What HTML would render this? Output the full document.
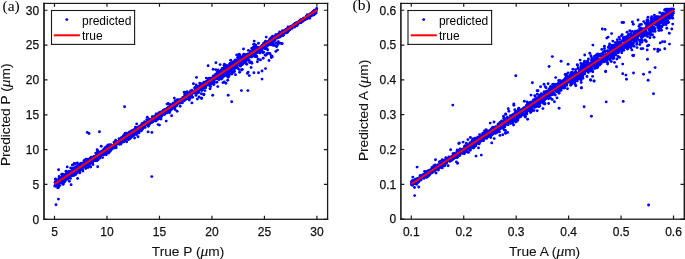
<!DOCTYPE html>
<html><head><meta charset="utf-8"><style>
html,body{margin:0;padding:0;background:#fff;width:685px;height:259px;overflow:hidden}
svg{display:block;will-change:transform}
text{font-family:"Liberation Sans",sans-serif;fill:#000}
.tk{font-size:12px;fill:#111;stroke:#111;stroke-width:0.25px}
.lb{font-size:13.7px;fill:#111;stroke:#111;stroke-width:0.1px}
.lg{font-size:12px;fill:#000}
.pn{font-family:"Liberation Serif",serif;font-size:15.5px;fill:#000}
</style></head><body>
<svg width="685" height="259" viewBox="0 0 685 259">
<g fill="#0000ff"><circle cx="218.5" cy="72.1" r="1.45"/><circle cx="289.9" cy="28.3" r="1.45"/><circle cx="258.0" cy="51.5" r="1.45"/><circle cx="113.6" cy="145.7" r="1.45"/><circle cx="133.2" cy="132.3" r="1.45"/><circle cx="283.7" cy="34.8" r="1.45"/><circle cx="55.9" cy="183.3" r="1.45"/><circle cx="269.9" cy="39.2" r="1.45"/><circle cx="263.6" cy="44.5" r="1.45"/><circle cx="177.3" cy="102.6" r="1.45"/><circle cx="134.0" cy="135.5" r="1.45"/><circle cx="127.5" cy="136.8" r="1.45"/><circle cx="121.4" cy="142.1" r="1.45"/><circle cx="171.3" cy="105.6" r="1.45"/><circle cx="186.9" cy="97.4" r="1.45"/><circle cx="199.7" cy="89.5" r="1.45"/><circle cx="315.7" cy="13.1" r="1.45"/><circle cx="262.5" cy="45.3" r="1.45"/><circle cx="217.7" cy="77.6" r="1.45"/><circle cx="314.0" cy="12.9" r="1.45"/><circle cx="111.0" cy="145.8" r="1.45"/><circle cx="96.5" cy="156.9" r="1.45"/><circle cx="215.2" cy="77.3" r="1.45"/><circle cx="66.0" cy="171.3" r="1.45"/><circle cx="63.9" cy="180.0" r="1.45"/><circle cx="189.6" cy="95.9" r="1.45"/><circle cx="176.8" cy="102.7" r="1.45"/><circle cx="295.1" cy="23.7" r="1.45"/><circle cx="219.6" cy="78.4" r="1.45"/><circle cx="189.4" cy="95.5" r="1.45"/><circle cx="184.9" cy="99.9" r="1.45"/><circle cx="119.4" cy="144.2" r="1.45"/><circle cx="57.6" cy="181.6" r="1.45"/><circle cx="105.0" cy="153.0" r="1.45"/><circle cx="236.1" cy="63.6" r="1.45"/><circle cx="107.1" cy="150.0" r="1.45"/><circle cx="151.4" cy="120.4" r="1.45"/><circle cx="55.5" cy="184.4" r="1.45"/><circle cx="272.3" cy="42.1" r="1.45"/><circle cx="95.0" cy="158.2" r="1.45"/><circle cx="124.7" cy="138.2" r="1.45"/><circle cx="285.5" cy="30.9" r="1.45"/><circle cx="188.2" cy="96.4" r="1.45"/><circle cx="276.7" cy="35.7" r="1.45"/><circle cx="222.3" cy="72.0" r="1.45"/><circle cx="249.1" cy="55.4" r="1.45"/><circle cx="78.5" cy="167.2" r="1.45"/><circle cx="196.5" cy="90.0" r="1.45"/><circle cx="187.7" cy="95.0" r="1.45"/><circle cx="283.1" cy="35.2" r="1.45"/><circle cx="149.3" cy="124.0" r="1.45"/><circle cx="211.4" cy="81.4" r="1.45"/><circle cx="70.0" cy="174.2" r="1.45"/><circle cx="156.2" cy="120.7" r="1.45"/><circle cx="139.2" cy="129.2" r="1.45"/><circle cx="93.9" cy="158.4" r="1.45"/><circle cx="268.7" cy="43.1" r="1.45"/><circle cx="154.0" cy="119.2" r="1.45"/><circle cx="311.3" cy="15.7" r="1.45"/><circle cx="209.3" cy="81.7" r="1.45"/><circle cx="213.2" cy="84.0" r="1.45"/><circle cx="221.9" cy="71.4" r="1.45"/><circle cx="232.0" cy="68.4" r="1.45"/><circle cx="94.1" cy="156.4" r="1.45"/><circle cx="170.0" cy="111.0" r="1.45"/><circle cx="117.3" cy="142.8" r="1.45"/><circle cx="160.1" cy="114.6" r="1.45"/><circle cx="79.9" cy="169.9" r="1.45"/><circle cx="308.4" cy="17.4" r="1.45"/><circle cx="110.9" cy="145.7" r="1.45"/><circle cx="230.7" cy="66.8" r="1.45"/><circle cx="133.3" cy="130.5" r="1.45"/><circle cx="283.8" cy="32.5" r="1.45"/><circle cx="228.2" cy="69.1" r="1.45"/><circle cx="89.0" cy="161.0" r="1.45"/><circle cx="276.2" cy="36.4" r="1.45"/><circle cx="302.4" cy="19.9" r="1.45"/><circle cx="291.6" cy="26.5" r="1.45"/><circle cx="204.0" cy="86.4" r="1.45"/><circle cx="92.7" cy="162.7" r="1.45"/><circle cx="105.0" cy="147.8" r="1.45"/><circle cx="297.9" cy="23.0" r="1.45"/><circle cx="199.4" cy="87.4" r="1.45"/><circle cx="101.9" cy="154.5" r="1.45"/><circle cx="286.4" cy="29.6" r="1.45"/><circle cx="222.8" cy="72.5" r="1.45"/><circle cx="204.0" cy="83.0" r="1.45"/><circle cx="153.2" cy="120.4" r="1.45"/><circle cx="162.3" cy="113.4" r="1.45"/><circle cx="117.3" cy="143.1" r="1.45"/><circle cx="64.5" cy="179.0" r="1.45"/><circle cx="284.4" cy="31.7" r="1.45"/><circle cx="177.2" cy="100.6" r="1.45"/><circle cx="198.2" cy="90.3" r="1.45"/><circle cx="139.0" cy="129.3" r="1.45"/><circle cx="251.6" cy="53.5" r="1.45"/><circle cx="61.1" cy="182.9" r="1.45"/><circle cx="152.1" cy="121.9" r="1.45"/><circle cx="62.5" cy="176.8" r="1.45"/><circle cx="86.7" cy="161.5" r="1.45"/><circle cx="308.2" cy="17.8" r="1.45"/><circle cx="227.1" cy="73.3" r="1.45"/><circle cx="166.8" cy="109.0" r="1.45"/><circle cx="191.9" cy="91.0" r="1.45"/><circle cx="283.5" cy="31.8" r="1.45"/><circle cx="144.8" cy="124.2" r="1.45"/><circle cx="209.4" cy="78.1" r="1.45"/><circle cx="233.9" cy="65.6" r="1.45"/><circle cx="147.7" cy="121.1" r="1.45"/><circle cx="190.7" cy="91.8" r="1.45"/><circle cx="255.3" cy="53.2" r="1.45"/><circle cx="293.0" cy="25.7" r="1.45"/><circle cx="94.1" cy="158.3" r="1.45"/><circle cx="299.4" cy="22.8" r="1.45"/><circle cx="55.9" cy="186.2" r="1.45"/><circle cx="252.0" cy="52.9" r="1.45"/><circle cx="267.1" cy="43.6" r="1.45"/><circle cx="90.4" cy="159.1" r="1.45"/><circle cx="164.4" cy="114.6" r="1.45"/><circle cx="268.4" cy="43.9" r="1.45"/><circle cx="58.2" cy="179.6" r="1.45"/><circle cx="219.4" cy="75.1" r="1.45"/><circle cx="262.5" cy="47.9" r="1.45"/><circle cx="189.1" cy="96.1" r="1.45"/><circle cx="244.9" cy="62.1" r="1.45"/><circle cx="113.9" cy="148.0" r="1.45"/><circle cx="106.6" cy="149.4" r="1.45"/><circle cx="149.8" cy="121.5" r="1.45"/><circle cx="101.6" cy="151.2" r="1.45"/><circle cx="145.3" cy="125.0" r="1.45"/><circle cx="303.2" cy="19.8" r="1.45"/><circle cx="204.9" cy="90.6" r="1.45"/><circle cx="143.7" cy="125.8" r="1.45"/><circle cx="125.7" cy="134.4" r="1.45"/><circle cx="304.3" cy="18.4" r="1.45"/><circle cx="171.1" cy="107.5" r="1.45"/><circle cx="311.7" cy="13.1" r="1.45"/><circle cx="189.7" cy="93.1" r="1.45"/><circle cx="191.2" cy="93.1" r="1.45"/><circle cx="289.7" cy="28.8" r="1.45"/><circle cx="249.4" cy="55.0" r="1.45"/><circle cx="206.8" cy="81.4" r="1.45"/><circle cx="166.4" cy="111.7" r="1.45"/><circle cx="284.9" cy="31.0" r="1.45"/><circle cx="162.5" cy="112.3" r="1.45"/><circle cx="296.6" cy="22.7" r="1.45"/><circle cx="72.5" cy="170.7" r="1.45"/><circle cx="167.3" cy="110.9" r="1.45"/><circle cx="190.8" cy="91.0" r="1.45"/><circle cx="304.0" cy="19.1" r="1.45"/><circle cx="120.3" cy="142.5" r="1.45"/><circle cx="266.0" cy="43.6" r="1.45"/><circle cx="232.0" cy="67.4" r="1.45"/><circle cx="242.6" cy="57.4" r="1.45"/><circle cx="219.7" cy="77.9" r="1.45"/><circle cx="309.4" cy="16.6" r="1.45"/><circle cx="141.8" cy="127.3" r="1.45"/><circle cx="159.0" cy="112.7" r="1.45"/><circle cx="107.7" cy="147.8" r="1.45"/><circle cx="67.8" cy="178.2" r="1.45"/><circle cx="110.4" cy="151.1" r="1.45"/><circle cx="294.7" cy="25.5" r="1.45"/><circle cx="274.9" cy="40.3" r="1.45"/><circle cx="84.0" cy="163.6" r="1.45"/><circle cx="212.9" cy="79.0" r="1.45"/><circle cx="180.2" cy="101.2" r="1.45"/><circle cx="210.5" cy="81.9" r="1.45"/><circle cx="227.5" cy="66.3" r="1.45"/><circle cx="135.0" cy="133.0" r="1.45"/><circle cx="306.7" cy="18.6" r="1.45"/><circle cx="176.7" cy="101.6" r="1.45"/><circle cx="219.3" cy="72.1" r="1.45"/><circle cx="221.2" cy="74.8" r="1.45"/><circle cx="102.7" cy="151.6" r="1.45"/><circle cx="70.7" cy="168.0" r="1.45"/><circle cx="162.5" cy="114.4" r="1.45"/><circle cx="254.9" cy="51.9" r="1.45"/><circle cx="268.4" cy="41.8" r="1.45"/><circle cx="246.0" cy="61.9" r="1.45"/><circle cx="84.2" cy="165.2" r="1.45"/><circle cx="294.1" cy="24.9" r="1.45"/><circle cx="264.9" cy="45.2" r="1.45"/><circle cx="284.8" cy="30.5" r="1.45"/><circle cx="191.8" cy="91.9" r="1.45"/><circle cx="294.7" cy="25.6" r="1.45"/><circle cx="66.7" cy="175.2" r="1.45"/><circle cx="62.4" cy="178.4" r="1.45"/><circle cx="59.8" cy="185.6" r="1.45"/><circle cx="120.8" cy="142.4" r="1.45"/><circle cx="119.7" cy="143.0" r="1.45"/><circle cx="103.7" cy="153.3" r="1.45"/><circle cx="203.3" cy="86.8" r="1.45"/><circle cx="64.7" cy="181.5" r="1.45"/><circle cx="209.4" cy="81.7" r="1.45"/><circle cx="98.1" cy="159.7" r="1.45"/><circle cx="232.3" cy="64.4" r="1.45"/><circle cx="60.0" cy="180.6" r="1.45"/><circle cx="136.0" cy="128.7" r="1.45"/><circle cx="300.7" cy="21.0" r="1.45"/><circle cx="195.7" cy="91.8" r="1.45"/><circle cx="267.4" cy="46.1" r="1.45"/><circle cx="227.1" cy="68.5" r="1.45"/><circle cx="214.7" cy="78.2" r="1.45"/><circle cx="104.7" cy="151.0" r="1.45"/><circle cx="205.2" cy="82.8" r="1.45"/><circle cx="64.9" cy="174.8" r="1.45"/><circle cx="264.8" cy="45.2" r="1.45"/><circle cx="306.4" cy="16.1" r="1.45"/><circle cx="278.5" cy="36.0" r="1.45"/><circle cx="67.8" cy="175.9" r="1.45"/><circle cx="143.3" cy="124.9" r="1.45"/><circle cx="137.9" cy="128.0" r="1.45"/><circle cx="84.1" cy="161.7" r="1.45"/><circle cx="218.9" cy="79.7" r="1.45"/><circle cx="263.7" cy="43.2" r="1.45"/><circle cx="136.8" cy="132.7" r="1.45"/><circle cx="280.9" cy="35.1" r="1.45"/><circle cx="263.6" cy="45.1" r="1.45"/><circle cx="88.4" cy="159.6" r="1.45"/><circle cx="255.7" cy="53.2" r="1.45"/><circle cx="286.1" cy="32.7" r="1.45"/><circle cx="106.3" cy="148.9" r="1.45"/><circle cx="205.0" cy="83.9" r="1.45"/><circle cx="222.1" cy="75.8" r="1.45"/><circle cx="214.4" cy="79.2" r="1.45"/><circle cx="79.8" cy="172.5" r="1.45"/><circle cx="228.0" cy="68.1" r="1.45"/><circle cx="220.3" cy="75.8" r="1.45"/><circle cx="270.6" cy="38.8" r="1.45"/><circle cx="265.3" cy="48.8" r="1.45"/><circle cx="140.3" cy="126.8" r="1.45"/><circle cx="243.9" cy="54.3" r="1.45"/><circle cx="282.0" cy="33.4" r="1.45"/><circle cx="288.8" cy="29.0" r="1.45"/><circle cx="96.9" cy="160.7" r="1.45"/><circle cx="61.5" cy="179.3" r="1.45"/><circle cx="225.2" cy="71.2" r="1.45"/><circle cx="110.8" cy="148.8" r="1.45"/><circle cx="202.4" cy="89.7" r="1.45"/><circle cx="302.4" cy="20.2" r="1.45"/><circle cx="154.0" cy="120.4" r="1.45"/><circle cx="120.8" cy="141.8" r="1.45"/><circle cx="174.3" cy="104.7" r="1.45"/><circle cx="226.9" cy="70.3" r="1.45"/><circle cx="81.0" cy="167.0" r="1.45"/><circle cx="154.3" cy="117.2" r="1.45"/><circle cx="89.6" cy="164.1" r="1.45"/><circle cx="228.3" cy="66.1" r="1.45"/><circle cx="272.4" cy="42.1" r="1.45"/><circle cx="153.4" cy="120.7" r="1.45"/><circle cx="152.0" cy="120.0" r="1.45"/><circle cx="196.0" cy="89.0" r="1.45"/><circle cx="110.9" cy="147.2" r="1.45"/><circle cx="119.4" cy="142.7" r="1.45"/><circle cx="141.0" cy="128.6" r="1.45"/><circle cx="174.5" cy="105.5" r="1.45"/><circle cx="75.9" cy="172.8" r="1.45"/><circle cx="252.0" cy="52.5" r="1.45"/><circle cx="206.4" cy="84.2" r="1.45"/><circle cx="133.1" cy="130.3" r="1.45"/><circle cx="74.8" cy="172.9" r="1.45"/><circle cx="254.7" cy="52.1" r="1.45"/><circle cx="88.9" cy="160.9" r="1.45"/><circle cx="89.4" cy="164.1" r="1.45"/><circle cx="88.8" cy="163.4" r="1.45"/><circle cx="75.8" cy="163.6" r="1.45"/><circle cx="292.3" cy="26.8" r="1.45"/><circle cx="125.1" cy="135.8" r="1.45"/><circle cx="134.9" cy="133.3" r="1.45"/><circle cx="273.0" cy="43.9" r="1.45"/><circle cx="217.1" cy="75.4" r="1.45"/><circle cx="103.6" cy="152.5" r="1.45"/><circle cx="168.6" cy="108.6" r="1.45"/><circle cx="286.4" cy="31.0" r="1.45"/><circle cx="153.0" cy="120.5" r="1.45"/><circle cx="241.0" cy="63.6" r="1.45"/><circle cx="79.9" cy="165.3" r="1.45"/><circle cx="245.3" cy="61.3" r="1.45"/><circle cx="258.2" cy="47.6" r="1.45"/><circle cx="271.1" cy="41.4" r="1.45"/><circle cx="231.4" cy="69.9" r="1.45"/><circle cx="151.8" cy="121.4" r="1.45"/><circle cx="71.3" cy="171.1" r="1.45"/><circle cx="190.6" cy="92.9" r="1.45"/><circle cx="253.2" cy="51.8" r="1.45"/><circle cx="104.6" cy="151.6" r="1.45"/><circle cx="124.3" cy="140.5" r="1.45"/><circle cx="195.2" cy="88.6" r="1.45"/><circle cx="250.8" cy="55.3" r="1.45"/><circle cx="289.7" cy="29.1" r="1.45"/><circle cx="87.5" cy="164.0" r="1.45"/><circle cx="102.8" cy="153.8" r="1.45"/><circle cx="264.3" cy="48.3" r="1.45"/><circle cx="223.6" cy="73.5" r="1.45"/><circle cx="243.6" cy="60.9" r="1.45"/><circle cx="316.0" cy="11.8" r="1.45"/><circle cx="300.9" cy="22.8" r="1.45"/><circle cx="275.7" cy="34.8" r="1.45"/><circle cx="258.4" cy="51.8" r="1.45"/><circle cx="158.1" cy="115.6" r="1.45"/><circle cx="222.7" cy="72.3" r="1.45"/><circle cx="102.9" cy="150.9" r="1.45"/><circle cx="253.8" cy="48.7" r="1.45"/><circle cx="253.3" cy="52.0" r="1.45"/><circle cx="243.7" cy="57.6" r="1.45"/><circle cx="171.2" cy="108.1" r="1.45"/><circle cx="153.7" cy="116.7" r="1.45"/><circle cx="164.6" cy="113.9" r="1.45"/><circle cx="63.2" cy="179.6" r="1.45"/><circle cx="276.0" cy="37.2" r="1.45"/><circle cx="196.8" cy="88.6" r="1.45"/><circle cx="156.2" cy="116.1" r="1.45"/><circle cx="198.3" cy="86.7" r="1.45"/><circle cx="243.8" cy="57.9" r="1.45"/><circle cx="154.6" cy="118.4" r="1.45"/><circle cx="272.4" cy="39.7" r="1.45"/><circle cx="295.7" cy="23.3" r="1.45"/><circle cx="156.1" cy="117.0" r="1.45"/><circle cx="90.7" cy="158.8" r="1.45"/><circle cx="254.0" cy="52.6" r="1.45"/><circle cx="315.0" cy="13.6" r="1.45"/><circle cx="93.3" cy="160.3" r="1.45"/><circle cx="241.5" cy="59.9" r="1.45"/><circle cx="271.0" cy="37.9" r="1.45"/><circle cx="296.0" cy="23.1" r="1.45"/><circle cx="86.9" cy="159.3" r="1.45"/><circle cx="78.6" cy="170.3" r="1.45"/><circle cx="313.7" cy="12.2" r="1.45"/><circle cx="85.1" cy="164.4" r="1.45"/><circle cx="100.9" cy="152.9" r="1.45"/><circle cx="205.3" cy="84.6" r="1.45"/><circle cx="171.6" cy="109.3" r="1.45"/><circle cx="251.4" cy="52.6" r="1.45"/><circle cx="104.5" cy="151.1" r="1.45"/><circle cx="294.4" cy="24.7" r="1.45"/><circle cx="111.5" cy="148.8" r="1.45"/><circle cx="256.3" cy="48.7" r="1.45"/><circle cx="72.2" cy="170.1" r="1.45"/><circle cx="178.7" cy="99.9" r="1.45"/><circle cx="63.0" cy="175.6" r="1.45"/><circle cx="136.8" cy="131.0" r="1.45"/><circle cx="136.4" cy="134.5" r="1.45"/><circle cx="243.3" cy="57.2" r="1.45"/><circle cx="173.9" cy="107.0" r="1.45"/><circle cx="69.4" cy="175.4" r="1.45"/><circle cx="315.6" cy="10.6" r="1.45"/><circle cx="287.7" cy="29.5" r="1.45"/><circle cx="294.9" cy="24.9" r="1.45"/><circle cx="119.2" cy="141.0" r="1.45"/><circle cx="157.9" cy="119.2" r="1.45"/><circle cx="114.1" cy="142.2" r="1.45"/><circle cx="87.3" cy="163.7" r="1.45"/><circle cx="63.2" cy="179.8" r="1.45"/><circle cx="186.6" cy="95.9" r="1.45"/><circle cx="86.8" cy="163.5" r="1.45"/><circle cx="100.8" cy="155.9" r="1.45"/><circle cx="280.2" cy="34.9" r="1.45"/><circle cx="181.5" cy="101.0" r="1.45"/><circle cx="102.7" cy="154.3" r="1.45"/><circle cx="230.2" cy="63.3" r="1.45"/><circle cx="124.2" cy="141.1" r="1.45"/><circle cx="192.7" cy="97.2" r="1.45"/><circle cx="128.7" cy="137.3" r="1.45"/><circle cx="189.9" cy="96.6" r="1.45"/><circle cx="219.4" cy="71.9" r="1.45"/><circle cx="195.2" cy="90.9" r="1.45"/><circle cx="158.3" cy="114.7" r="1.45"/><circle cx="262.0" cy="45.8" r="1.45"/><circle cx="283.6" cy="33.6" r="1.45"/><circle cx="101.6" cy="152.1" r="1.45"/><circle cx="90.3" cy="160.7" r="1.45"/><circle cx="84.2" cy="160.4" r="1.45"/><circle cx="311.5" cy="14.2" r="1.45"/><circle cx="301.5" cy="20.9" r="1.45"/><circle cx="115.0" cy="143.7" r="1.45"/><circle cx="309.0" cy="15.3" r="1.45"/><circle cx="109.0" cy="152.3" r="1.45"/><circle cx="187.4" cy="94.1" r="1.45"/><circle cx="185.0" cy="96.1" r="1.45"/><circle cx="294.5" cy="24.6" r="1.45"/><circle cx="65.1" cy="180.6" r="1.45"/><circle cx="137.2" cy="133.3" r="1.45"/><circle cx="211.9" cy="80.8" r="1.45"/><circle cx="71.9" cy="171.3" r="1.45"/><circle cx="116.6" cy="143.1" r="1.45"/><circle cx="176.5" cy="105.5" r="1.45"/><circle cx="285.6" cy="30.2" r="1.45"/><circle cx="254.1" cy="55.0" r="1.45"/><circle cx="272.0" cy="42.8" r="1.45"/><circle cx="254.2" cy="52.3" r="1.45"/><circle cx="240.2" cy="62.8" r="1.45"/><circle cx="277.4" cy="37.7" r="1.45"/><circle cx="233.3" cy="69.5" r="1.45"/><circle cx="247.5" cy="54.4" r="1.45"/><circle cx="133.6" cy="134.3" r="1.45"/><circle cx="98.5" cy="154.9" r="1.45"/><circle cx="253.0" cy="51.4" r="1.45"/><circle cx="98.0" cy="156.2" r="1.45"/><circle cx="295.7" cy="24.4" r="1.45"/><circle cx="211.0" cy="78.3" r="1.45"/><circle cx="140.9" cy="125.1" r="1.45"/><circle cx="300.2" cy="20.8" r="1.45"/><circle cx="95.2" cy="160.8" r="1.45"/><circle cx="189.5" cy="98.7" r="1.45"/><circle cx="78.5" cy="170.1" r="1.45"/><circle cx="307.8" cy="17.8" r="1.45"/><circle cx="205.4" cy="83.2" r="1.45"/><circle cx="265.3" cy="44.6" r="1.45"/><circle cx="128.5" cy="136.3" r="1.45"/><circle cx="264.9" cy="42.9" r="1.45"/><circle cx="238.9" cy="60.1" r="1.45"/><circle cx="223.4" cy="72.7" r="1.45"/><circle cx="303.9" cy="19.0" r="1.45"/><circle cx="168.2" cy="107.5" r="1.45"/><circle cx="163.4" cy="113.1" r="1.45"/><circle cx="236.1" cy="63.5" r="1.45"/><circle cx="273.6" cy="40.9" r="1.45"/><circle cx="142.4" cy="126.6" r="1.45"/><circle cx="230.2" cy="67.3" r="1.45"/><circle cx="109.3" cy="148.9" r="1.45"/><circle cx="199.2" cy="88.0" r="1.45"/><circle cx="256.3" cy="49.4" r="1.45"/><circle cx="71.6" cy="172.3" r="1.45"/><circle cx="245.4" cy="59.5" r="1.45"/><circle cx="58.5" cy="183.9" r="1.45"/><circle cx="305.9" cy="19.1" r="1.45"/><circle cx="177.5" cy="100.2" r="1.45"/><circle cx="161.8" cy="112.9" r="1.45"/><circle cx="243.5" cy="58.3" r="1.45"/><circle cx="191.8" cy="93.7" r="1.45"/><circle cx="246.2" cy="56.5" r="1.45"/><circle cx="76.7" cy="168.5" r="1.45"/><circle cx="202.1" cy="88.2" r="1.45"/><circle cx="200.9" cy="87.7" r="1.45"/><circle cx="299.0" cy="21.3" r="1.45"/><circle cx="64.9" cy="181.1" r="1.45"/><circle cx="173.3" cy="107.5" r="1.45"/><circle cx="220.1" cy="73.3" r="1.45"/><circle cx="199.0" cy="90.3" r="1.45"/><circle cx="74.0" cy="169.9" r="1.45"/><circle cx="210.1" cy="83.8" r="1.45"/><circle cx="112.8" cy="146.0" r="1.45"/><circle cx="105.8" cy="149.4" r="1.45"/><circle cx="285.0" cy="31.1" r="1.45"/><circle cx="106.4" cy="149.1" r="1.45"/><circle cx="173.7" cy="105.9" r="1.45"/><circle cx="251.3" cy="54.3" r="1.45"/><circle cx="240.1" cy="61.6" r="1.45"/><circle cx="199.7" cy="86.9" r="1.45"/><circle cx="266.2" cy="37.1" r="1.45"/><circle cx="176.7" cy="103.7" r="1.45"/><circle cx="217.3" cy="72.2" r="1.45"/><circle cx="269.3" cy="42.5" r="1.45"/><circle cx="232.4" cy="69.1" r="1.45"/><circle cx="222.9" cy="73.4" r="1.45"/><circle cx="161.0" cy="113.5" r="1.45"/><circle cx="201.0" cy="86.9" r="1.45"/><circle cx="158.4" cy="115.6" r="1.45"/><circle cx="249.8" cy="53.9" r="1.45"/><circle cx="154.3" cy="117.7" r="1.45"/><circle cx="176.9" cy="101.8" r="1.45"/><circle cx="252.7" cy="55.5" r="1.45"/><circle cx="186.6" cy="96.8" r="1.45"/><circle cx="143.2" cy="127.5" r="1.45"/><circle cx="271.4" cy="40.2" r="1.45"/><circle cx="154.4" cy="118.6" r="1.45"/><circle cx="276.1" cy="37.2" r="1.45"/><circle cx="260.5" cy="48.8" r="1.45"/><circle cx="171.8" cy="108.2" r="1.45"/><circle cx="241.5" cy="61.0" r="1.45"/><circle cx="63.5" cy="177.1" r="1.45"/><circle cx="156.8" cy="115.7" r="1.45"/><circle cx="280.2" cy="36.9" r="1.45"/><circle cx="206.5" cy="83.0" r="1.45"/><circle cx="200.8" cy="86.7" r="1.45"/><circle cx="228.9" cy="72.2" r="1.45"/><circle cx="232.3" cy="69.1" r="1.45"/><circle cx="207.6" cy="84.1" r="1.45"/><circle cx="164.9" cy="110.9" r="1.45"/><circle cx="102.6" cy="157.6" r="1.45"/><circle cx="131.3" cy="134.6" r="1.45"/><circle cx="131.3" cy="134.8" r="1.45"/><circle cx="167.5" cy="109.4" r="1.45"/><circle cx="316.6" cy="9.8" r="1.45"/><circle cx="147.0" cy="121.5" r="1.45"/><circle cx="171.9" cy="107.5" r="1.45"/><circle cx="152.0" cy="120.7" r="1.45"/><circle cx="207.0" cy="82.7" r="1.45"/><circle cx="303.2" cy="18.7" r="1.45"/><circle cx="287.7" cy="28.3" r="1.45"/><circle cx="153.4" cy="118.7" r="1.45"/><circle cx="124.5" cy="136.2" r="1.45"/><circle cx="286.5" cy="31.5" r="1.45"/><circle cx="184.1" cy="100.7" r="1.45"/><circle cx="234.4" cy="71.6" r="1.45"/><circle cx="73.7" cy="174.0" r="1.45"/><circle cx="281.8" cy="32.9" r="1.45"/><circle cx="136.6" cy="129.1" r="1.45"/><circle cx="184.2" cy="92.3" r="1.45"/><circle cx="106.5" cy="149.4" r="1.45"/><circle cx="164.8" cy="111.3" r="1.45"/><circle cx="271.7" cy="42.2" r="1.45"/><circle cx="271.6" cy="41.6" r="1.45"/><circle cx="178.8" cy="103.2" r="1.45"/><circle cx="256.0" cy="51.4" r="1.45"/><circle cx="174.7" cy="106.0" r="1.45"/><circle cx="152.5" cy="122.0" r="1.45"/><circle cx="197.7" cy="87.2" r="1.45"/><circle cx="107.3" cy="149.1" r="1.45"/><circle cx="137.5" cy="127.7" r="1.45"/><circle cx="239.9" cy="65.1" r="1.45"/><circle cx="256.6" cy="53.0" r="1.45"/><circle cx="69.4" cy="176.6" r="1.45"/><circle cx="246.8" cy="54.6" r="1.45"/><circle cx="269.0" cy="42.6" r="1.45"/><circle cx="171.3" cy="106.8" r="1.45"/><circle cx="70.9" cy="173.9" r="1.45"/><circle cx="233.7" cy="65.3" r="1.45"/><circle cx="119.1" cy="143.0" r="1.45"/><circle cx="223.3" cy="71.6" r="1.45"/><circle cx="153.3" cy="120.6" r="1.45"/><circle cx="221.7" cy="74.2" r="1.45"/><circle cx="122.2" cy="139.6" r="1.45"/><circle cx="179.5" cy="101.5" r="1.45"/><circle cx="192.1" cy="92.3" r="1.45"/><circle cx="220.0" cy="76.5" r="1.45"/><circle cx="107.8" cy="149.2" r="1.45"/><circle cx="306.9" cy="17.6" r="1.45"/><circle cx="130.4" cy="134.0" r="1.45"/><circle cx="134.8" cy="129.4" r="1.45"/><circle cx="121.7" cy="141.8" r="1.45"/><circle cx="72.2" cy="170.3" r="1.45"/><circle cx="165.5" cy="112.2" r="1.45"/><circle cx="257.0" cy="51.1" r="1.45"/><circle cx="240.7" cy="57.5" r="1.45"/><circle cx="105.8" cy="149.2" r="1.45"/><circle cx="90.4" cy="159.7" r="1.45"/><circle cx="138.8" cy="127.7" r="1.45"/><circle cx="256.1" cy="48.5" r="1.45"/><circle cx="182.5" cy="100.9" r="1.45"/><circle cx="296.7" cy="23.7" r="1.45"/><circle cx="226.7" cy="71.2" r="1.45"/><circle cx="217.4" cy="75.4" r="1.45"/><circle cx="255.9" cy="51.6" r="1.45"/><circle cx="251.3" cy="52.5" r="1.45"/><circle cx="144.7" cy="125.0" r="1.45"/><circle cx="121.9" cy="141.2" r="1.45"/><circle cx="169.3" cy="108.6" r="1.45"/><circle cx="182.9" cy="98.6" r="1.45"/><circle cx="91.7" cy="157.7" r="1.45"/><circle cx="170.3" cy="108.1" r="1.45"/><circle cx="222.4" cy="73.9" r="1.45"/><circle cx="90.1" cy="160.5" r="1.45"/><circle cx="90.7" cy="159.0" r="1.45"/><circle cx="100.1" cy="155.7" r="1.45"/><circle cx="128.8" cy="139.5" r="1.45"/><circle cx="306.8" cy="17.1" r="1.45"/><circle cx="61.3" cy="181.2" r="1.45"/><circle cx="102.7" cy="153.7" r="1.45"/><circle cx="97.8" cy="150.9" r="1.45"/><circle cx="178.9" cy="102.2" r="1.45"/><circle cx="58.5" cy="180.5" r="1.45"/><circle cx="174.7" cy="107.2" r="1.45"/><circle cx="97.2" cy="155.9" r="1.45"/><circle cx="125.2" cy="136.8" r="1.45"/><circle cx="262.4" cy="46.2" r="1.45"/><circle cx="102.8" cy="153.2" r="1.45"/><circle cx="216.4" cy="75.8" r="1.45"/><circle cx="161.1" cy="113.9" r="1.45"/><circle cx="164.1" cy="109.9" r="1.45"/><circle cx="268.8" cy="42.0" r="1.45"/><circle cx="96.7" cy="158.4" r="1.45"/><circle cx="296.9" cy="25.7" r="1.45"/><circle cx="288.9" cy="29.7" r="1.45"/><circle cx="229.8" cy="68.9" r="1.45"/><circle cx="67.5" cy="179.0" r="1.45"/><circle cx="228.5" cy="71.4" r="1.45"/><circle cx="212.0" cy="83.8" r="1.45"/><circle cx="257.1" cy="52.3" r="1.45"/><circle cx="110.6" cy="147.6" r="1.45"/><circle cx="304.6" cy="19.0" r="1.45"/><circle cx="287.0" cy="30.4" r="1.45"/><circle cx="84.5" cy="165.4" r="1.45"/><circle cx="137.2" cy="130.4" r="1.45"/><circle cx="63.0" cy="177.2" r="1.45"/><circle cx="272.5" cy="36.3" r="1.45"/><circle cx="294.6" cy="24.7" r="1.45"/><circle cx="314.2" cy="10.8" r="1.45"/><circle cx="215.0" cy="78.1" r="1.45"/><circle cx="229.2" cy="68.6" r="1.45"/><circle cx="232.5" cy="62.7" r="1.45"/><circle cx="204.1" cy="86.7" r="1.45"/><circle cx="304.4" cy="19.7" r="1.45"/><circle cx="214.0" cy="78.9" r="1.45"/><circle cx="142.6" cy="129.0" r="1.45"/><circle cx="189.1" cy="98.8" r="1.45"/><circle cx="59.4" cy="178.6" r="1.45"/><circle cx="244.5" cy="60.7" r="1.45"/><circle cx="236.6" cy="64.8" r="1.45"/><circle cx="165.0" cy="112.1" r="1.45"/><circle cx="277.9" cy="37.7" r="1.45"/><circle cx="252.7" cy="51.7" r="1.45"/><circle cx="142.8" cy="125.4" r="1.45"/><circle cx="74.8" cy="169.1" r="1.45"/><circle cx="89.2" cy="160.0" r="1.45"/><circle cx="102.8" cy="152.7" r="1.45"/><circle cx="134.2" cy="129.8" r="1.45"/><circle cx="171.9" cy="105.0" r="1.45"/><circle cx="298.0" cy="23.6" r="1.45"/><circle cx="127.5" cy="136.4" r="1.45"/><circle cx="290.2" cy="28.5" r="1.45"/><circle cx="233.0" cy="61.9" r="1.45"/><circle cx="278.4" cy="34.9" r="1.45"/><circle cx="160.3" cy="113.7" r="1.45"/><circle cx="55.4" cy="184.6" r="1.45"/><circle cx="261.0" cy="46.5" r="1.45"/><circle cx="118.9" cy="143.8" r="1.45"/><circle cx="91.9" cy="159.8" r="1.45"/><circle cx="264.2" cy="45.5" r="1.45"/><circle cx="234.6" cy="65.1" r="1.45"/><circle cx="110.2" cy="149.4" r="1.45"/><circle cx="124.7" cy="137.7" r="1.45"/><circle cx="300.9" cy="22.2" r="1.45"/><circle cx="125.0" cy="139.0" r="1.45"/><circle cx="238.8" cy="62.7" r="1.45"/><circle cx="88.5" cy="162.2" r="1.45"/><circle cx="268.3" cy="43.7" r="1.45"/><circle cx="85.3" cy="166.5" r="1.45"/><circle cx="189.9" cy="96.5" r="1.45"/><circle cx="63.7" cy="179.5" r="1.45"/><circle cx="198.8" cy="90.5" r="1.45"/><circle cx="276.6" cy="37.4" r="1.45"/><circle cx="76.6" cy="172.9" r="1.45"/><circle cx="126.5" cy="137.2" r="1.45"/><circle cx="255.1" cy="47.4" r="1.45"/><circle cx="214.0" cy="81.7" r="1.45"/><circle cx="136.6" cy="130.6" r="1.45"/><circle cx="219.5" cy="72.3" r="1.45"/><circle cx="173.8" cy="105.2" r="1.45"/><circle cx="280.7" cy="33.3" r="1.45"/><circle cx="131.4" cy="137.2" r="1.45"/><circle cx="253.3" cy="53.7" r="1.45"/><circle cx="221.3" cy="70.3" r="1.45"/><circle cx="248.8" cy="56.8" r="1.45"/><circle cx="153.7" cy="118.4" r="1.45"/><circle cx="244.7" cy="62.4" r="1.45"/><circle cx="237.7" cy="60.7" r="1.45"/><circle cx="156.2" cy="113.9" r="1.45"/><circle cx="61.4" cy="180.4" r="1.45"/><circle cx="307.1" cy="16.8" r="1.45"/><circle cx="241.7" cy="59.5" r="1.45"/><circle cx="108.2" cy="145.5" r="1.45"/><circle cx="246.2" cy="58.3" r="1.45"/><circle cx="127.6" cy="139.1" r="1.45"/><circle cx="177.6" cy="99.7" r="1.45"/><circle cx="280.1" cy="36.4" r="1.45"/><circle cx="172.1" cy="105.7" r="1.45"/><circle cx="130.1" cy="138.5" r="1.45"/><circle cx="134.6" cy="132.4" r="1.45"/><circle cx="74.7" cy="170.7" r="1.45"/><circle cx="112.1" cy="148.8" r="1.45"/><circle cx="125.6" cy="138.6" r="1.45"/><circle cx="99.9" cy="153.6" r="1.45"/><circle cx="71.0" cy="175.4" r="1.45"/><circle cx="176.7" cy="102.7" r="1.45"/><circle cx="110.7" cy="144.6" r="1.45"/><circle cx="248.3" cy="60.1" r="1.45"/><circle cx="296.5" cy="23.7" r="1.45"/><circle cx="126.1" cy="136.5" r="1.45"/><circle cx="204.6" cy="85.6" r="1.45"/><circle cx="187.4" cy="93.4" r="1.45"/><circle cx="74.2" cy="168.2" r="1.45"/><circle cx="87.3" cy="161.8" r="1.45"/><circle cx="286.6" cy="29.9" r="1.45"/><circle cx="178.9" cy="102.2" r="1.45"/><circle cx="265.6" cy="46.7" r="1.45"/><circle cx="72.0" cy="171.8" r="1.45"/><circle cx="210.5" cy="82.1" r="1.45"/><circle cx="281.5" cy="34.6" r="1.45"/><circle cx="282.0" cy="32.2" r="1.45"/><circle cx="56.0" cy="184.6" r="1.45"/><circle cx="191.4" cy="91.9" r="1.45"/><circle cx="151.3" cy="122.2" r="1.45"/><circle cx="253.9" cy="53.2" r="1.45"/><circle cx="73.7" cy="171.9" r="1.45"/><circle cx="124.0" cy="136.8" r="1.45"/><circle cx="267.7" cy="43.4" r="1.45"/><circle cx="177.7" cy="101.6" r="1.45"/><circle cx="173.4" cy="106.9" r="1.45"/><circle cx="308.6" cy="16.1" r="1.45"/><circle cx="138.4" cy="128.0" r="1.45"/><circle cx="65.4" cy="179.7" r="1.45"/><circle cx="157.4" cy="117.6" r="1.45"/><circle cx="94.7" cy="156.8" r="1.45"/><circle cx="76.0" cy="173.1" r="1.45"/><circle cx="203.5" cy="84.9" r="1.45"/><circle cx="304.7" cy="18.5" r="1.45"/><circle cx="206.5" cy="83.9" r="1.45"/><circle cx="224.3" cy="70.2" r="1.45"/><circle cx="139.4" cy="127.9" r="1.45"/><circle cx="204.3" cy="84.7" r="1.45"/><circle cx="251.9" cy="56.7" r="1.45"/><circle cx="209.1" cy="85.3" r="1.45"/><circle cx="265.1" cy="44.4" r="1.45"/><circle cx="198.9" cy="92.0" r="1.45"/><circle cx="106.5" cy="150.4" r="1.45"/><circle cx="207.4" cy="83.9" r="1.45"/><circle cx="183.3" cy="100.7" r="1.45"/><circle cx="98.0" cy="156.6" r="1.45"/><circle cx="216.9" cy="82.3" r="1.45"/><circle cx="268.8" cy="42.8" r="1.45"/><circle cx="89.9" cy="158.5" r="1.45"/><circle cx="197.5" cy="92.3" r="1.45"/><circle cx="247.0" cy="56.0" r="1.45"/><circle cx="160.2" cy="114.1" r="1.45"/><circle cx="125.3" cy="133.2" r="1.45"/><circle cx="152.2" cy="121.5" r="1.45"/><circle cx="196.6" cy="91.8" r="1.45"/><circle cx="234.6" cy="66.8" r="1.45"/><circle cx="201.2" cy="89.2" r="1.45"/><circle cx="82.6" cy="169.9" r="1.45"/><circle cx="269.1" cy="42.1" r="1.45"/><circle cx="296.9" cy="24.7" r="1.45"/><circle cx="81.1" cy="165.1" r="1.45"/><circle cx="120.0" cy="141.0" r="1.45"/><circle cx="100.1" cy="156.8" r="1.45"/><circle cx="277.3" cy="37.3" r="1.45"/><circle cx="293.3" cy="24.9" r="1.45"/><circle cx="66.1" cy="177.9" r="1.45"/><circle cx="141.7" cy="126.8" r="1.45"/><circle cx="105.0" cy="149.9" r="1.45"/><circle cx="177.7" cy="103.6" r="1.45"/><circle cx="296.3" cy="23.8" r="1.45"/><circle cx="72.9" cy="168.5" r="1.45"/><circle cx="99.4" cy="152.8" r="1.45"/><circle cx="182.3" cy="102.9" r="1.45"/><circle cx="192.0" cy="90.3" r="1.45"/><circle cx="250.1" cy="55.3" r="1.45"/><circle cx="169.3" cy="109.5" r="1.45"/><circle cx="91.5" cy="161.5" r="1.45"/><circle cx="147.3" cy="121.5" r="1.45"/><circle cx="312.2" cy="13.6" r="1.45"/><circle cx="251.5" cy="54.2" r="1.45"/><circle cx="85.0" cy="166.2" r="1.45"/><circle cx="266.5" cy="42.7" r="1.45"/><circle cx="136.1" cy="129.0" r="1.45"/><circle cx="259.5" cy="50.5" r="1.45"/><circle cx="57.8" cy="185.6" r="1.45"/><circle cx="283.1" cy="33.3" r="1.45"/><circle cx="97.1" cy="155.3" r="1.45"/><circle cx="174.1" cy="106.0" r="1.45"/><circle cx="228.1" cy="69.6" r="1.45"/><circle cx="187.7" cy="97.7" r="1.45"/><circle cx="97.9" cy="153.5" r="1.45"/><circle cx="91.0" cy="160.7" r="1.45"/><circle cx="129.1" cy="135.2" r="1.45"/><circle cx="68.2" cy="172.8" r="1.45"/><circle cx="111.3" cy="147.8" r="1.45"/><circle cx="88.6" cy="162.1" r="1.45"/><circle cx="176.4" cy="103.0" r="1.45"/><circle cx="148.0" cy="123.4" r="1.45"/><circle cx="208.5" cy="79.1" r="1.45"/><circle cx="128.2" cy="136.0" r="1.45"/><circle cx="63.4" cy="179.9" r="1.45"/><circle cx="141.4" cy="127.7" r="1.45"/><circle cx="252.6" cy="55.3" r="1.45"/><circle cx="121.6" cy="138.6" r="1.45"/><circle cx="160.6" cy="112.0" r="1.45"/><circle cx="252.6" cy="53.7" r="1.45"/><circle cx="161.2" cy="114.7" r="1.45"/><circle cx="287.2" cy="32.3" r="1.45"/><circle cx="295.4" cy="25.4" r="1.45"/><circle cx="136.0" cy="129.5" r="1.45"/><circle cx="247.6" cy="58.1" r="1.45"/><circle cx="120.9" cy="139.6" r="1.45"/><circle cx="91.1" cy="157.2" r="1.45"/><circle cx="169.4" cy="112.7" r="1.45"/><circle cx="212.6" cy="80.4" r="1.45"/><circle cx="300.0" cy="22.5" r="1.45"/><circle cx="92.8" cy="160.5" r="1.45"/><circle cx="241.4" cy="64.5" r="1.45"/><circle cx="179.2" cy="102.3" r="1.45"/><circle cx="89.1" cy="164.4" r="1.45"/><circle cx="309.7" cy="14.6" r="1.45"/><circle cx="237.0" cy="60.4" r="1.45"/><circle cx="88.3" cy="165.4" r="1.45"/><circle cx="292.1" cy="28.3" r="1.45"/><circle cx="81.5" cy="167.8" r="1.45"/><circle cx="78.8" cy="168.9" r="1.45"/><circle cx="141.5" cy="127.4" r="1.45"/><circle cx="300.6" cy="20.8" r="1.45"/><circle cx="63.2" cy="182.9" r="1.45"/><circle cx="295.4" cy="25.4" r="1.45"/><circle cx="215.0" cy="79.2" r="1.45"/><circle cx="72.1" cy="173.8" r="1.45"/><circle cx="203.7" cy="87.7" r="1.45"/><circle cx="174.9" cy="105.6" r="1.45"/><circle cx="202.5" cy="87.9" r="1.45"/><circle cx="247.9" cy="53.9" r="1.45"/><circle cx="232.5" cy="67.6" r="1.45"/><circle cx="316.1" cy="13.1" r="1.45"/><circle cx="95.6" cy="156.4" r="1.45"/><circle cx="267.8" cy="42.9" r="1.45"/><circle cx="162.4" cy="114.6" r="1.45"/><circle cx="260.0" cy="50.1" r="1.45"/><circle cx="288.5" cy="29.9" r="1.45"/><circle cx="314.8" cy="10.8" r="1.45"/><circle cx="124.3" cy="139.5" r="1.45"/><circle cx="173.3" cy="103.9" r="1.45"/><circle cx="301.8" cy="19.8" r="1.45"/><circle cx="302.6" cy="20.6" r="1.45"/><circle cx="152.3" cy="119.5" r="1.45"/><circle cx="301.2" cy="21.8" r="1.45"/><circle cx="161.0" cy="119.1" r="1.45"/><circle cx="152.8" cy="120.8" r="1.45"/><circle cx="253.0" cy="54.3" r="1.45"/><circle cx="178.1" cy="101.1" r="1.45"/><circle cx="172.1" cy="105.6" r="1.45"/><circle cx="155.8" cy="116.0" r="1.45"/><circle cx="168.0" cy="108.5" r="1.45"/><circle cx="91.2" cy="158.0" r="1.45"/><circle cx="70.5" cy="172.4" r="1.45"/><circle cx="252.3" cy="52.9" r="1.45"/><circle cx="202.6" cy="84.0" r="1.45"/><circle cx="230.8" cy="64.4" r="1.45"/><circle cx="265.0" cy="42.3" r="1.45"/><circle cx="114.9" cy="145.8" r="1.45"/><circle cx="115.8" cy="144.4" r="1.45"/><circle cx="127.4" cy="138.2" r="1.45"/><circle cx="134.2" cy="133.7" r="1.45"/><circle cx="254.1" cy="51.5" r="1.45"/><circle cx="152.7" cy="120.7" r="1.45"/><circle cx="139.3" cy="126.4" r="1.45"/><circle cx="221.4" cy="79.0" r="1.45"/><circle cx="103.4" cy="154.8" r="1.45"/><circle cx="82.4" cy="165.5" r="1.45"/><circle cx="237.4" cy="60.7" r="1.45"/><circle cx="253.0" cy="53.7" r="1.45"/><circle cx="132.3" cy="130.4" r="1.45"/><circle cx="221.4" cy="72.0" r="1.45"/><circle cx="63.4" cy="180.7" r="1.45"/><circle cx="160.6" cy="114.5" r="1.45"/><circle cx="206.1" cy="82.8" r="1.45"/><circle cx="121.0" cy="142.4" r="1.45"/><circle cx="145.9" cy="122.7" r="1.45"/><circle cx="214.4" cy="79.0" r="1.45"/><circle cx="209.3" cy="80.6" r="1.45"/><circle cx="95.0" cy="156.2" r="1.45"/><circle cx="239.9" cy="62.6" r="1.45"/><circle cx="75.5" cy="168.2" r="1.45"/><circle cx="308.9" cy="17.7" r="1.45"/><circle cx="107.6" cy="148.7" r="1.45"/><circle cx="121.0" cy="144.1" r="1.45"/><circle cx="107.0" cy="148.1" r="1.45"/><circle cx="314.6" cy="12.8" r="1.45"/><circle cx="129.7" cy="133.2" r="1.45"/><circle cx="213.3" cy="76.0" r="1.45"/><circle cx="314.4" cy="12.5" r="1.45"/><circle cx="303.8" cy="20.0" r="1.45"/><circle cx="65.6" cy="174.2" r="1.45"/><circle cx="191.2" cy="96.1" r="1.45"/><circle cx="212.3" cy="78.0" r="1.45"/><circle cx="238.8" cy="62.6" r="1.45"/><circle cx="142.6" cy="127.0" r="1.45"/><circle cx="140.5" cy="128.7" r="1.45"/><circle cx="55.6" cy="179.7" r="1.45"/><circle cx="63.7" cy="182.6" r="1.45"/><circle cx="198.8" cy="89.9" r="1.45"/><circle cx="74.4" cy="170.3" r="1.45"/><circle cx="107.6" cy="147.9" r="1.45"/><circle cx="141.9" cy="124.3" r="1.45"/><circle cx="73.0" cy="169.0" r="1.45"/><circle cx="62.6" cy="180.8" r="1.45"/><circle cx="297.7" cy="23.0" r="1.45"/><circle cx="168.7" cy="107.1" r="1.45"/><circle cx="108.3" cy="148.4" r="1.45"/><circle cx="240.4" cy="64.6" r="1.45"/><circle cx="57.0" cy="182.5" r="1.45"/><circle cx="118.8" cy="141.4" r="1.45"/><circle cx="306.6" cy="18.7" r="1.45"/><circle cx="290.0" cy="28.7" r="1.45"/><circle cx="221.3" cy="73.9" r="1.45"/><circle cx="79.0" cy="166.8" r="1.45"/><circle cx="137.9" cy="127.2" r="1.45"/><circle cx="61.8" cy="177.0" r="1.45"/><circle cx="112.0" cy="146.1" r="1.45"/><circle cx="61.2" cy="179.9" r="1.45"/><circle cx="87.6" cy="163.5" r="1.45"/><circle cx="220.6" cy="75.6" r="1.45"/><circle cx="80.9" cy="167.6" r="1.45"/><circle cx="95.4" cy="158.1" r="1.45"/><circle cx="291.4" cy="26.5" r="1.45"/><circle cx="142.5" cy="123.2" r="1.45"/><circle cx="141.9" cy="126.1" r="1.45"/><circle cx="77.2" cy="167.2" r="1.45"/><circle cx="263.3" cy="44.8" r="1.45"/><circle cx="231.9" cy="66.2" r="1.45"/><circle cx="198.0" cy="86.6" r="1.45"/><circle cx="216.6" cy="74.4" r="1.45"/><circle cx="80.8" cy="166.8" r="1.45"/><circle cx="122.8" cy="139.9" r="1.45"/><circle cx="207.6" cy="81.4" r="1.45"/><circle cx="304.3" cy="19.4" r="1.45"/><circle cx="268.9" cy="41.9" r="1.45"/><circle cx="222.6" cy="70.7" r="1.45"/><circle cx="190.6" cy="94.3" r="1.45"/><circle cx="58.5" cy="187.1" r="1.45"/><circle cx="288.2" cy="28.8" r="1.45"/><circle cx="72.0" cy="175.8" r="1.45"/><circle cx="88.4" cy="165.3" r="1.45"/><circle cx="236.3" cy="67.3" r="1.45"/><circle cx="267.6" cy="41.7" r="1.45"/><circle cx="260.9" cy="51.6" r="1.45"/><circle cx="173.2" cy="106.1" r="1.45"/><circle cx="101.0" cy="153.6" r="1.45"/><circle cx="63.8" cy="178.0" r="1.45"/><circle cx="277.9" cy="37.2" r="1.45"/><circle cx="311.0" cy="14.7" r="1.45"/><circle cx="118.5" cy="142.2" r="1.45"/><circle cx="281.7" cy="35.3" r="1.45"/><circle cx="160.1" cy="113.6" r="1.45"/><circle cx="136.2" cy="129.1" r="1.45"/><circle cx="187.0" cy="98.1" r="1.45"/><circle cx="56.6" cy="185.4" r="1.45"/><circle cx="170.6" cy="109.4" r="1.45"/><circle cx="106.9" cy="148.3" r="1.45"/><circle cx="241.4" cy="62.9" r="1.45"/><circle cx="186.3" cy="97.9" r="1.45"/><circle cx="282.4" cy="35.4" r="1.45"/><circle cx="289.7" cy="27.3" r="1.45"/><circle cx="137.6" cy="130.1" r="1.45"/><circle cx="128.1" cy="135.7" r="1.45"/><circle cx="300.9" cy="19.8" r="1.45"/><circle cx="186.7" cy="95.5" r="1.45"/><circle cx="79.8" cy="170.4" r="1.45"/><circle cx="66.5" cy="175.5" r="1.45"/><circle cx="314.3" cy="11.8" r="1.45"/><circle cx="206.4" cy="85.6" r="1.45"/><circle cx="68.8" cy="177.6" r="1.45"/><circle cx="188.6" cy="97.4" r="1.45"/><circle cx="186.8" cy="95.3" r="1.45"/><circle cx="168.7" cy="108.8" r="1.45"/><circle cx="304.1" cy="20.1" r="1.45"/><circle cx="303.4" cy="19.0" r="1.45"/><circle cx="87.3" cy="161.2" r="1.45"/><circle cx="94.3" cy="160.1" r="1.45"/><circle cx="161.4" cy="116.3" r="1.45"/><circle cx="273.3" cy="37.4" r="1.45"/><circle cx="218.1" cy="70.0" r="1.45"/><circle cx="246.0" cy="54.6" r="1.45"/><circle cx="205.6" cy="81.9" r="1.45"/><circle cx="109.6" cy="148.3" r="1.45"/><circle cx="269.0" cy="43.4" r="1.45"/><circle cx="58.2" cy="182.1" r="1.45"/><circle cx="237.7" cy="61.5" r="1.45"/><circle cx="105.5" cy="151.4" r="1.45"/><circle cx="178.1" cy="101.0" r="1.45"/><circle cx="310.3" cy="15.0" r="1.45"/><circle cx="195.9" cy="89.3" r="1.45"/><circle cx="69.4" cy="181.3" r="1.45"/><circle cx="167.0" cy="111.4" r="1.45"/><circle cx="227.7" cy="67.7" r="1.45"/><circle cx="69.4" cy="172.3" r="1.45"/><circle cx="120.8" cy="140.3" r="1.45"/><circle cx="59.3" cy="177.5" r="1.45"/><circle cx="196.2" cy="89.0" r="1.45"/><circle cx="154.6" cy="117.3" r="1.45"/><circle cx="186.6" cy="98.5" r="1.45"/><circle cx="132.1" cy="132.8" r="1.45"/><circle cx="226.8" cy="68.4" r="1.45"/><circle cx="99.9" cy="152.1" r="1.45"/><circle cx="292.4" cy="25.7" r="1.45"/><circle cx="306.4" cy="17.6" r="1.45"/><circle cx="183.8" cy="98.4" r="1.45"/><circle cx="176.6" cy="105.5" r="1.45"/><circle cx="280.0" cy="34.1" r="1.45"/><circle cx="130.5" cy="136.2" r="1.45"/><circle cx="265.2" cy="45.3" r="1.45"/><circle cx="129.9" cy="134.9" r="1.45"/><circle cx="243.4" cy="55.1" r="1.45"/><circle cx="142.1" cy="124.8" r="1.45"/><circle cx="212.6" cy="81.3" r="1.45"/><circle cx="297.4" cy="24.8" r="1.45"/><circle cx="68.8" cy="175.7" r="1.45"/><circle cx="266.3" cy="45.5" r="1.45"/><circle cx="196.7" cy="89.3" r="1.45"/><circle cx="153.9" cy="118.3" r="1.45"/><circle cx="146.4" cy="122.9" r="1.45"/><circle cx="72.7" cy="174.9" r="1.45"/><circle cx="122.3" cy="140.6" r="1.45"/><circle cx="218.0" cy="75.5" r="1.45"/><circle cx="80.1" cy="166.7" r="1.45"/><circle cx="230.1" cy="69.3" r="1.45"/><circle cx="306.9" cy="17.5" r="1.45"/><circle cx="311.8" cy="13.4" r="1.45"/><circle cx="287.8" cy="31.5" r="1.45"/><circle cx="266.1" cy="44.7" r="1.45"/><circle cx="101.2" cy="153.9" r="1.45"/><circle cx="309.0" cy="17.2" r="1.45"/><circle cx="107.7" cy="151.6" r="1.45"/><circle cx="282.5" cy="33.1" r="1.45"/><circle cx="284.8" cy="32.3" r="1.45"/><circle cx="217.7" cy="73.8" r="1.45"/><circle cx="191.3" cy="92.5" r="1.45"/><circle cx="107.1" cy="145.9" r="1.45"/><circle cx="190.8" cy="96.4" r="1.45"/><circle cx="130.7" cy="131.4" r="1.45"/><circle cx="87.5" cy="164.3" r="1.45"/><circle cx="88.1" cy="160.5" r="1.45"/><circle cx="264.7" cy="43.2" r="1.45"/><circle cx="296.5" cy="23.9" r="1.45"/><circle cx="91.7" cy="160.6" r="1.45"/><circle cx="58.0" cy="184.2" r="1.45"/><circle cx="123.7" cy="141.9" r="1.45"/><circle cx="89.8" cy="162.1" r="1.45"/><circle cx="104.0" cy="153.8" r="1.45"/><circle cx="207.5" cy="81.6" r="1.45"/><circle cx="165.3" cy="112.4" r="1.45"/><circle cx="167.1" cy="110.2" r="1.45"/><circle cx="108.4" cy="148.4" r="1.45"/><circle cx="228.9" cy="68.7" r="1.45"/><circle cx="130.5" cy="134.5" r="1.45"/><circle cx="159.2" cy="115.6" r="1.45"/><circle cx="176.1" cy="104.6" r="1.45"/><circle cx="291.8" cy="26.7" r="1.45"/><circle cx="119.1" cy="140.9" r="1.45"/><circle cx="243.0" cy="61.1" r="1.45"/><circle cx="135.7" cy="128.5" r="1.45"/><circle cx="289.2" cy="28.2" r="1.45"/><circle cx="157.9" cy="118.6" r="1.45"/><circle cx="187.0" cy="91.6" r="1.45"/><circle cx="284.6" cy="31.0" r="1.45"/><circle cx="231.0" cy="69.0" r="1.45"/><circle cx="79.3" cy="164.1" r="1.45"/><circle cx="90.4" cy="166.6" r="1.45"/><circle cx="314.4" cy="10.2" r="1.45"/><circle cx="62.1" cy="183.3" r="1.45"/><circle cx="133.4" cy="135.0" r="1.45"/><circle cx="306.1" cy="18.6" r="1.45"/><circle cx="58.5" cy="181.7" r="1.45"/><circle cx="96.8" cy="157.5" r="1.45"/><circle cx="110.5" cy="146.3" r="1.45"/><circle cx="77.2" cy="171.4" r="1.45"/><circle cx="178.3" cy="100.6" r="1.45"/><circle cx="209.9" cy="80.7" r="1.45"/><circle cx="138.0" cy="131.0" r="1.45"/><circle cx="83.0" cy="163.0" r="1.45"/><circle cx="267.3" cy="42.7" r="1.45"/><circle cx="265.6" cy="44.9" r="1.45"/><circle cx="202.0" cy="83.7" r="1.45"/><circle cx="90.6" cy="163.3" r="1.45"/><circle cx="196.7" cy="90.8" r="1.45"/><circle cx="219.7" cy="71.4" r="1.45"/><circle cx="166.9" cy="110.1" r="1.45"/><circle cx="281.1" cy="33.2" r="1.45"/><circle cx="156.8" cy="115.9" r="1.45"/><circle cx="188.5" cy="95.7" r="1.45"/><circle cx="84.4" cy="163.1" r="1.45"/><circle cx="202.3" cy="88.4" r="1.45"/><circle cx="255.6" cy="49.8" r="1.45"/><circle cx="246.3" cy="59.3" r="1.45"/><circle cx="121.9" cy="140.2" r="1.45"/><circle cx="314.7" cy="12.9" r="1.45"/><circle cx="243.4" cy="58.2" r="1.45"/><circle cx="165.7" cy="110.1" r="1.45"/><circle cx="163.4" cy="110.7" r="1.45"/><circle cx="259.0" cy="50.1" r="1.45"/><circle cx="100.6" cy="156.2" r="1.45"/><circle cx="222.3" cy="78.1" r="1.45"/><circle cx="243.1" cy="62.2" r="1.45"/><circle cx="190.0" cy="95.1" r="1.45"/><circle cx="283.6" cy="32.3" r="1.45"/><circle cx="177.4" cy="103.7" r="1.45"/><circle cx="176.5" cy="103.7" r="1.45"/><circle cx="129.2" cy="137.7" r="1.45"/><circle cx="295.7" cy="25.5" r="1.45"/><circle cx="137.5" cy="128.6" r="1.45"/><circle cx="236.9" cy="62.1" r="1.45"/><circle cx="161.9" cy="115.7" r="1.45"/><circle cx="299.9" cy="22.1" r="1.45"/><circle cx="303.2" cy="19.5" r="1.45"/><circle cx="62.4" cy="182.5" r="1.45"/><circle cx="315.4" cy="11.4" r="1.45"/><circle cx="213.2" cy="78.5" r="1.45"/><circle cx="73.9" cy="170.6" r="1.45"/><circle cx="184.9" cy="94.5" r="1.45"/><circle cx="67.5" cy="178.2" r="1.45"/><circle cx="198.5" cy="86.4" r="1.45"/><circle cx="103.2" cy="151.6" r="1.45"/><circle cx="151.0" cy="119.7" r="1.45"/><circle cx="134.4" cy="133.0" r="1.45"/><circle cx="212.5" cy="79.5" r="1.45"/><circle cx="270.2" cy="41.5" r="1.45"/><circle cx="300.2" cy="20.1" r="1.45"/><circle cx="140.8" cy="127.5" r="1.45"/><circle cx="204.0" cy="82.1" r="1.45"/><circle cx="56.0" cy="184.8" r="1.45"/><circle cx="152.1" cy="120.6" r="1.45"/><circle cx="306.5" cy="17.5" r="1.45"/><circle cx="85.7" cy="168.6" r="1.45"/><circle cx="282.7" cy="33.7" r="1.45"/><circle cx="225.7" cy="72.3" r="1.45"/><circle cx="131.6" cy="134.0" r="1.45"/><circle cx="258.7" cy="48.8" r="1.45"/><circle cx="130.4" cy="136.1" r="1.45"/><circle cx="289.3" cy="29.9" r="1.45"/><circle cx="76.2" cy="167.0" r="1.45"/><circle cx="85.7" cy="166.3" r="1.45"/><circle cx="251.3" cy="55.1" r="1.45"/><circle cx="172.3" cy="108.1" r="1.45"/><circle cx="93.2" cy="160.1" r="1.45"/><circle cx="189.2" cy="92.8" r="1.45"/><circle cx="132.4" cy="131.4" r="1.45"/><circle cx="198.6" cy="92.6" r="1.45"/><circle cx="249.6" cy="55.7" r="1.45"/><circle cx="279.3" cy="33.5" r="1.45"/><circle cx="70.0" cy="175.2" r="1.45"/><circle cx="209.9" cy="80.5" r="1.45"/><circle cx="312.6" cy="12.0" r="1.45"/><circle cx="175.1" cy="100.8" r="1.45"/><circle cx="256.4" cy="47.5" r="1.45"/><circle cx="80.0" cy="168.2" r="1.45"/><circle cx="283.7" cy="32.4" r="1.45"/><circle cx="207.2" cy="82.6" r="1.45"/><circle cx="287.5" cy="30.2" r="1.45"/><circle cx="261.0" cy="48.8" r="1.45"/><circle cx="282.5" cy="30.6" r="1.45"/><circle cx="69.5" cy="173.9" r="1.45"/><circle cx="242.2" cy="58.3" r="1.45"/><circle cx="106.2" cy="148.4" r="1.45"/><circle cx="124.2" cy="137.9" r="1.45"/><circle cx="139.7" cy="128.2" r="1.45"/><circle cx="209.6" cy="80.9" r="1.45"/><circle cx="219.2" cy="71.9" r="1.45"/><circle cx="298.9" cy="22.1" r="1.45"/><circle cx="57.8" cy="187.9" r="1.45"/><circle cx="105.2" cy="149.3" r="1.45"/><circle cx="149.5" cy="119.3" r="1.45"/><circle cx="269.1" cy="42.7" r="1.45"/><circle cx="198.8" cy="90.0" r="1.45"/><circle cx="188.8" cy="96.3" r="1.45"/><circle cx="253.9" cy="50.1" r="1.45"/><circle cx="226.4" cy="72.8" r="1.45"/><circle cx="130.5" cy="133.3" r="1.45"/><circle cx="77.4" cy="166.6" r="1.45"/><circle cx="175.8" cy="103.1" r="1.45"/><circle cx="285.4" cy="31.2" r="1.45"/><circle cx="211.4" cy="82.0" r="1.45"/><circle cx="68.5" cy="176.9" r="1.45"/><circle cx="170.0" cy="108.0" r="1.45"/><circle cx="155.4" cy="119.3" r="1.45"/><circle cx="207.3" cy="83.3" r="1.45"/><circle cx="208.5" cy="84.3" r="1.45"/><circle cx="304.1" cy="17.9" r="1.45"/><circle cx="143.2" cy="123.6" r="1.45"/><circle cx="161.6" cy="114.9" r="1.45"/><circle cx="215.5" cy="74.5" r="1.45"/><circle cx="287.0" cy="29.9" r="1.45"/><circle cx="239.8" cy="61.5" r="1.45"/><circle cx="178.0" cy="101.8" r="1.45"/><circle cx="268.2" cy="41.9" r="1.45"/><circle cx="181.8" cy="102.5" r="1.45"/><circle cx="307.3" cy="14.8" r="1.45"/><circle cx="128.6" cy="137.2" r="1.45"/><circle cx="87.9" cy="167.6" r="1.45"/><circle cx="272.4" cy="40.1" r="1.45"/><circle cx="132.5" cy="133.2" r="1.45"/><circle cx="276.8" cy="38.1" r="1.45"/><circle cx="214.4" cy="82.6" r="1.45"/><circle cx="188.0" cy="93.7" r="1.45"/><circle cx="77.3" cy="169.6" r="1.45"/><circle cx="260.8" cy="47.4" r="1.45"/><circle cx="71.8" cy="174.5" r="1.45"/><circle cx="307.7" cy="16.9" r="1.45"/><circle cx="284.6" cy="32.6" r="1.45"/><circle cx="134.0" cy="131.5" r="1.45"/><circle cx="88.0" cy="162.5" r="1.45"/><circle cx="286.9" cy="29.6" r="1.45"/><circle cx="180.4" cy="99.9" r="1.45"/><circle cx="87.3" cy="162.6" r="1.45"/><circle cx="185.3" cy="97.5" r="1.45"/><circle cx="119.3" cy="140.2" r="1.45"/><circle cx="161.5" cy="116.2" r="1.45"/><circle cx="222.5" cy="72.8" r="1.45"/><circle cx="294.6" cy="24.0" r="1.45"/><circle cx="264.6" cy="47.3" r="1.45"/><circle cx="96.7" cy="155.2" r="1.45"/><circle cx="179.7" cy="102.4" r="1.45"/><circle cx="183.6" cy="98.9" r="1.45"/><circle cx="314.1" cy="12.8" r="1.45"/><circle cx="77.3" cy="169.8" r="1.45"/><circle cx="188.5" cy="94.5" r="1.45"/><circle cx="294.4" cy="25.5" r="1.45"/><circle cx="159.1" cy="118.5" r="1.45"/><circle cx="123.2" cy="135.9" r="1.45"/><circle cx="200.3" cy="87.8" r="1.45"/><circle cx="138.5" cy="129.9" r="1.45"/><circle cx="297.7" cy="22.3" r="1.45"/><circle cx="76.7" cy="166.5" r="1.45"/><circle cx="108.7" cy="153.0" r="1.45"/><circle cx="76.5" cy="169.0" r="1.45"/><circle cx="241.3" cy="65.1" r="1.45"/><circle cx="131.4" cy="134.8" r="1.45"/><circle cx="290.7" cy="27.9" r="1.45"/><circle cx="288.9" cy="29.5" r="1.45"/><circle cx="300.2" cy="22.3" r="1.45"/><circle cx="121.7" cy="142.3" r="1.45"/><circle cx="54.7" cy="186.1" r="1.45"/><circle cx="156.2" cy="117.6" r="1.45"/><circle cx="307.0" cy="17.4" r="1.45"/><circle cx="254.9" cy="54.3" r="1.45"/><circle cx="70.2" cy="176.2" r="1.45"/><circle cx="238.8" cy="60.1" r="1.45"/><circle cx="295.1" cy="24.4" r="1.45"/><circle cx="308.4" cy="16.6" r="1.45"/><circle cx="242.3" cy="58.7" r="1.45"/><circle cx="280.9" cy="33.8" r="1.45"/><circle cx="275.3" cy="36.5" r="1.45"/><circle cx="148.5" cy="122.1" r="1.45"/><circle cx="80.5" cy="168.3" r="1.45"/><circle cx="245.4" cy="60.0" r="1.45"/><circle cx="90.4" cy="160.9" r="1.45"/><circle cx="155.3" cy="121.1" r="1.45"/><circle cx="315.7" cy="11.5" r="1.45"/><circle cx="201.4" cy="93.8" r="1.45"/><circle cx="191.4" cy="95.6" r="1.45"/><circle cx="303.2" cy="20.2" r="1.45"/><circle cx="129.0" cy="134.7" r="1.45"/><circle cx="316.7" cy="8.5" r="1.45"/><circle cx="293.8" cy="25.7" r="1.45"/><circle cx="150.0" cy="121.8" r="1.45"/><circle cx="140.4" cy="130.9" r="1.45"/><circle cx="87.7" cy="159.5" r="1.45"/><circle cx="294.7" cy="27.0" r="1.45"/><circle cx="103.2" cy="152.1" r="1.45"/><circle cx="56.9" cy="185.3" r="1.45"/><circle cx="288.0" cy="27.0" r="1.45"/><circle cx="211.4" cy="80.7" r="1.45"/><circle cx="230.8" cy="66.8" r="1.45"/><circle cx="246.8" cy="58.4" r="1.45"/><circle cx="65.7" cy="177.5" r="1.45"/><circle cx="78.6" cy="165.8" r="1.45"/><circle cx="185.6" cy="99.3" r="1.45"/><circle cx="67.7" cy="177.6" r="1.45"/><circle cx="186.8" cy="97.8" r="1.45"/><circle cx="247.7" cy="58.5" r="1.45"/><circle cx="227.0" cy="72.6" r="1.45"/><circle cx="216.3" cy="77.1" r="1.45"/><circle cx="66.7" cy="173.2" r="1.45"/><circle cx="116.6" cy="141.5" r="1.45"/><circle cx="290.0" cy="29.6" r="1.45"/><circle cx="86.8" cy="164.8" r="1.45"/><circle cx="194.4" cy="91.9" r="1.45"/><circle cx="67.6" cy="174.9" r="1.45"/><circle cx="300.9" cy="21.2" r="1.45"/><circle cx="99.5" cy="155.1" r="1.45"/><circle cx="162.1" cy="112.8" r="1.45"/><circle cx="197.9" cy="87.8" r="1.45"/><circle cx="243.0" cy="64.1" r="1.45"/><circle cx="300.4" cy="21.7" r="1.45"/><circle cx="247.7" cy="55.2" r="1.45"/><circle cx="145.6" cy="122.4" r="1.45"/><circle cx="74.3" cy="169.7" r="1.45"/><circle cx="240.1" cy="63.0" r="1.45"/><circle cx="309.6" cy="16.2" r="1.45"/><circle cx="59.0" cy="181.4" r="1.45"/><circle cx="257.7" cy="49.9" r="1.45"/><circle cx="100.7" cy="153.6" r="1.45"/><circle cx="175.2" cy="102.7" r="1.45"/><circle cx="191.6" cy="96.0" r="1.45"/><circle cx="215.7" cy="78.4" r="1.45"/><circle cx="314.1" cy="14.7" r="1.45"/><circle cx="234.8" cy="63.2" r="1.45"/><circle cx="157.4" cy="116.3" r="1.45"/><circle cx="242.1" cy="62.0" r="1.45"/><circle cx="176.9" cy="103.0" r="1.45"/><circle cx="162.9" cy="110.6" r="1.45"/><circle cx="150.4" cy="119.8" r="1.45"/><circle cx="183.9" cy="98.9" r="1.45"/><circle cx="128.3" cy="136.6" r="1.45"/><circle cx="118.0" cy="142.7" r="1.45"/><circle cx="93.5" cy="161.0" r="1.45"/><circle cx="170.0" cy="109.7" r="1.45"/><circle cx="131.4" cy="134.4" r="1.45"/><circle cx="274.1" cy="38.9" r="1.45"/><circle cx="276.9" cy="36.6" r="1.45"/><circle cx="144.7" cy="125.9" r="1.45"/><circle cx="216.9" cy="78.8" r="1.45"/><circle cx="291.2" cy="27.6" r="1.45"/><circle cx="148.7" cy="123.0" r="1.45"/><circle cx="200.0" cy="87.2" r="1.45"/><circle cx="170.9" cy="105.2" r="1.45"/><circle cx="225.1" cy="69.0" r="1.45"/><circle cx="306.3" cy="18.4" r="1.45"/><circle cx="90.9" cy="161.5" r="1.45"/><circle cx="307.8" cy="18.1" r="1.45"/><circle cx="229.2" cy="68.8" r="1.45"/><circle cx="263.3" cy="47.7" r="1.45"/><circle cx="221.1" cy="77.0" r="1.45"/><circle cx="282.8" cy="34.2" r="1.45"/><circle cx="140.1" cy="127.2" r="1.45"/><circle cx="240.3" cy="61.0" r="1.45"/><circle cx="123.8" cy="139.2" r="1.45"/><circle cx="187.9" cy="94.2" r="1.45"/><circle cx="233.3" cy="67.0" r="1.45"/><circle cx="107.3" cy="151.9" r="1.45"/><circle cx="70.5" cy="172.8" r="1.45"/><circle cx="262.0" cy="50.7" r="1.45"/><circle cx="266.7" cy="43.2" r="1.45"/><circle cx="229.1" cy="68.2" r="1.45"/><circle cx="138.8" cy="128.6" r="1.45"/><circle cx="227.2" cy="68.4" r="1.45"/><circle cx="76.5" cy="170.9" r="1.45"/><circle cx="228.3" cy="69.3" r="1.45"/><circle cx="205.7" cy="87.8" r="1.45"/><circle cx="216.4" cy="78.5" r="1.45"/><circle cx="171.8" cy="107.7" r="1.45"/><circle cx="113.6" cy="145.5" r="1.45"/><circle cx="244.9" cy="55.3" r="1.45"/><circle cx="176.3" cy="103.7" r="1.45"/><circle cx="250.1" cy="53.2" r="1.45"/><circle cx="150.0" cy="122.9" r="1.45"/><circle cx="77.5" cy="169.2" r="1.45"/><circle cx="196.8" cy="93.4" r="1.45"/><circle cx="217.9" cy="77.8" r="1.45"/><circle cx="296.3" cy="25.0" r="1.45"/><circle cx="287.4" cy="30.2" r="1.45"/><circle cx="69.5" cy="175.2" r="1.45"/><circle cx="257.0" cy="51.5" r="1.45"/><circle cx="123.1" cy="141.0" r="1.45"/><circle cx="237.4" cy="61.7" r="1.45"/><circle cx="154.1" cy="119.5" r="1.45"/><circle cx="139.0" cy="132.9" r="1.45"/><circle cx="182.6" cy="99.4" r="1.45"/><circle cx="193.7" cy="91.6" r="1.45"/><circle cx="236.7" cy="62.2" r="1.45"/><circle cx="221.8" cy="70.2" r="1.45"/><circle cx="232.4" cy="69.2" r="1.45"/><circle cx="155.3" cy="118.0" r="1.45"/><circle cx="232.2" cy="67.3" r="1.45"/><circle cx="145.1" cy="127.6" r="1.45"/><circle cx="213.9" cy="84.5" r="1.45"/><circle cx="175.1" cy="103.2" r="1.45"/><circle cx="202.2" cy="88.7" r="1.45"/><circle cx="59.1" cy="183.4" r="1.45"/><circle cx="185.4" cy="98.5" r="1.45"/><circle cx="112.2" cy="147.6" r="1.45"/><circle cx="155.7" cy="117.6" r="1.45"/><circle cx="73.9" cy="175.6" r="1.45"/><circle cx="226.8" cy="71.6" r="1.45"/><circle cx="288.9" cy="29.3" r="1.45"/><circle cx="147.5" cy="125.0" r="1.45"/><circle cx="82.1" cy="168.4" r="1.45"/><circle cx="217.2" cy="77.6" r="1.45"/><circle cx="87.8" cy="163.3" r="1.45"/><circle cx="288.4" cy="31.1" r="1.45"/><circle cx="86.6" cy="164.5" r="1.45"/><circle cx="149.4" cy="121.7" r="1.45"/><circle cx="184.3" cy="96.9" r="1.45"/><circle cx="85.4" cy="163.3" r="1.45"/><circle cx="138.1" cy="127.8" r="1.45"/><circle cx="126.7" cy="137.2" r="1.45"/><circle cx="241.6" cy="61.0" r="1.45"/><circle cx="313.2" cy="11.4" r="1.45"/><circle cx="149.7" cy="121.7" r="1.45"/><circle cx="261.9" cy="48.2" r="1.45"/><circle cx="91.3" cy="160.6" r="1.45"/><circle cx="206.6" cy="81.4" r="1.45"/><circle cx="168.0" cy="111.4" r="1.45"/><circle cx="130.1" cy="133.7" r="1.45"/><circle cx="270.1" cy="39.2" r="1.45"/><circle cx="250.3" cy="52.5" r="1.45"/><circle cx="89.7" cy="161.3" r="1.45"/><circle cx="131.2" cy="135.6" r="1.45"/><circle cx="269.5" cy="44.2" r="1.45"/><circle cx="314.9" cy="12.3" r="1.45"/><circle cx="214.9" cy="75.3" r="1.45"/><circle cx="283.2" cy="32.0" r="1.45"/><circle cx="312.7" cy="12.7" r="1.45"/><circle cx="248.8" cy="55.3" r="1.45"/><circle cx="223.6" cy="68.2" r="1.45"/><circle cx="112.5" cy="146.7" r="1.45"/><circle cx="151.7" cy="121.3" r="1.45"/><circle cx="218.1" cy="75.6" r="1.45"/><circle cx="297.5" cy="23.8" r="1.45"/><circle cx="133.7" cy="130.9" r="1.45"/><circle cx="158.2" cy="113.7" r="1.45"/><circle cx="60.3" cy="179.4" r="1.45"/><circle cx="237.3" cy="65.9" r="1.45"/><circle cx="170.9" cy="109.2" r="1.45"/><circle cx="263.8" cy="44.9" r="1.45"/><circle cx="115.8" cy="146.4" r="1.45"/><circle cx="227.6" cy="69.0" r="1.45"/><circle cx="231.1" cy="70.9" r="1.45"/><circle cx="176.3" cy="104.6" r="1.45"/><circle cx="104.0" cy="151.3" r="1.45"/><circle cx="160.2" cy="115.9" r="1.45"/><circle cx="250.0" cy="53.4" r="1.45"/><circle cx="104.1" cy="150.2" r="1.45"/><circle cx="78.1" cy="165.3" r="1.45"/><circle cx="175.9" cy="104.5" r="1.45"/><circle cx="116.0" cy="144.1" r="1.45"/><circle cx="264.5" cy="45.1" r="1.45"/><circle cx="268.9" cy="41.6" r="1.45"/><circle cx="302.5" cy="21.5" r="1.45"/><circle cx="274.8" cy="37.7" r="1.45"/><circle cx="224.4" cy="70.2" r="1.45"/><circle cx="103.6" cy="154.8" r="1.45"/><circle cx="270.4" cy="44.0" r="1.45"/><circle cx="245.5" cy="58.6" r="1.45"/><circle cx="250.4" cy="51.1" r="1.45"/><circle cx="237.5" cy="61.9" r="1.45"/><circle cx="272.3" cy="41.2" r="1.45"/><circle cx="132.6" cy="133.1" r="1.45"/><circle cx="230.9" cy="71.1" r="1.45"/><circle cx="190.2" cy="91.9" r="1.45"/><circle cx="143.1" cy="127.1" r="1.45"/><circle cx="140.2" cy="127.1" r="1.45"/><circle cx="95.3" cy="160.5" r="1.45"/><circle cx="183.5" cy="98.9" r="1.45"/><circle cx="151.2" cy="122.2" r="1.45"/><circle cx="165.1" cy="110.3" r="1.45"/><circle cx="277.9" cy="34.3" r="1.45"/><circle cx="233.3" cy="63.4" r="1.45"/><circle cx="233.0" cy="64.8" r="1.45"/><circle cx="312.7" cy="12.6" r="1.45"/><circle cx="111.6" cy="149.3" r="1.45"/><circle cx="187.7" cy="98.6" r="1.45"/><circle cx="78.8" cy="169.1" r="1.45"/><circle cx="157.5" cy="114.8" r="1.45"/><circle cx="303.8" cy="19.2" r="1.45"/><circle cx="77.0" cy="167.9" r="1.45"/><circle cx="253.3" cy="55.6" r="1.45"/><circle cx="281.5" cy="34.3" r="1.45"/><circle cx="188.0" cy="96.8" r="1.45"/><circle cx="263.8" cy="45.0" r="1.45"/><circle cx="170.2" cy="104.6" r="1.45"/><circle cx="147.2" cy="122.2" r="1.45"/><circle cx="187.2" cy="94.4" r="1.45"/><circle cx="105.6" cy="151.8" r="1.45"/><circle cx="135.2" cy="131.6" r="1.45"/><circle cx="134.6" cy="130.5" r="1.45"/><circle cx="313.8" cy="12.4" r="1.45"/><circle cx="142.4" cy="128.9" r="1.45"/><circle cx="114.5" cy="143.6" r="1.45"/><circle cx="301.0" cy="20.3" r="1.45"/><circle cx="90.9" cy="160.1" r="1.45"/><circle cx="307.9" cy="16.0" r="1.45"/><circle cx="278.4" cy="35.4" r="1.45"/><circle cx="224.3" cy="73.1" r="1.45"/><circle cx="166.7" cy="113.0" r="1.45"/><circle cx="106.2" cy="147.3" r="1.45"/><circle cx="82.4" cy="166.0" r="1.45"/><circle cx="81.7" cy="166.6" r="1.45"/><circle cx="146.1" cy="124.0" r="1.45"/><circle cx="161.3" cy="113.6" r="1.45"/><circle cx="296.8" cy="23.5" r="1.45"/><circle cx="195.2" cy="93.1" r="1.45"/><circle cx="314.4" cy="12.0" r="1.45"/><circle cx="243.6" cy="58.9" r="1.45"/><circle cx="92.9" cy="159.3" r="1.45"/><circle cx="199.7" cy="88.3" r="1.45"/><circle cx="96.3" cy="156.7" r="1.45"/><circle cx="64.8" cy="180.4" r="1.45"/><circle cx="302.1" cy="20.4" r="1.45"/><circle cx="143.1" cy="126.3" r="1.45"/><circle cx="104.2" cy="151.9" r="1.45"/><circle cx="81.2" cy="164.4" r="1.45"/><circle cx="225.6" cy="69.1" r="1.45"/><circle cx="175.5" cy="102.6" r="1.45"/><circle cx="57.6" cy="183.4" r="1.45"/><circle cx="242.1" cy="58.6" r="1.45"/><circle cx="121.8" cy="138.6" r="1.45"/><circle cx="259.3" cy="49.2" r="1.45"/><circle cx="182.7" cy="100.4" r="1.45"/><circle cx="195.0" cy="87.7" r="1.45"/><circle cx="174.4" cy="107.9" r="1.45"/><circle cx="231.8" cy="67.0" r="1.45"/><circle cx="314.2" cy="12.4" r="1.45"/><circle cx="263.8" cy="47.8" r="1.45"/><circle cx="72.6" cy="172.7" r="1.45"/><circle cx="184.3" cy="97.4" r="1.45"/><circle cx="116.0" cy="147.9" r="1.45"/><circle cx="81.4" cy="164.1" r="1.45"/><circle cx="105.7" cy="150.8" r="1.45"/><circle cx="119.6" cy="143.2" r="1.45"/><circle cx="306.3" cy="16.7" r="1.45"/><circle cx="249.9" cy="54.7" r="1.45"/><circle cx="278.3" cy="36.6" r="1.45"/><circle cx="237.8" cy="68.2" r="1.45"/><circle cx="137.3" cy="128.6" r="1.45"/><circle cx="157.1" cy="116.6" r="1.45"/><circle cx="170.1" cy="109.0" r="1.45"/><circle cx="131.5" cy="134.0" r="1.45"/><circle cx="165.1" cy="109.4" r="1.45"/><circle cx="256.8" cy="51.2" r="1.45"/><circle cx="74.4" cy="171.6" r="1.45"/><circle cx="127.1" cy="137.5" r="1.45"/><circle cx="180.2" cy="103.1" r="1.45"/><circle cx="231.9" cy="69.2" r="1.45"/><circle cx="224.0" cy="73.0" r="1.45"/><circle cx="244.7" cy="59.1" r="1.45"/><circle cx="82.1" cy="163.6" r="1.45"/><circle cx="101.9" cy="153.2" r="1.45"/><circle cx="135.6" cy="131.5" r="1.45"/><circle cx="128.4" cy="135.3" r="1.45"/><circle cx="252.7" cy="53.3" r="1.45"/><circle cx="315.1" cy="11.2" r="1.45"/><circle cx="233.7" cy="69.1" r="1.45"/><circle cx="63.2" cy="184.4" r="1.45"/><circle cx="132.6" cy="132.5" r="1.45"/><circle cx="265.2" cy="45.6" r="1.45"/><circle cx="297.0" cy="23.5" r="1.45"/><circle cx="210.6" cy="83.8" r="1.45"/><circle cx="146.0" cy="124.8" r="1.45"/><circle cx="147.7" cy="123.2" r="1.45"/><circle cx="220.7" cy="73.7" r="1.45"/><circle cx="281.2" cy="34.2" r="1.45"/><circle cx="143.9" cy="124.0" r="1.45"/><circle cx="104.5" cy="153.1" r="1.45"/><circle cx="55.2" cy="182.7" r="1.45"/><circle cx="90.6" cy="161.9" r="1.45"/><circle cx="277.8" cy="36.6" r="1.45"/><circle cx="218.4" cy="78.3" r="1.45"/><circle cx="314.4" cy="12.4" r="1.45"/><circle cx="72.7" cy="175.0" r="1.45"/><circle cx="150.5" cy="119.7" r="1.45"/><circle cx="263.3" cy="47.3" r="1.45"/><circle cx="228.0" cy="68.9" r="1.45"/><circle cx="72.0" cy="173.5" r="1.45"/><circle cx="159.8" cy="115.0" r="1.45"/><circle cx="221.8" cy="75.7" r="1.45"/><circle cx="234.9" cy="60.4" r="1.45"/><circle cx="173.0" cy="106.6" r="1.45"/><circle cx="103.9" cy="149.3" r="1.45"/><circle cx="307.9" cy="17.7" r="1.45"/><circle cx="176.9" cy="100.1" r="1.45"/><circle cx="242.7" cy="57.6" r="1.45"/><circle cx="194.8" cy="88.0" r="1.45"/><circle cx="75.7" cy="174.5" r="1.45"/><circle cx="116.6" cy="141.7" r="1.45"/><circle cx="71.0" cy="173.9" r="1.45"/><circle cx="104.6" cy="150.7" r="1.45"/><circle cx="107.0" cy="146.8" r="1.45"/><circle cx="163.3" cy="112.0" r="1.45"/><circle cx="138.9" cy="129.9" r="1.45"/><circle cx="149.6" cy="121.5" r="1.45"/><circle cx="268.8" cy="44.2" r="1.45"/><circle cx="60.1" cy="180.2" r="1.45"/><circle cx="81.6" cy="166.5" r="1.45"/><circle cx="266.4" cy="43.2" r="1.45"/><circle cx="194.6" cy="92.2" r="1.45"/><circle cx="169.6" cy="111.4" r="1.45"/><circle cx="124.6" cy="139.0" r="1.45"/><circle cx="196.8" cy="90.4" r="1.45"/><circle cx="112.6" cy="145.4" r="1.45"/><circle cx="279.7" cy="34.1" r="1.45"/><circle cx="270.7" cy="43.9" r="1.45"/><circle cx="138.9" cy="127.2" r="1.45"/><circle cx="60.9" cy="178.3" r="1.45"/><circle cx="287.4" cy="29.9" r="1.45"/><circle cx="132.9" cy="132.3" r="1.45"/><circle cx="226.8" cy="74.7" r="1.45"/><circle cx="279.6" cy="32.0" r="1.45"/><circle cx="264.0" cy="46.3" r="1.45"/><circle cx="280.8" cy="35.3" r="1.45"/><circle cx="182.8" cy="97.5" r="1.45"/><circle cx="275.5" cy="36.9" r="1.45"/><circle cx="175.5" cy="105.1" r="1.45"/><circle cx="123.7" cy="141.7" r="1.45"/><circle cx="180.7" cy="99.3" r="1.45"/><circle cx="142.5" cy="124.1" r="1.45"/><circle cx="255.8" cy="53.0" r="1.45"/><circle cx="272.7" cy="42.4" r="1.45"/><circle cx="91.5" cy="159.4" r="1.45"/><circle cx="97.6" cy="151.7" r="1.45"/><circle cx="155.2" cy="120.3" r="1.45"/><circle cx="176.0" cy="103.7" r="1.45"/><circle cx="305.4" cy="19.3" r="1.45"/><circle cx="301.6" cy="20.7" r="1.45"/><circle cx="308.2" cy="16.1" r="1.45"/><circle cx="246.0" cy="56.6" r="1.45"/><circle cx="232.2" cy="70.0" r="1.45"/><circle cx="125.4" cy="140.2" r="1.45"/><circle cx="152.3" cy="116.7" r="1.45"/><circle cx="55.2" cy="182.2" r="1.45"/><circle cx="273.0" cy="42.6" r="1.45"/><circle cx="126.9" cy="136.3" r="1.45"/><circle cx="75.3" cy="167.5" r="1.45"/><circle cx="137.3" cy="130.0" r="1.45"/><circle cx="139.3" cy="128.5" r="1.45"/><circle cx="244.4" cy="58.4" r="1.45"/><circle cx="56.0" cy="182.8" r="1.45"/><circle cx="114.8" cy="144.5" r="1.45"/><circle cx="289.7" cy="28.1" r="1.45"/><circle cx="278.8" cy="36.2" r="1.45"/><circle cx="219.5" cy="73.2" r="1.45"/><circle cx="201.1" cy="86.5" r="1.45"/><circle cx="112.9" cy="146.1" r="1.45"/><circle cx="284.1" cy="33.7" r="1.45"/><circle cx="254.1" cy="52.9" r="1.45"/><circle cx="189.1" cy="95.0" r="1.45"/><circle cx="96.7" cy="157.9" r="1.45"/><circle cx="111.1" cy="148.2" r="1.45"/><circle cx="154.0" cy="120.5" r="1.45"/><circle cx="141.4" cy="128.0" r="1.45"/><circle cx="70.5" cy="178.4" r="1.45"/><circle cx="161.1" cy="116.1" r="1.45"/><circle cx="172.2" cy="106.5" r="1.45"/><circle cx="129.8" cy="134.3" r="1.45"/><circle cx="155.3" cy="119.3" r="1.45"/><circle cx="141.7" cy="127.8" r="1.45"/><circle cx="153.4" cy="119.1" r="1.45"/><circle cx="216.9" cy="73.4" r="1.45"/><circle cx="185.0" cy="94.7" r="1.45"/><circle cx="106.3" cy="151.3" r="1.45"/><circle cx="263.1" cy="47.7" r="1.45"/><circle cx="189.1" cy="96.7" r="1.45"/><circle cx="174.8" cy="102.7" r="1.45"/><circle cx="241.6" cy="62.6" r="1.45"/><circle cx="251.8" cy="52.6" r="1.45"/><circle cx="277.3" cy="37.3" r="1.45"/><circle cx="267.3" cy="44.2" r="1.45"/><circle cx="230.0" cy="66.3" r="1.45"/><circle cx="243.7" cy="57.8" r="1.45"/><circle cx="95.7" cy="153.1" r="1.45"/><circle cx="237.9" cy="60.9" r="1.45"/><circle cx="121.3" cy="137.8" r="1.45"/><circle cx="122.1" cy="140.8" r="1.45"/><circle cx="86.0" cy="163.8" r="1.45"/><circle cx="158.6" cy="117.1" r="1.45"/><circle cx="59.7" cy="182.3" r="1.45"/><circle cx="226.9" cy="68.7" r="1.45"/><circle cx="250.8" cy="55.1" r="1.45"/><circle cx="258.0" cy="48.8" r="1.45"/><circle cx="88.3" cy="163.6" r="1.45"/><circle cx="222.7" cy="73.7" r="1.45"/><circle cx="274.4" cy="37.0" r="1.45"/><circle cx="63.9" cy="178.5" r="1.45"/><circle cx="105.2" cy="151.4" r="1.45"/><circle cx="124.8" cy="137.9" r="1.45"/><circle cx="175.7" cy="105.7" r="1.45"/><circle cx="99.7" cy="158.3" r="1.45"/><circle cx="195.9" cy="89.9" r="1.45"/><circle cx="144.7" cy="124.5" r="1.45"/><circle cx="226.4" cy="65.3" r="1.45"/><circle cx="193.9" cy="91.7" r="1.45"/><circle cx="234.6" cy="64.1" r="1.45"/><circle cx="119.1" cy="138.6" r="1.45"/><circle cx="240.0" cy="62.1" r="1.45"/><circle cx="247.2" cy="57.9" r="1.45"/><circle cx="243.9" cy="57.4" r="1.45"/><circle cx="72.5" cy="171.8" r="1.45"/><circle cx="302.7" cy="19.1" r="1.45"/><circle cx="205.8" cy="85.7" r="1.45"/><circle cx="125.9" cy="135.2" r="1.45"/><circle cx="168.4" cy="108.6" r="1.45"/><circle cx="190.3" cy="98.1" r="1.45"/><circle cx="190.3" cy="94.5" r="1.45"/><circle cx="119.6" cy="142.6" r="1.45"/><circle cx="124.0" cy="138.6" r="1.45"/><circle cx="149.9" cy="119.8" r="1.45"/><circle cx="259.4" cy="48.6" r="1.45"/><circle cx="169.3" cy="109.2" r="1.45"/><circle cx="64.6" cy="175.4" r="1.45"/><circle cx="173.1" cy="106.5" r="1.45"/><circle cx="107.3" cy="152.3" r="1.45"/><circle cx="57.8" cy="185.5" r="1.45"/><circle cx="310.8" cy="13.3" r="1.45"/><circle cx="131.6" cy="132.3" r="1.45"/><circle cx="195.5" cy="87.7" r="1.45"/><circle cx="148.5" cy="124.1" r="1.45"/><circle cx="68.5" cy="176.9" r="1.45"/><circle cx="290.8" cy="28.4" r="1.45"/><circle cx="300.0" cy="21.0" r="1.45"/><circle cx="103.4" cy="150.2" r="1.45"/><circle cx="164.2" cy="112.1" r="1.45"/><circle cx="152.5" cy="119.9" r="1.45"/><circle cx="98.4" cy="154.0" r="1.45"/><circle cx="228.1" cy="69.7" r="1.45"/><circle cx="259.7" cy="49.7" r="1.45"/><circle cx="253.8" cy="52.8" r="1.45"/><circle cx="231.7" cy="64.7" r="1.45"/><circle cx="59.1" cy="176.5" r="1.45"/><circle cx="114.7" cy="144.6" r="1.45"/><circle cx="189.5" cy="95.3" r="1.45"/><circle cx="238.9" cy="61.7" r="1.45"/><circle cx="155.9" cy="116.9" r="1.45"/><circle cx="172.4" cy="105.3" r="1.45"/><circle cx="275.1" cy="39.4" r="1.45"/><circle cx="60.7" cy="180.6" r="1.45"/><circle cx="125.0" cy="138.4" r="1.45"/><circle cx="130.6" cy="133.0" r="1.45"/><circle cx="315.0" cy="11.5" r="1.45"/><circle cx="114.2" cy="145.7" r="1.45"/><circle cx="66.9" cy="174.0" r="1.45"/><circle cx="163.8" cy="110.2" r="1.45"/><circle cx="224.9" cy="70.7" r="1.45"/><circle cx="94.7" cy="160.6" r="1.45"/><circle cx="274.8" cy="38.7" r="1.45"/><circle cx="106.0" cy="153.5" r="1.45"/><circle cx="239.3" cy="61.7" r="1.45"/><circle cx="97.0" cy="156.0" r="1.45"/><circle cx="285.8" cy="29.5" r="1.45"/><circle cx="107.3" cy="148.9" r="1.45"/><circle cx="246.4" cy="60.2" r="1.45"/><circle cx="274.5" cy="39.1" r="1.45"/><circle cx="121.4" cy="141.8" r="1.45"/><circle cx="78.9" cy="170.0" r="1.45"/><circle cx="208.3" cy="82.4" r="1.45"/><circle cx="185.4" cy="97.3" r="1.45"/><circle cx="180.2" cy="101.4" r="1.45"/><circle cx="259.5" cy="49.9" r="1.45"/><circle cx="176.0" cy="104.8" r="1.45"/><circle cx="184.9" cy="98.9" r="1.45"/><circle cx="182.3" cy="100.0" r="1.45"/><circle cx="173.8" cy="104.2" r="1.45"/><circle cx="160.9" cy="113.7" r="1.45"/><circle cx="96.7" cy="154.9" r="1.45"/><circle cx="132.0" cy="135.1" r="1.45"/><circle cx="124.0" cy="135.6" r="1.45"/><circle cx="119.6" cy="141.5" r="1.45"/><circle cx="259.9" cy="53.0" r="1.45"/><circle cx="84.4" cy="163.9" r="1.45"/><circle cx="108.4" cy="147.2" r="1.45"/><circle cx="192.6" cy="92.8" r="1.45"/><circle cx="136.5" cy="132.5" r="1.45"/><circle cx="117.5" cy="143.0" r="1.45"/><circle cx="152.5" cy="120.8" r="1.45"/><circle cx="186.2" cy="97.3" r="1.45"/><circle cx="231.4" cy="66.3" r="1.45"/><circle cx="309.6" cy="18.3" r="1.45"/><circle cx="278.2" cy="36.2" r="1.45"/><circle cx="167.3" cy="109.0" r="1.45"/><circle cx="173.0" cy="105.2" r="1.45"/><circle cx="163.6" cy="113.0" r="1.45"/><circle cx="117.2" cy="144.1" r="1.45"/><circle cx="304.2" cy="19.7" r="1.45"/><circle cx="72.5" cy="173.0" r="1.45"/><circle cx="108.3" cy="146.7" r="1.45"/><circle cx="228.2" cy="70.5" r="1.45"/><circle cx="209.2" cy="81.1" r="1.45"/><circle cx="127.6" cy="136.0" r="1.45"/><circle cx="300.3" cy="20.2" r="1.45"/><circle cx="161.9" cy="112.6" r="1.45"/><circle cx="210.9" cy="79.0" r="1.45"/><circle cx="78.4" cy="168.6" r="1.45"/><circle cx="288.2" cy="28.0" r="1.45"/><circle cx="81.5" cy="166.7" r="1.45"/><circle cx="157.9" cy="116.4" r="1.45"/><circle cx="286.8" cy="29.2" r="1.45"/><circle cx="302.4" cy="19.6" r="1.45"/><circle cx="291.7" cy="26.4" r="1.45"/><circle cx="271.6" cy="42.2" r="1.45"/><circle cx="115.7" cy="140.2" r="1.45"/><circle cx="62.9" cy="178.4" r="1.45"/><circle cx="173.0" cy="103.3" r="1.45"/><circle cx="71.1" cy="172.6" r="1.45"/><circle cx="306.5" cy="18.3" r="1.45"/><circle cx="56.6" cy="182.0" r="1.45"/><circle cx="139.9" cy="128.5" r="1.45"/><circle cx="107.8" cy="148.1" r="1.45"/><circle cx="58.1" cy="187.5" r="1.45"/><circle cx="185.4" cy="99.3" r="1.45"/><circle cx="74.5" cy="174.1" r="1.45"/><circle cx="290.6" cy="26.6" r="1.45"/><circle cx="234.9" cy="62.4" r="1.45"/><circle cx="151.6" cy="122.1" r="1.45"/><circle cx="275.3" cy="37.8" r="1.45"/><circle cx="263.6" cy="45.4" r="1.45"/><circle cx="140.1" cy="128.6" r="1.45"/><circle cx="276.8" cy="35.2" r="1.45"/><circle cx="298.3" cy="23.6" r="1.45"/><circle cx="217.1" cy="76.6" r="1.45"/><circle cx="146.8" cy="124.4" r="1.45"/><circle cx="290.8" cy="27.2" r="1.45"/><circle cx="301.9" cy="21.0" r="1.45"/><circle cx="145.6" cy="123.4" r="1.45"/><circle cx="77.1" cy="171.8" r="1.45"/><circle cx="282.2" cy="34.8" r="1.45"/><circle cx="228.9" cy="70.9" r="1.45"/><circle cx="115.4" cy="145.5" r="1.45"/><circle cx="203.2" cy="87.1" r="1.45"/><circle cx="135.4" cy="127.1" r="1.45"/><circle cx="295.6" cy="25.4" r="1.45"/><circle cx="144.3" cy="124.9" r="1.45"/><circle cx="106.0" cy="151.0" r="1.45"/><circle cx="65.8" cy="176.5" r="1.45"/><circle cx="144.4" cy="123.1" r="1.45"/><circle cx="314.1" cy="12.1" r="1.45"/><circle cx="111.8" cy="148.2" r="1.45"/><circle cx="174.7" cy="107.3" r="1.45"/><circle cx="309.5" cy="15.0" r="1.45"/><circle cx="56.3" cy="181.5" r="1.45"/><circle cx="131.9" cy="135.9" r="1.45"/><circle cx="269.9" cy="40.0" r="1.45"/><circle cx="79.6" cy="172.8" r="1.45"/><circle cx="298.0" cy="23.1" r="1.45"/><circle cx="273.4" cy="37.8" r="1.45"/><circle cx="92.0" cy="161.9" r="1.45"/><circle cx="209.9" cy="85.3" r="1.45"/><circle cx="200.2" cy="84.7" r="1.45"/><circle cx="236.5" cy="67.3" r="1.45"/><circle cx="135.0" cy="131.1" r="1.45"/><circle cx="155.3" cy="120.2" r="1.45"/><circle cx="117.7" cy="142.5" r="1.45"/><circle cx="131.1" cy="131.7" r="1.45"/><circle cx="100.6" cy="155.3" r="1.45"/><circle cx="291.8" cy="28.0" r="1.45"/><circle cx="287.3" cy="32.2" r="1.45"/><circle cx="149.0" cy="124.8" r="1.45"/><circle cx="236.4" cy="65.5" r="1.45"/><circle cx="183.1" cy="98.8" r="1.45"/><circle cx="128.2" cy="135.3" r="1.45"/><circle cx="146.2" cy="123.6" r="1.45"/><circle cx="307.7" cy="16.0" r="1.45"/><circle cx="144.1" cy="125.0" r="1.45"/><circle cx="206.3" cy="78.1" r="1.45"/><circle cx="302.4" cy="20.4" r="1.45"/><circle cx="132.6" cy="133.1" r="1.45"/><circle cx="266.7" cy="48.7" r="1.45"/><circle cx="84.4" cy="166.5" r="1.45"/><circle cx="246.9" cy="56.0" r="1.45"/><circle cx="266.1" cy="45.3" r="1.45"/><circle cx="274.2" cy="36.8" r="1.45"/><circle cx="310.3" cy="14.5" r="1.45"/><circle cx="241.0" cy="56.9" r="1.45"/><circle cx="310.9" cy="16.0" r="1.45"/><circle cx="127.5" cy="137.5" r="1.45"/><circle cx="191.3" cy="91.4" r="1.45"/><circle cx="110.7" cy="147.7" r="1.45"/><circle cx="76.4" cy="172.3" r="1.45"/><circle cx="169.7" cy="109.1" r="1.45"/><circle cx="243.3" cy="60.1" r="1.45"/><circle cx="258.7" cy="47.4" r="1.45"/><circle cx="59.0" cy="180.3" r="1.45"/><circle cx="301.7" cy="20.8" r="1.45"/><circle cx="119.4" cy="143.5" r="1.45"/><circle cx="131.2" cy="132.8" r="1.45"/><circle cx="272.9" cy="37.7" r="1.45"/><circle cx="289.1" cy="30.0" r="1.45"/><circle cx="247.7" cy="54.5" r="1.45"/><circle cx="141.8" cy="128.6" r="1.45"/><circle cx="175.9" cy="104.5" r="1.45"/><circle cx="273.5" cy="40.8" r="1.45"/><circle cx="148.2" cy="125.3" r="1.45"/><circle cx="265.8" cy="45.7" r="1.45"/><circle cx="259.7" cy="50.0" r="1.45"/><circle cx="177.5" cy="101.5" r="1.45"/><circle cx="289.7" cy="27.8" r="1.45"/><circle cx="155.4" cy="118.9" r="1.45"/><circle cx="251.2" cy="57.1" r="1.45"/><circle cx="222.3" cy="76.4" r="1.45"/><circle cx="141.4" cy="130.8" r="1.45"/><circle cx="194.0" cy="92.5" r="1.45"/><circle cx="213.5" cy="79.5" r="1.45"/><circle cx="195.3" cy="93.0" r="1.45"/><circle cx="83.5" cy="165.3" r="1.45"/><circle cx="314.6" cy="12.2" r="1.45"/><circle cx="308.1" cy="15.6" r="1.45"/><circle cx="64.3" cy="180.7" r="1.45"/><circle cx="302.2" cy="19.4" r="1.45"/><circle cx="193.9" cy="93.0" r="1.45"/><circle cx="87.5" cy="159.6" r="1.45"/><circle cx="269.8" cy="43.8" r="1.45"/><circle cx="168.1" cy="107.7" r="1.45"/><circle cx="241.6" cy="62.3" r="1.45"/><circle cx="271.5" cy="37.7" r="1.45"/><circle cx="195.7" cy="89.9" r="1.45"/><circle cx="67.5" cy="178.9" r="1.45"/><circle cx="270.3" cy="39.9" r="1.45"/><circle cx="236.6" cy="63.9" r="1.45"/><circle cx="293.3" cy="25.7" r="1.45"/><circle cx="125.4" cy="134.3" r="1.45"/><circle cx="260.5" cy="48.5" r="1.45"/><circle cx="283.6" cy="33.0" r="1.45"/><circle cx="147.6" cy="121.4" r="1.45"/><circle cx="162.1" cy="114.3" r="1.45"/><circle cx="142.1" cy="125.5" r="1.45"/><circle cx="56.0" cy="181.4" r="1.45"/><circle cx="115.2" cy="144.7" r="1.45"/><circle cx="141.5" cy="126.1" r="1.45"/><circle cx="82.9" cy="171.0" r="1.45"/><circle cx="255.3" cy="48.3" r="1.45"/><circle cx="166.5" cy="111.6" r="1.45"/><circle cx="203.6" cy="87.7" r="1.45"/><circle cx="129.2" cy="132.3" r="1.45"/><circle cx="149.0" cy="119.5" r="1.45"/><circle cx="252.2" cy="54.6" r="1.45"/><circle cx="177.8" cy="102.0" r="1.45"/><circle cx="211.0" cy="81.5" r="1.45"/><circle cx="165.4" cy="113.0" r="1.45"/><circle cx="200.6" cy="86.7" r="1.45"/><circle cx="289.9" cy="27.3" r="1.45"/><circle cx="124.7" cy="134.1" r="1.45"/><circle cx="190.7" cy="94.5" r="1.45"/><circle cx="234.8" cy="62.9" r="1.45"/><circle cx="77.3" cy="170.2" r="1.45"/><circle cx="306.9" cy="17.5" r="1.45"/><circle cx="185.3" cy="95.2" r="1.45"/><circle cx="109.6" cy="145.0" r="1.45"/><circle cx="151.0" cy="122.3" r="1.45"/><circle cx="197.4" cy="99.0" r="1.45"/><circle cx="307.1" cy="17.3" r="1.45"/><circle cx="92.9" cy="164.5" r="1.45"/><circle cx="73.8" cy="169.6" r="1.45"/><circle cx="195.9" cy="88.2" r="1.45"/><circle cx="301.9" cy="19.9" r="1.45"/><circle cx="66.6" cy="175.9" r="1.45"/><circle cx="223.0" cy="82.6" r="1.45"/><circle cx="61.7" cy="174.3" r="1.45"/><circle cx="199.1" cy="97.0" r="1.45"/><circle cx="85.8" cy="159.2" r="1.45"/><circle cx="227.4" cy="68.6" r="1.45"/><circle cx="149.2" cy="124.5" r="1.45"/><circle cx="226.2" cy="74.0" r="1.45"/><circle cx="122.3" cy="141.0" r="1.45"/><circle cx="74.2" cy="163.5" r="1.45"/><circle cx="102.2" cy="154.7" r="1.45"/><circle cx="126.4" cy="134.1" r="1.45"/><circle cx="97.7" cy="166.7" r="1.45"/><circle cx="106.6" cy="149.7" r="1.45"/><circle cx="197.3" cy="90.7" r="1.45"/><circle cx="169.3" cy="104.4" r="1.45"/><circle cx="271.0" cy="39.2" r="1.45"/><circle cx="185.1" cy="92.5" r="1.45"/><circle cx="196.0" cy="95.4" r="1.45"/><circle cx="240.8" cy="59.8" r="1.45"/><circle cx="278.4" cy="37.0" r="1.45"/><circle cx="207.9" cy="78.9" r="1.45"/><circle cx="64.2" cy="175.8" r="1.45"/><circle cx="175.0" cy="109.5" r="1.45"/><circle cx="63.0" cy="174.3" r="1.45"/><circle cx="213.2" cy="69.2" r="1.45"/><circle cx="71.6" cy="175.3" r="1.45"/><circle cx="196.1" cy="84.9" r="1.45"/><circle cx="93.8" cy="156.8" r="1.45"/><circle cx="278.9" cy="37.2" r="1.45"/><circle cx="79.2" cy="164.1" r="1.45"/><circle cx="227.5" cy="74.4" r="1.45"/><circle cx="239.1" cy="58.8" r="1.45"/><circle cx="126.7" cy="141.8" r="1.45"/><circle cx="210.0" cy="88.7" r="1.45"/><circle cx="141.1" cy="126.0" r="1.45"/><circle cx="122.4" cy="139.2" r="1.45"/><circle cx="122.6" cy="137.2" r="1.45"/><circle cx="58.7" cy="183.2" r="1.45"/><circle cx="231.0" cy="73.4" r="1.45"/><circle cx="73.3" cy="165.0" r="1.45"/><circle cx="106.2" cy="154.1" r="1.45"/><circle cx="77.3" cy="163.0" r="1.45"/><circle cx="265.5" cy="41.2" r="1.45"/><circle cx="193.4" cy="83.8" r="1.45"/><circle cx="177.1" cy="111.3" r="1.45"/><circle cx="207.5" cy="83.2" r="1.45"/><circle cx="266.6" cy="44.8" r="1.45"/><circle cx="218.2" cy="72.2" r="1.45"/><circle cx="189.2" cy="100.0" r="1.45"/><circle cx="136.7" cy="123.9" r="1.45"/><circle cx="190.1" cy="94.7" r="1.45"/><circle cx="313.5" cy="14.9" r="1.45"/><circle cx="204.0" cy="83.2" r="1.45"/><circle cx="179.7" cy="101.6" r="1.45"/><circle cx="287.5" cy="30.6" r="1.45"/><circle cx="68.8" cy="171.2" r="1.45"/><circle cx="71.1" cy="173.7" r="1.45"/><circle cx="261.6" cy="51.0" r="1.45"/><circle cx="301.7" cy="20.9" r="1.45"/><circle cx="67.9" cy="177.6" r="1.45"/><circle cx="60.8" cy="178.9" r="1.45"/><circle cx="57.1" cy="184.9" r="1.45"/><circle cx="205.9" cy="84.3" r="1.45"/><circle cx="90.6" cy="167.1" r="1.45"/><circle cx="201.8" cy="90.6" r="1.45"/><circle cx="228.6" cy="67.7" r="1.45"/><circle cx="58.6" cy="169.8" r="1.45"/><circle cx="282.8" cy="34.0" r="1.45"/><circle cx="120.8" cy="143.5" r="1.45"/><circle cx="199.8" cy="83.2" r="1.45"/><circle cx="147.3" cy="117.3" r="1.45"/><circle cx="144.6" cy="121.7" r="1.45"/><circle cx="160.3" cy="117.6" r="1.45"/><circle cx="55.5" cy="178.9" r="1.45"/><circle cx="167.0" cy="108.5" r="1.45"/><circle cx="124.0" cy="139.6" r="1.45"/><circle cx="148.3" cy="126.3" r="1.45"/><circle cx="97.2" cy="156.4" r="1.45"/><circle cx="142.4" cy="126.3" r="1.45"/><circle cx="238.0" cy="60.2" r="1.45"/><circle cx="312.6" cy="15.0" r="1.45"/><circle cx="106.2" cy="154.7" r="1.45"/><circle cx="281.9" cy="33.5" r="1.45"/><circle cx="215.8" cy="69.8" r="1.45"/><circle cx="81.0" cy="163.2" r="1.45"/><circle cx="58.4" cy="185.3" r="1.45"/><circle cx="286.4" cy="29.8" r="1.45"/><circle cx="115.9" cy="147.3" r="1.45"/><circle cx="82.4" cy="167.7" r="1.45"/><circle cx="226.5" cy="72.0" r="1.45"/><circle cx="239.9" cy="64.7" r="1.45"/><circle cx="289.3" cy="29.2" r="1.45"/><circle cx="185.8" cy="93.8" r="1.45"/><circle cx="136.3" cy="129.6" r="1.45"/><circle cx="138.0" cy="136.7" r="1.45"/><circle cx="108.2" cy="145.0" r="1.45"/><circle cx="221.2" cy="71.4" r="1.45"/><circle cx="301.7" cy="21.6" r="1.45"/><circle cx="76.7" cy="169.0" r="1.45"/><circle cx="155.9" cy="114.9" r="1.45"/><circle cx="146.8" cy="119.6" r="1.45"/><circle cx="75.5" cy="173.2" r="1.45"/><circle cx="210.6" cy="86.6" r="1.45"/><circle cx="312.4" cy="14.9" r="1.45"/><circle cx="127.1" cy="137.0" r="1.45"/><circle cx="245.3" cy="62.7" r="1.45"/><circle cx="290.8" cy="26.8" r="1.45"/><circle cx="125.5" cy="138.4" r="1.45"/><circle cx="295.6" cy="24.0" r="1.45"/><circle cx="250.8" cy="55.1" r="1.45"/><circle cx="223.9" cy="76.2" r="1.45"/><circle cx="259.0" cy="52.2" r="1.45"/><circle cx="267.6" cy="49.7" r="1.45"/><circle cx="231.3" cy="70.4" r="1.45"/><circle cx="249.6" cy="62.5" r="1.45"/><circle cx="229.0" cy="74.6" r="1.45"/><circle cx="226.0" cy="75.4" r="1.45"/><circle cx="246.7" cy="64.2" r="1.45"/><circle cx="241.6" cy="70.0" r="1.45"/><circle cx="275.8" cy="51.4" r="1.45"/><circle cx="225.8" cy="74.1" r="1.45"/><circle cx="262.5" cy="52.2" r="1.45"/><circle cx="267.6" cy="53.1" r="1.45"/><circle cx="249.2" cy="60.5" r="1.45"/><circle cx="254.0" cy="54.9" r="1.45"/><circle cx="239.3" cy="69.6" r="1.45"/><circle cx="239.6" cy="72.3" r="1.45"/><circle cx="228.1" cy="77.2" r="1.45"/><circle cx="277.5" cy="50.1" r="1.45"/><circle cx="226.7" cy="75.4" r="1.45"/><circle cx="233.0" cy="70.9" r="1.45"/><circle cx="267.0" cy="45.1" r="1.45"/><circle cx="251.5" cy="62.3" r="1.45"/><circle cx="254.7" cy="56.4" r="1.45"/><circle cx="242.1" cy="63.9" r="1.45"/><circle cx="234.3" cy="71.1" r="1.45"/><circle cx="271.3" cy="57.5" r="1.45"/><circle cx="232.2" cy="72.5" r="1.45"/><circle cx="242.2" cy="64.0" r="1.45"/><circle cx="268.6" cy="53.3" r="1.45"/><circle cx="242.3" cy="69.5" r="1.45"/><circle cx="280.2" cy="43.1" r="1.45"/><circle cx="235.2" cy="68.4" r="1.45"/><circle cx="255.6" cy="56.5" r="1.45"/><circle cx="256.2" cy="56.3" r="1.45"/><circle cx="254.0" cy="55.5" r="1.45"/><circle cx="269.9" cy="53.5" r="1.45"/><circle cx="227.7" cy="80.2" r="1.45"/><circle cx="256.7" cy="56.5" r="1.45"/><circle cx="270.8" cy="44.8" r="1.45"/><circle cx="227.9" cy="74.6" r="1.45"/><circle cx="256.7" cy="56.7" r="1.45"/><circle cx="250.6" cy="62.3" r="1.45"/><circle cx="248.5" cy="59.4" r="1.45"/><circle cx="256.2" cy="56.4" r="1.45"/><circle cx="261.2" cy="50.1" r="1.45"/><circle cx="265.8" cy="55.2" r="1.45"/><circle cx="277.1" cy="45.6" r="1.45"/><circle cx="263.1" cy="52.6" r="1.45"/><circle cx="282.9" cy="35.2" r="1.45"/><circle cx="263.6" cy="52.3" r="1.45"/><circle cx="240.6" cy="66.0" r="1.45"/><circle cx="233.5" cy="72.4" r="1.45"/><circle cx="229.1" cy="75.7" r="1.45"/><circle cx="240.6" cy="64.9" r="1.45"/><circle cx="231.9" cy="74.1" r="1.45"/><circle cx="264.6" cy="47.4" r="1.45"/><circle cx="265.0" cy="55.1" r="1.45"/><circle cx="260.5" cy="59.9" r="1.45"/><circle cx="247.2" cy="59.2" r="1.45"/><circle cx="251.9" cy="63.3" r="1.45"/><circle cx="240.0" cy="65.5" r="1.45"/><circle cx="278.3" cy="41.6" r="1.45"/><circle cx="225.9" cy="83.3" r="1.45"/><circle cx="243.6" cy="62.6" r="1.45"/><circle cx="258.2" cy="59.2" r="1.45"/><circle cx="235.5" cy="74.8" r="1.45"/><circle cx="274.5" cy="45.2" r="1.45"/><circle cx="252.9" cy="55.8" r="1.45"/><circle cx="246.5" cy="59.4" r="1.45"/><circle cx="228.6" cy="70.5" r="1.45"/><circle cx="254.4" cy="44.3" r="1.45"/><circle cx="225.9" cy="66.6" r="1.45"/><circle cx="251.8" cy="48.2" r="1.45"/><circle cx="222.1" cy="70.8" r="1.45"/><circle cx="248.4" cy="50.4" r="1.45"/><circle cx="239.8" cy="54.9" r="1.45"/><circle cx="254.7" cy="46.0" r="1.45"/><circle cx="253.5" cy="47.3" r="1.45"/><circle cx="223.7" cy="68.9" r="1.45"/><circle cx="239.9" cy="55.1" r="1.45"/><circle cx="230.7" cy="60.2" r="1.45"/><circle cx="237.8" cy="59.2" r="1.45"/><circle cx="224.4" cy="64.2" r="1.45"/><circle cx="235.0" cy="60.9" r="1.45"/><circle cx="236.7" cy="54.9" r="1.45"/><circle cx="222.1" cy="68.4" r="1.45"/><circle cx="239.1" cy="58.7" r="1.45"/><circle cx="254.2" cy="41.1" r="1.45"/><circle cx="224.2" cy="65.8" r="1.45"/><circle cx="256.0" cy="45.1" r="1.45"/><circle cx="239.6" cy="57.2" r="1.45"/><circle cx="229.6" cy="65.7" r="1.45"/><circle cx="256.9" cy="47.4" r="1.45"/><circle cx="239.0" cy="54.3" r="1.45"/><circle cx="237.7" cy="57.2" r="1.45"/><circle cx="235.6" cy="60.0" r="1.45"/><circle cx="253.7" cy="44.2" r="1.45"/><circle cx="226.7" cy="66.1" r="1.45"/><circle cx="229.6" cy="64.2" r="1.45"/><circle cx="232.2" cy="62.6" r="1.45"/><circle cx="224.2" cy="65.6" r="1.45"/><circle cx="252.4" cy="49.4" r="1.45"/><circle cx="239.6" cy="55.6" r="1.45"/><circle cx="243.7" cy="55.9" r="1.45"/><circle cx="253.9" cy="47.5" r="1.45"/><circle cx="124.6" cy="106.8" r="1.45"/><circle cx="87.3" cy="132.4" r="1.45"/><circle cx="89.0" cy="133.5" r="1.45"/><circle cx="99.4" cy="131.7" r="1.45"/><circle cx="151.8" cy="176.6" r="1.45"/><circle cx="58.4" cy="199.1" r="1.45"/><circle cx="56.0" cy="204.7" r="1.45"/><circle cx="67.2" cy="166.9" r="1.45"/><circle cx="72.3" cy="165.1" r="1.45"/><circle cx="77.6" cy="178.5" r="1.45"/><circle cx="71.1" cy="184.7" r="1.45"/><circle cx="101.2" cy="146.3" r="1.45"/><circle cx="97.1" cy="149.7" r="1.45"/><circle cx="127.0" cy="133.2" r="1.45"/><circle cx="134.6" cy="138.1" r="1.45"/><circle cx="148.1" cy="131.9" r="1.45"/><circle cx="151.9" cy="132.4" r="1.45"/><circle cx="158.1" cy="124.6" r="1.45"/><circle cx="159.5" cy="125.1" r="1.45"/><circle cx="166.2" cy="121.1" r="1.45"/><circle cx="171.6" cy="115.7" r="1.45"/><circle cx="167.0" cy="104.1" r="1.45"/><circle cx="174.3" cy="98.1" r="1.45"/><circle cx="191.9" cy="102.9" r="1.45"/><circle cx="168.1" cy="103.5" r="1.45"/><circle cx="180.1" cy="106.3" r="1.45"/><circle cx="201.4" cy="98.2" r="1.45"/><circle cx="203.7" cy="94.7" r="1.45"/><circle cx="208.1" cy="65.8" r="1.45"/><circle cx="215.9" cy="62.8" r="1.45"/><circle cx="220.1" cy="64.6" r="1.45"/><circle cx="196.5" cy="77.4" r="1.45"/><circle cx="212.7" cy="95.2" r="1.45"/><circle cx="228.2" cy="95.2" r="1.45"/><circle cx="231.7" cy="101.7" r="1.45"/><circle cx="241.4" cy="90.6" r="1.45"/><circle cx="247.9" cy="90.6" r="1.45"/><circle cx="247.4" cy="73.4" r="1.45"/><circle cx="217.8" cy="86.6" r="1.45"/><circle cx="224.3" cy="82.0" r="1.45"/><circle cx="203.9" cy="94.3" r="1.45"/><circle cx="201.6" cy="98.2" r="1.45"/><circle cx="243.5" cy="49.0" r="1.45"/><circle cx="258.5" cy="43.2" r="1.45"/><circle cx="272.4" cy="45.0" r="1.45"/><circle cx="276.6" cy="46.6" r="1.45"/><circle cx="282.2" cy="43.6" r="1.45"/><circle cx="278.2" cy="43.2" r="1.45"/><circle cx="271.3" cy="55.9" r="1.45"/><circle cx="269.0" cy="60.5" r="1.45"/><circle cx="265.5" cy="68.6" r="1.45"/><circle cx="262.0" cy="71.0" r="1.45"/><circle cx="258.5" cy="72.8" r="1.45"/><circle cx="253.9" cy="72.8" r="1.45"/><circle cx="249.3" cy="75.6" r="1.45"/><circle cx="248.1" cy="72.1" r="1.45"/><circle cx="262.0" cy="79.1" r="1.45"/><circle cx="251.1" cy="67.5" r="1.45"/><circle cx="257.4" cy="61.7" r="1.45"/><circle cx="266.6" cy="54.3" r="1.45"/><circle cx="263.2" cy="58.2" r="1.45"/><circle cx="275.8" cy="42.9" r="1.45"/><circle cx="278.1" cy="44.0" r="1.45"/><circle cx="281.6" cy="43.5" r="1.45"/><circle cx="273.5" cy="45.2" r="1.45"/><circle cx="276.5" cy="46.3" r="1.45"/><circle cx="271.2" cy="55.6" r="1.45"/><circle cx="272.3" cy="56.8" r="1.45"/></g>
<line x1="54.50" y1="184.10" x2="316.85" y2="9.90" stroke="#ff0000" stroke-width="2.00"/>
<g fill="#1a1a1a"><rect x="43.15" y="2.80" width="1.70" height="217.15"/><rect x="326.95" y="2.80" width="1.30" height="217.15"/><rect x="43.15" y="2.80" width="285.10" height="1.20"/><rect x="43.15" y="218.65" width="285.10" height="1.30"/></g>
<path d="M54.50 219.30v-3.50M54.50 3.30v3.50M106.98 219.30v-3.50M106.98 3.30v3.50M159.46 219.30v-3.50M159.46 3.30v3.50M211.94 219.30v-3.50M211.94 3.30v3.50M264.42 219.30v-3.50M264.42 3.30v3.50M316.90 219.30v-3.50M316.90 3.30v3.50M44.00 219.30h3.50M327.40 219.30h-3.50M44.00 184.46h3.50M327.40 184.46h-3.50M44.00 149.62h3.50M327.40 149.62h-3.50M44.00 114.78h3.50M327.40 114.78h-3.50M44.00 79.95h3.50M327.40 79.95h-3.50M44.00 45.11h3.50M327.40 45.11h-3.50M44.00 10.27h3.50M327.40 10.27h-3.50" stroke="#1a1a1a" stroke-width="1.2" fill="none"/>
<text x="54.50" y="235.50" text-anchor="middle" class="tk">5</text>
<text x="106.98" y="235.50" text-anchor="middle" class="tk">10</text>
<text x="159.46" y="235.50" text-anchor="middle" class="tk">15</text>
<text x="211.94" y="235.50" text-anchor="middle" class="tk">20</text>
<text x="264.42" y="235.50" text-anchor="middle" class="tk">25</text>
<text x="316.90" y="235.50" text-anchor="middle" class="tk">30</text>
<text x="39.20" y="223.60" text-anchor="end" class="tk">0</text>
<text x="39.20" y="188.76" text-anchor="end" class="tk">5</text>
<text x="39.20" y="153.92" text-anchor="end" class="tk">10</text>
<text x="39.20" y="119.08" text-anchor="end" class="tk">15</text>
<text x="39.20" y="84.24" text-anchor="end" class="tk">20</text>
<text x="39.20" y="49.40" text-anchor="end" class="tk">25</text>
<text x="39.20" y="14.56" text-anchor="end" class="tk">30</text>
<text x="188.00" y="255.60" text-anchor="middle" class="lb">True P (<tspan font-family="Liberation Serif" font-style="italic" font-size="15.5px">&#956;</tspan>m)</text>
<text transform="translate(10.30 114.80) rotate(-90)" text-anchor="middle" class="lb">Predicted P (<tspan font-family="Liberation Serif" font-style="italic" font-size="15.5px">&#956;</tspan>m)</text>
<rect x="51.50" y="10.50" width="83.10" height="33.90" fill="#ffffff"/>
<g fill="#1a1a1a"><rect x="50.95" y="9.95" width="1.10" height="35.00"/><rect x="134.05" y="9.95" width="1.10" height="35.00"/><rect x="50.95" y="9.95" width="84.20" height="1.10"/><rect x="50.95" y="43.85" width="84.20" height="1.10"/></g>
<circle cx="66.80" cy="19.60" r="1.45" fill="#0000ff"/>
<line x1="53.80" y1="35.30" x2="79.90" y2="35.30" stroke="#ff0000" stroke-width="2.00"/>
<text x="82.00" y="24.50" class="lg">predicted</text>
<text x="82.00" y="39.70" class="lg">true</text>
<text x="2.50" y="10.60" class="pn">(a)</text>
<g fill="#0000ff"><circle cx="459.6" cy="153.3" r="1.45"/><circle cx="448.9" cy="157.0" r="1.45"/><circle cx="539.8" cy="106.1" r="1.45"/><circle cx="531.0" cy="110.5" r="1.45"/><circle cx="580.1" cy="76.9" r="1.45"/><circle cx="636.2" cy="35.1" r="1.45"/><circle cx="596.6" cy="59.3" r="1.45"/><circle cx="499.5" cy="129.4" r="1.45"/><circle cx="538.8" cy="100.9" r="1.45"/><circle cx="588.0" cy="69.6" r="1.45"/><circle cx="631.2" cy="36.0" r="1.45"/><circle cx="590.3" cy="70.1" r="1.45"/><circle cx="543.1" cy="94.9" r="1.45"/><circle cx="446.3" cy="161.4" r="1.45"/><circle cx="639.0" cy="26.2" r="1.45"/><circle cx="485.1" cy="134.6" r="1.45"/><circle cx="517.5" cy="115.8" r="1.45"/><circle cx="643.2" cy="29.5" r="1.45"/><circle cx="465.7" cy="147.8" r="1.45"/><circle cx="650.9" cy="30.4" r="1.45"/><circle cx="471.4" cy="144.8" r="1.45"/><circle cx="434.2" cy="171.1" r="1.45"/><circle cx="546.0" cy="87.7" r="1.45"/><circle cx="619.8" cy="49.2" r="1.45"/><circle cx="516.8" cy="116.3" r="1.45"/><circle cx="632.3" cy="31.4" r="1.45"/><circle cx="515.2" cy="112.4" r="1.45"/><circle cx="625.0" cy="47.3" r="1.45"/><circle cx="440.9" cy="163.2" r="1.45"/><circle cx="485.6" cy="134.2" r="1.45"/><circle cx="443.4" cy="164.1" r="1.45"/><circle cx="605.2" cy="54.6" r="1.45"/><circle cx="534.4" cy="104.6" r="1.45"/><circle cx="583.2" cy="67.2" r="1.45"/><circle cx="473.8" cy="143.9" r="1.45"/><circle cx="603.9" cy="61.4" r="1.45"/><circle cx="671.6" cy="15.1" r="1.45"/><circle cx="432.0" cy="167.4" r="1.45"/><circle cx="494.9" cy="131.0" r="1.45"/><circle cx="639.3" cy="34.4" r="1.45"/><circle cx="634.6" cy="32.9" r="1.45"/><circle cx="639.9" cy="40.2" r="1.45"/><circle cx="470.7" cy="142.1" r="1.45"/><circle cx="559.0" cy="93.2" r="1.45"/><circle cx="433.9" cy="168.5" r="1.45"/><circle cx="524.3" cy="114.4" r="1.45"/><circle cx="562.4" cy="84.3" r="1.45"/><circle cx="479.1" cy="137.2" r="1.45"/><circle cx="522.0" cy="111.7" r="1.45"/><circle cx="507.3" cy="122.0" r="1.45"/><circle cx="433.5" cy="170.5" r="1.45"/><circle cx="429.3" cy="174.0" r="1.45"/><circle cx="616.1" cy="44.9" r="1.45"/><circle cx="412.1" cy="184.5" r="1.45"/><circle cx="669.9" cy="18.2" r="1.45"/><circle cx="646.5" cy="28.2" r="1.45"/><circle cx="670.2" cy="10.0" r="1.45"/><circle cx="617.3" cy="43.9" r="1.45"/><circle cx="411.9" cy="184.9" r="1.45"/><circle cx="441.7" cy="165.5" r="1.45"/><circle cx="494.9" cy="127.5" r="1.45"/><circle cx="458.9" cy="150.8" r="1.45"/><circle cx="427.2" cy="175.6" r="1.45"/><circle cx="651.7" cy="18.8" r="1.45"/><circle cx="650.0" cy="28.0" r="1.45"/><circle cx="612.4" cy="47.8" r="1.45"/><circle cx="477.7" cy="137.3" r="1.45"/><circle cx="634.8" cy="37.5" r="1.45"/><circle cx="626.1" cy="41.7" r="1.45"/><circle cx="496.2" cy="132.0" r="1.45"/><circle cx="444.8" cy="165.8" r="1.45"/><circle cx="446.8" cy="160.6" r="1.45"/><circle cx="518.5" cy="116.6" r="1.45"/><circle cx="629.5" cy="45.2" r="1.45"/><circle cx="431.3" cy="170.4" r="1.45"/><circle cx="524.0" cy="107.7" r="1.45"/><circle cx="504.3" cy="127.2" r="1.45"/><circle cx="645.3" cy="28.5" r="1.45"/><circle cx="451.4" cy="157.8" r="1.45"/><circle cx="583.2" cy="69.4" r="1.45"/><circle cx="496.0" cy="128.4" r="1.45"/><circle cx="580.8" cy="69.9" r="1.45"/><circle cx="626.9" cy="45.5" r="1.45"/><circle cx="627.5" cy="47.4" r="1.45"/><circle cx="633.0" cy="36.4" r="1.45"/><circle cx="488.0" cy="130.9" r="1.45"/><circle cx="483.6" cy="137.0" r="1.45"/><circle cx="443.5" cy="160.8" r="1.45"/><circle cx="478.2" cy="139.2" r="1.45"/><circle cx="442.6" cy="165.6" r="1.45"/><circle cx="616.9" cy="59.0" r="1.45"/><circle cx="423.7" cy="176.7" r="1.45"/><circle cx="461.6" cy="149.4" r="1.45"/><circle cx="618.5" cy="51.0" r="1.45"/><circle cx="612.8" cy="41.1" r="1.45"/><circle cx="666.5" cy="13.4" r="1.45"/><circle cx="511.9" cy="122.2" r="1.45"/><circle cx="423.1" cy="177.6" r="1.45"/><circle cx="623.2" cy="38.1" r="1.45"/><circle cx="486.4" cy="131.5" r="1.45"/><circle cx="614.0" cy="54.1" r="1.45"/><circle cx="416.4" cy="180.9" r="1.45"/><circle cx="420.4" cy="177.5" r="1.45"/><circle cx="568.1" cy="82.1" r="1.45"/><circle cx="590.7" cy="63.3" r="1.45"/><circle cx="558.7" cy="80.4" r="1.45"/><circle cx="550.8" cy="94.9" r="1.45"/><circle cx="567.9" cy="78.5" r="1.45"/><circle cx="445.6" cy="160.1" r="1.45"/><circle cx="428.0" cy="171.4" r="1.45"/><circle cx="502.9" cy="124.7" r="1.45"/><circle cx="554.9" cy="86.8" r="1.45"/><circle cx="476.6" cy="142.8" r="1.45"/><circle cx="458.2" cy="153.0" r="1.45"/><circle cx="528.3" cy="110.4" r="1.45"/><circle cx="518.7" cy="112.5" r="1.45"/><circle cx="481.8" cy="136.8" r="1.45"/><circle cx="654.4" cy="15.1" r="1.45"/><circle cx="658.5" cy="16.6" r="1.45"/><circle cx="423.6" cy="177.2" r="1.45"/><circle cx="537.2" cy="110.7" r="1.45"/><circle cx="473.6" cy="141.0" r="1.45"/><circle cx="499.4" cy="123.9" r="1.45"/><circle cx="418.8" cy="179.9" r="1.45"/><circle cx="432.3" cy="171.2" r="1.45"/><circle cx="420.1" cy="177.6" r="1.45"/><circle cx="444.2" cy="162.7" r="1.45"/><circle cx="581.5" cy="65.5" r="1.45"/><circle cx="431.8" cy="170.3" r="1.45"/><circle cx="643.6" cy="35.5" r="1.45"/><circle cx="621.7" cy="52.8" r="1.45"/><circle cx="481.9" cy="137.7" r="1.45"/><circle cx="592.6" cy="63.2" r="1.45"/><circle cx="660.9" cy="22.5" r="1.45"/><circle cx="441.8" cy="165.9" r="1.45"/><circle cx="558.2" cy="89.0" r="1.45"/><circle cx="533.4" cy="101.6" r="1.45"/><circle cx="492.7" cy="131.7" r="1.45"/><circle cx="486.8" cy="136.9" r="1.45"/><circle cx="434.0" cy="168.3" r="1.45"/><circle cx="581.0" cy="67.0" r="1.45"/><circle cx="463.1" cy="151.2" r="1.45"/><circle cx="522.1" cy="112.4" r="1.45"/><circle cx="654.7" cy="28.9" r="1.45"/><circle cx="502.6" cy="124.5" r="1.45"/><circle cx="494.2" cy="128.4" r="1.45"/><circle cx="655.8" cy="21.5" r="1.45"/><circle cx="564.3" cy="79.6" r="1.45"/><circle cx="560.9" cy="82.2" r="1.45"/><circle cx="469.6" cy="145.0" r="1.45"/><circle cx="579.4" cy="71.3" r="1.45"/><circle cx="510.7" cy="121.8" r="1.45"/><circle cx="553.9" cy="86.1" r="1.45"/><circle cx="515.6" cy="115.6" r="1.45"/><circle cx="432.6" cy="169.4" r="1.45"/><circle cx="641.4" cy="39.7" r="1.45"/><circle cx="592.7" cy="65.3" r="1.45"/><circle cx="662.5" cy="17.5" r="1.45"/><circle cx="491.7" cy="133.4" r="1.45"/><circle cx="485.1" cy="136.1" r="1.45"/><circle cx="446.9" cy="160.1" r="1.45"/><circle cx="491.5" cy="135.2" r="1.45"/><circle cx="496.5" cy="130.0" r="1.45"/><circle cx="459.5" cy="155.5" r="1.45"/><circle cx="480.7" cy="141.3" r="1.45"/><circle cx="488.4" cy="135.5" r="1.45"/><circle cx="636.3" cy="36.7" r="1.45"/><circle cx="528.3" cy="104.1" r="1.45"/><circle cx="626.3" cy="45.7" r="1.45"/><circle cx="424.3" cy="175.8" r="1.45"/><circle cx="460.7" cy="153.0" r="1.45"/><circle cx="661.1" cy="20.2" r="1.45"/><circle cx="424.5" cy="174.7" r="1.45"/><circle cx="429.5" cy="170.9" r="1.45"/><circle cx="547.1" cy="97.0" r="1.45"/><circle cx="487.3" cy="137.3" r="1.45"/><circle cx="462.2" cy="150.4" r="1.45"/><circle cx="570.9" cy="80.5" r="1.45"/><circle cx="571.0" cy="83.8" r="1.45"/><circle cx="460.6" cy="150.5" r="1.45"/><circle cx="552.6" cy="89.9" r="1.45"/><circle cx="530.5" cy="102.5" r="1.45"/><circle cx="633.3" cy="43.5" r="1.45"/><circle cx="429.2" cy="172.9" r="1.45"/><circle cx="472.4" cy="143.4" r="1.45"/><circle cx="559.5" cy="80.8" r="1.45"/><circle cx="420.1" cy="178.3" r="1.45"/><circle cx="633.0" cy="42.8" r="1.45"/><circle cx="665.2" cy="16.3" r="1.45"/><circle cx="497.4" cy="126.8" r="1.45"/><circle cx="614.4" cy="53.0" r="1.45"/><circle cx="476.6" cy="139.1" r="1.45"/><circle cx="659.9" cy="21.3" r="1.45"/><circle cx="466.8" cy="149.0" r="1.45"/><circle cx="412.8" cy="182.3" r="1.45"/><circle cx="429.2" cy="171.3" r="1.45"/><circle cx="531.6" cy="105.9" r="1.45"/><circle cx="421.4" cy="177.6" r="1.45"/><circle cx="668.4" cy="14.5" r="1.45"/><circle cx="576.8" cy="75.7" r="1.45"/><circle cx="560.4" cy="86.6" r="1.45"/><circle cx="575.5" cy="72.3" r="1.45"/><circle cx="521.0" cy="110.3" r="1.45"/><circle cx="643.5" cy="33.5" r="1.45"/><circle cx="598.2" cy="65.2" r="1.45"/><circle cx="524.1" cy="113.9" r="1.45"/><circle cx="485.8" cy="133.7" r="1.45"/><circle cx="449.2" cy="161.1" r="1.45"/><circle cx="493.9" cy="131.9" r="1.45"/><circle cx="503.9" cy="123.4" r="1.45"/><circle cx="432.4" cy="171.1" r="1.45"/><circle cx="653.8" cy="28.8" r="1.45"/><circle cx="478.9" cy="143.7" r="1.45"/><circle cx="552.9" cy="87.4" r="1.45"/><circle cx="428.6" cy="173.8" r="1.45"/><circle cx="556.0" cy="88.3" r="1.45"/><circle cx="580.7" cy="71.5" r="1.45"/><circle cx="432.2" cy="172.2" r="1.45"/><circle cx="667.1" cy="20.4" r="1.45"/><circle cx="454.1" cy="154.5" r="1.45"/><circle cx="480.2" cy="138.6" r="1.45"/><circle cx="604.4" cy="57.6" r="1.45"/><circle cx="499.6" cy="123.0" r="1.45"/><circle cx="641.2" cy="37.0" r="1.45"/><circle cx="473.8" cy="143.3" r="1.45"/><circle cx="493.6" cy="130.7" r="1.45"/><circle cx="592.8" cy="65.6" r="1.45"/><circle cx="636.8" cy="44.2" r="1.45"/><circle cx="643.0" cy="32.0" r="1.45"/><circle cx="486.8" cy="134.1" r="1.45"/><circle cx="550.5" cy="98.2" r="1.45"/><circle cx="519.0" cy="112.1" r="1.45"/><circle cx="588.6" cy="65.0" r="1.45"/><circle cx="470.9" cy="142.6" r="1.45"/><circle cx="631.3" cy="44.3" r="1.45"/><circle cx="598.3" cy="61.7" r="1.45"/><circle cx="457.2" cy="155.0" r="1.45"/><circle cx="493.6" cy="130.7" r="1.45"/><circle cx="499.4" cy="126.2" r="1.45"/><circle cx="655.2" cy="20.4" r="1.45"/><circle cx="530.9" cy="103.3" r="1.45"/><circle cx="572.9" cy="79.1" r="1.45"/><circle cx="655.3" cy="24.6" r="1.45"/><circle cx="515.3" cy="120.3" r="1.45"/><circle cx="659.4" cy="17.8" r="1.45"/><circle cx="487.9" cy="133.1" r="1.45"/><circle cx="414.6" cy="180.8" r="1.45"/><circle cx="438.2" cy="168.7" r="1.45"/><circle cx="592.8" cy="59.3" r="1.45"/><circle cx="511.3" cy="120.6" r="1.45"/><circle cx="629.9" cy="46.9" r="1.45"/><circle cx="551.0" cy="91.7" r="1.45"/><circle cx="591.1" cy="68.3" r="1.45"/><circle cx="503.7" cy="118.4" r="1.45"/><circle cx="565.3" cy="81.3" r="1.45"/><circle cx="594.3" cy="56.5" r="1.45"/><circle cx="510.1" cy="119.9" r="1.45"/><circle cx="540.0" cy="99.6" r="1.45"/><circle cx="632.5" cy="35.0" r="1.45"/><circle cx="654.9" cy="28.7" r="1.45"/><circle cx="503.2" cy="124.9" r="1.45"/><circle cx="428.9" cy="172.0" r="1.45"/><circle cx="632.1" cy="36.4" r="1.45"/><circle cx="528.6" cy="102.9" r="1.45"/><circle cx="665.4" cy="16.7" r="1.45"/><circle cx="611.3" cy="61.5" r="1.45"/><circle cx="507.8" cy="119.1" r="1.45"/><circle cx="634.2" cy="39.4" r="1.45"/><circle cx="554.9" cy="87.7" r="1.45"/><circle cx="598.4" cy="63.9" r="1.45"/><circle cx="643.3" cy="33.7" r="1.45"/><circle cx="563.4" cy="83.1" r="1.45"/><circle cx="659.7" cy="12.8" r="1.45"/><circle cx="515.7" cy="114.3" r="1.45"/><circle cx="510.6" cy="122.2" r="1.45"/><circle cx="579.2" cy="72.5" r="1.45"/><circle cx="517.5" cy="116.2" r="1.45"/><circle cx="596.8" cy="59.6" r="1.45"/><circle cx="550.6" cy="86.4" r="1.45"/><circle cx="606.0" cy="57.4" r="1.45"/><circle cx="627.8" cy="43.0" r="1.45"/><circle cx="560.1" cy="84.1" r="1.45"/><circle cx="651.1" cy="25.0" r="1.45"/><circle cx="616.1" cy="50.4" r="1.45"/><circle cx="636.0" cy="33.6" r="1.45"/><circle cx="416.4" cy="181.5" r="1.45"/><circle cx="415.3" cy="181.4" r="1.45"/><circle cx="577.7" cy="65.6" r="1.45"/><circle cx="498.6" cy="126.7" r="1.45"/><circle cx="640.2" cy="30.9" r="1.45"/><circle cx="514.0" cy="114.6" r="1.45"/><circle cx="606.3" cy="57.1" r="1.45"/><circle cx="475.8" cy="141.1" r="1.45"/><circle cx="576.4" cy="77.3" r="1.45"/><circle cx="647.4" cy="34.1" r="1.45"/><circle cx="637.3" cy="36.1" r="1.45"/><circle cx="507.4" cy="117.3" r="1.45"/><circle cx="537.6" cy="98.9" r="1.45"/><circle cx="551.7" cy="94.7" r="1.45"/><circle cx="501.6" cy="124.4" r="1.45"/><circle cx="538.2" cy="98.3" r="1.45"/><circle cx="664.2" cy="18.0" r="1.45"/><circle cx="642.0" cy="34.8" r="1.45"/><circle cx="493.8" cy="130.8" r="1.45"/><circle cx="590.6" cy="68.3" r="1.45"/><circle cx="660.0" cy="17.2" r="1.45"/><circle cx="506.2" cy="121.3" r="1.45"/><circle cx="633.8" cy="36.6" r="1.45"/><circle cx="620.4" cy="46.3" r="1.45"/><circle cx="643.8" cy="21.6" r="1.45"/><circle cx="433.4" cy="169.4" r="1.45"/><circle cx="653.3" cy="19.0" r="1.45"/><circle cx="668.5" cy="22.2" r="1.45"/><circle cx="474.6" cy="145.9" r="1.45"/><circle cx="577.3" cy="80.9" r="1.45"/><circle cx="434.9" cy="170.0" r="1.45"/><circle cx="569.2" cy="78.3" r="1.45"/><circle cx="597.1" cy="65.4" r="1.45"/><circle cx="606.8" cy="54.2" r="1.45"/><circle cx="636.0" cy="39.2" r="1.45"/><circle cx="488.2" cy="132.0" r="1.45"/><circle cx="441.7" cy="163.4" r="1.45"/><circle cx="625.5" cy="45.2" r="1.45"/><circle cx="418.0" cy="182.3" r="1.45"/><circle cx="472.4" cy="144.3" r="1.45"/><circle cx="473.4" cy="148.0" r="1.45"/><circle cx="614.5" cy="62.4" r="1.45"/><circle cx="527.2" cy="104.4" r="1.45"/><circle cx="631.0" cy="39.5" r="1.45"/><circle cx="586.4" cy="64.9" r="1.45"/><circle cx="632.3" cy="38.1" r="1.45"/><circle cx="617.4" cy="45.9" r="1.45"/><circle cx="642.1" cy="32.2" r="1.45"/><circle cx="483.7" cy="139.0" r="1.45"/><circle cx="504.5" cy="125.5" r="1.45"/><circle cx="576.1" cy="76.4" r="1.45"/><circle cx="564.1" cy="83.5" r="1.45"/><circle cx="615.2" cy="50.2" r="1.45"/><circle cx="623.3" cy="45.1" r="1.45"/><circle cx="491.3" cy="133.2" r="1.45"/><circle cx="443.0" cy="163.5" r="1.45"/><circle cx="605.7" cy="58.0" r="1.45"/><circle cx="591.5" cy="60.0" r="1.45"/><circle cx="483.9" cy="138.5" r="1.45"/><circle cx="426.2" cy="177.0" r="1.45"/><circle cx="417.4" cy="180.6" r="1.45"/><circle cx="476.4" cy="138.9" r="1.45"/><circle cx="483.0" cy="140.2" r="1.45"/><circle cx="465.7" cy="148.1" r="1.45"/><circle cx="424.6" cy="171.5" r="1.45"/><circle cx="456.0" cy="154.6" r="1.45"/><circle cx="503.1" cy="125.6" r="1.45"/><circle cx="435.5" cy="169.0" r="1.45"/><circle cx="465.5" cy="151.0" r="1.45"/><circle cx="526.2" cy="110.6" r="1.45"/><circle cx="633.7" cy="38.4" r="1.45"/><circle cx="639.8" cy="24.7" r="1.45"/><circle cx="517.5" cy="111.5" r="1.45"/><circle cx="444.3" cy="162.9" r="1.45"/><circle cx="481.9" cy="139.6" r="1.45"/><circle cx="588.2" cy="63.3" r="1.45"/><circle cx="518.1" cy="112.5" r="1.45"/><circle cx="560.8" cy="87.3" r="1.45"/><circle cx="604.5" cy="48.5" r="1.45"/><circle cx="584.0" cy="62.7" r="1.45"/><circle cx="636.6" cy="34.9" r="1.45"/><circle cx="433.8" cy="169.9" r="1.45"/><circle cx="489.1" cy="132.3" r="1.45"/><circle cx="420.2" cy="175.4" r="1.45"/><circle cx="547.9" cy="94.3" r="1.45"/><circle cx="572.5" cy="73.1" r="1.45"/><circle cx="477.9" cy="142.1" r="1.45"/><circle cx="425.9" cy="174.6" r="1.45"/><circle cx="532.9" cy="105.1" r="1.45"/><circle cx="455.3" cy="156.5" r="1.45"/><circle cx="462.3" cy="150.0" r="1.45"/><circle cx="511.3" cy="120.8" r="1.45"/><circle cx="659.1" cy="27.6" r="1.45"/><circle cx="505.7" cy="123.4" r="1.45"/><circle cx="597.3" cy="66.8" r="1.45"/><circle cx="509.0" cy="118.6" r="1.45"/><circle cx="517.6" cy="117.0" r="1.45"/><circle cx="448.0" cy="160.6" r="1.45"/><circle cx="459.7" cy="150.9" r="1.45"/><circle cx="613.4" cy="50.6" r="1.45"/><circle cx="523.9" cy="108.8" r="1.45"/><circle cx="486.1" cy="134.2" r="1.45"/><circle cx="670.1" cy="15.1" r="1.45"/><circle cx="641.6" cy="37.8" r="1.45"/><circle cx="480.6" cy="138.4" r="1.45"/><circle cx="525.2" cy="109.8" r="1.45"/><circle cx="559.9" cy="81.2" r="1.45"/><circle cx="454.9" cy="155.9" r="1.45"/><circle cx="523.3" cy="113.9" r="1.45"/><circle cx="485.8" cy="137.3" r="1.45"/><circle cx="623.8" cy="46.4" r="1.45"/><circle cx="436.1" cy="167.2" r="1.45"/><circle cx="671.3" cy="9.3" r="1.45"/><circle cx="473.1" cy="143.7" r="1.45"/><circle cx="498.1" cy="124.2" r="1.45"/><circle cx="431.1" cy="169.5" r="1.45"/><circle cx="650.6" cy="31.5" r="1.45"/><circle cx="628.4" cy="37.0" r="1.45"/><circle cx="429.0" cy="175.3" r="1.45"/><circle cx="549.8" cy="88.4" r="1.45"/><circle cx="513.7" cy="118.2" r="1.45"/><circle cx="570.2" cy="75.2" r="1.45"/><circle cx="499.4" cy="127.0" r="1.45"/><circle cx="662.0" cy="14.9" r="1.45"/><circle cx="468.5" cy="147.0" r="1.45"/><circle cx="626.4" cy="41.9" r="1.45"/><circle cx="481.5" cy="137.5" r="1.45"/><circle cx="581.6" cy="73.7" r="1.45"/><circle cx="523.5" cy="114.9" r="1.45"/><circle cx="549.2" cy="91.5" r="1.45"/><circle cx="548.2" cy="97.0" r="1.45"/><circle cx="575.4" cy="76.2" r="1.45"/><circle cx="429.1" cy="172.6" r="1.45"/><circle cx="426.9" cy="177.2" r="1.45"/><circle cx="665.9" cy="9.2" r="1.45"/><circle cx="477.7" cy="139.6" r="1.45"/><circle cx="504.8" cy="118.4" r="1.45"/><circle cx="474.2" cy="142.6" r="1.45"/><circle cx="580.6" cy="71.6" r="1.45"/><circle cx="669.3" cy="33.3" r="1.45"/><circle cx="516.9" cy="115.9" r="1.45"/><circle cx="495.6" cy="133.3" r="1.45"/><circle cx="502.9" cy="127.4" r="1.45"/><circle cx="418.4" cy="179.1" r="1.45"/><circle cx="434.9" cy="169.6" r="1.45"/><circle cx="423.9" cy="178.4" r="1.45"/><circle cx="496.2" cy="129.1" r="1.45"/><circle cx="669.4" cy="16.1" r="1.45"/><circle cx="448.3" cy="160.8" r="1.45"/><circle cx="555.2" cy="84.4" r="1.45"/><circle cx="465.6" cy="147.3" r="1.45"/><circle cx="420.9" cy="178.5" r="1.45"/><circle cx="630.8" cy="42.3" r="1.45"/><circle cx="444.7" cy="160.9" r="1.45"/><circle cx="446.7" cy="160.5" r="1.45"/><circle cx="625.6" cy="42.5" r="1.45"/><circle cx="475.2" cy="142.2" r="1.45"/><circle cx="463.5" cy="151.3" r="1.45"/><circle cx="658.6" cy="22.5" r="1.45"/><circle cx="462.3" cy="151.2" r="1.45"/><circle cx="629.4" cy="34.1" r="1.45"/><circle cx="491.7" cy="129.2" r="1.45"/><circle cx="559.6" cy="87.6" r="1.45"/><circle cx="492.8" cy="127.2" r="1.45"/><circle cx="500.2" cy="126.6" r="1.45"/><circle cx="655.7" cy="20.7" r="1.45"/><circle cx="649.3" cy="24.1" r="1.45"/><circle cx="457.1" cy="155.3" r="1.45"/><circle cx="601.2" cy="55.9" r="1.45"/><circle cx="447.9" cy="158.9" r="1.45"/><circle cx="489.8" cy="131.4" r="1.45"/><circle cx="429.9" cy="172.2" r="1.45"/><circle cx="581.2" cy="82.5" r="1.45"/><circle cx="601.8" cy="49.4" r="1.45"/><circle cx="607.0" cy="54.9" r="1.45"/><circle cx="614.3" cy="49.2" r="1.45"/><circle cx="514.8" cy="118.9" r="1.45"/><circle cx="457.8" cy="153.2" r="1.45"/><circle cx="412.4" cy="180.4" r="1.45"/><circle cx="526.7" cy="112.2" r="1.45"/><circle cx="656.0" cy="18.4" r="1.45"/><circle cx="529.0" cy="106.7" r="1.45"/><circle cx="572.8" cy="72.7" r="1.45"/><circle cx="651.7" cy="21.2" r="1.45"/><circle cx="637.5" cy="33.1" r="1.45"/><circle cx="605.3" cy="59.7" r="1.45"/><circle cx="566.6" cy="84.8" r="1.45"/><circle cx="472.1" cy="143.4" r="1.45"/><circle cx="607.6" cy="56.7" r="1.45"/><circle cx="520.8" cy="111.3" r="1.45"/><circle cx="596.5" cy="62.3" r="1.45"/><circle cx="469.9" cy="146.2" r="1.45"/><circle cx="657.9" cy="25.3" r="1.45"/><circle cx="454.3" cy="155.0" r="1.45"/><circle cx="618.6" cy="46.9" r="1.45"/><circle cx="644.8" cy="31.8" r="1.45"/><circle cx="451.2" cy="158.2" r="1.45"/><circle cx="638.1" cy="31.2" r="1.45"/><circle cx="580.3" cy="79.2" r="1.45"/><circle cx="569.6" cy="78.1" r="1.45"/><circle cx="477.9" cy="142.3" r="1.45"/><circle cx="497.4" cy="128.3" r="1.45"/><circle cx="472.9" cy="146.3" r="1.45"/><circle cx="527.0" cy="101.9" r="1.45"/><circle cx="581.2" cy="79.8" r="1.45"/><circle cx="602.4" cy="57.0" r="1.45"/><circle cx="596.3" cy="56.8" r="1.45"/><circle cx="502.2" cy="124.9" r="1.45"/><circle cx="499.4" cy="131.9" r="1.45"/><circle cx="611.5" cy="54.3" r="1.45"/><circle cx="666.6" cy="10.9" r="1.45"/><circle cx="469.4" cy="145.4" r="1.45"/><circle cx="519.5" cy="116.9" r="1.45"/><circle cx="483.7" cy="133.9" r="1.45"/><circle cx="666.8" cy="15.8" r="1.45"/><circle cx="415.6" cy="181.1" r="1.45"/><circle cx="645.3" cy="40.6" r="1.45"/><circle cx="612.5" cy="50.1" r="1.45"/><circle cx="498.3" cy="130.4" r="1.45"/><circle cx="589.7" cy="63.6" r="1.45"/><circle cx="508.2" cy="118.6" r="1.45"/><circle cx="578.3" cy="77.7" r="1.45"/><circle cx="522.8" cy="112.7" r="1.45"/><circle cx="651.2" cy="18.4" r="1.45"/><circle cx="531.3" cy="107.2" r="1.45"/><circle cx="624.3" cy="46.8" r="1.45"/><circle cx="562.4" cy="82.4" r="1.45"/><circle cx="509.0" cy="120.7" r="1.45"/><circle cx="664.8" cy="19.3" r="1.45"/><circle cx="462.5" cy="149.9" r="1.45"/><circle cx="649.4" cy="25.0" r="1.45"/><circle cx="668.6" cy="12.4" r="1.45"/><circle cx="633.9" cy="36.4" r="1.45"/><circle cx="571.3" cy="73.7" r="1.45"/><circle cx="574.5" cy="76.3" r="1.45"/><circle cx="654.7" cy="17.3" r="1.45"/><circle cx="524.9" cy="109.8" r="1.45"/><circle cx="627.4" cy="41.4" r="1.45"/><circle cx="614.4" cy="45.5" r="1.45"/><circle cx="636.4" cy="40.0" r="1.45"/><circle cx="526.9" cy="113.9" r="1.45"/><circle cx="582.4" cy="76.3" r="1.45"/><circle cx="435.5" cy="166.4" r="1.45"/><circle cx="430.2" cy="173.7" r="1.45"/><circle cx="439.5" cy="166.1" r="1.45"/><circle cx="604.1" cy="56.6" r="1.45"/><circle cx="504.4" cy="121.7" r="1.45"/><circle cx="649.5" cy="27.7" r="1.45"/><circle cx="432.1" cy="172.7" r="1.45"/><circle cx="456.5" cy="155.5" r="1.45"/><circle cx="630.6" cy="37.9" r="1.45"/><circle cx="521.0" cy="110.3" r="1.45"/><circle cx="469.1" cy="145.7" r="1.45"/><circle cx="616.1" cy="51.7" r="1.45"/><circle cx="472.8" cy="147.6" r="1.45"/><circle cx="666.5" cy="11.8" r="1.45"/><circle cx="483.4" cy="137.1" r="1.45"/><circle cx="636.4" cy="34.2" r="1.45"/><circle cx="537.1" cy="99.2" r="1.45"/><circle cx="656.5" cy="25.1" r="1.45"/><circle cx="489.0" cy="134.6" r="1.45"/><circle cx="653.9" cy="18.2" r="1.45"/><circle cx="490.7" cy="130.0" r="1.45"/><circle cx="528.8" cy="110.5" r="1.45"/><circle cx="577.2" cy="75.9" r="1.45"/><circle cx="556.7" cy="90.1" r="1.45"/><circle cx="587.2" cy="66.0" r="1.45"/><circle cx="593.8" cy="62.0" r="1.45"/><circle cx="481.5" cy="139.3" r="1.45"/><circle cx="413.6" cy="182.2" r="1.45"/><circle cx="601.0" cy="54.1" r="1.45"/><circle cx="568.7" cy="80.3" r="1.45"/><circle cx="559.0" cy="89.9" r="1.45"/><circle cx="541.3" cy="95.4" r="1.45"/><circle cx="654.7" cy="29.3" r="1.45"/><circle cx="489.2" cy="134.8" r="1.45"/><circle cx="650.4" cy="23.0" r="1.45"/><circle cx="455.3" cy="155.4" r="1.45"/><circle cx="593.4" cy="63.7" r="1.45"/><circle cx="658.2" cy="25.2" r="1.45"/><circle cx="451.7" cy="158.8" r="1.45"/><circle cx="613.2" cy="45.1" r="1.45"/><circle cx="482.9" cy="134.6" r="1.45"/><circle cx="426.8" cy="175.6" r="1.45"/><circle cx="524.4" cy="110.3" r="1.45"/><circle cx="594.6" cy="64.7" r="1.45"/><circle cx="485.6" cy="136.3" r="1.45"/><circle cx="660.5" cy="28.0" r="1.45"/><circle cx="411.9" cy="182.4" r="1.45"/><circle cx="481.5" cy="140.6" r="1.45"/><circle cx="500.9" cy="123.5" r="1.45"/><circle cx="508.5" cy="122.3" r="1.45"/><circle cx="489.9" cy="135.8" r="1.45"/><circle cx="416.9" cy="178.8" r="1.45"/><circle cx="466.4" cy="148.9" r="1.45"/><circle cx="479.9" cy="138.9" r="1.45"/><circle cx="587.6" cy="66.5" r="1.45"/><circle cx="510.2" cy="119.4" r="1.45"/><circle cx="600.7" cy="54.6" r="1.45"/><circle cx="527.3" cy="105.2" r="1.45"/><circle cx="500.6" cy="127.3" r="1.45"/><circle cx="453.0" cy="158.3" r="1.45"/><circle cx="471.2" cy="144.0" r="1.45"/><circle cx="647.7" cy="22.0" r="1.45"/><circle cx="530.6" cy="112.6" r="1.45"/><circle cx="493.5" cy="132.9" r="1.45"/><circle cx="468.5" cy="147.4" r="1.45"/><circle cx="641.1" cy="28.2" r="1.45"/><circle cx="595.9" cy="59.8" r="1.45"/><circle cx="593.4" cy="64.8" r="1.45"/><circle cx="622.3" cy="40.7" r="1.45"/><circle cx="474.6" cy="146.0" r="1.45"/><circle cx="603.0" cy="58.1" r="1.45"/><circle cx="430.0" cy="172.6" r="1.45"/><circle cx="585.6" cy="65.0" r="1.45"/><circle cx="495.8" cy="126.8" r="1.45"/><circle cx="584.8" cy="66.5" r="1.45"/><circle cx="470.7" cy="145.9" r="1.45"/><circle cx="504.0" cy="122.8" r="1.45"/><circle cx="587.0" cy="67.0" r="1.45"/><circle cx="657.6" cy="24.0" r="1.45"/><circle cx="500.6" cy="126.2" r="1.45"/><circle cx="455.6" cy="157.6" r="1.45"/><circle cx="444.0" cy="162.5" r="1.45"/><circle cx="587.3" cy="63.9" r="1.45"/><circle cx="645.8" cy="30.0" r="1.45"/><circle cx="415.7" cy="183.4" r="1.45"/><circle cx="501.7" cy="123.6" r="1.45"/><circle cx="455.6" cy="155.3" r="1.45"/><circle cx="661.6" cy="18.3" r="1.45"/><circle cx="446.0" cy="162.1" r="1.45"/><circle cx="429.3" cy="172.9" r="1.45"/><circle cx="612.7" cy="47.7" r="1.45"/><circle cx="673.2" cy="11.5" r="1.45"/><circle cx="614.2" cy="54.5" r="1.45"/><circle cx="441.3" cy="166.2" r="1.45"/><circle cx="518.2" cy="116.5" r="1.45"/><circle cx="547.7" cy="97.2" r="1.45"/><circle cx="646.9" cy="27.7" r="1.45"/><circle cx="608.8" cy="52.2" r="1.45"/><circle cx="427.0" cy="175.3" r="1.45"/><circle cx="530.1" cy="102.7" r="1.45"/><circle cx="615.5" cy="49.2" r="1.45"/><circle cx="553.7" cy="84.2" r="1.45"/><circle cx="586.1" cy="67.2" r="1.45"/><circle cx="665.0" cy="14.5" r="1.45"/><circle cx="667.9" cy="10.3" r="1.45"/><circle cx="630.7" cy="42.3" r="1.45"/><circle cx="561.3" cy="82.8" r="1.45"/><circle cx="491.9" cy="130.6" r="1.45"/><circle cx="453.2" cy="156.3" r="1.45"/><circle cx="455.2" cy="154.2" r="1.45"/><circle cx="579.2" cy="78.6" r="1.45"/><circle cx="614.0" cy="48.3" r="1.45"/><circle cx="636.4" cy="36.9" r="1.45"/><circle cx="651.0" cy="20.6" r="1.45"/><circle cx="486.8" cy="133.8" r="1.45"/><circle cx="499.0" cy="126.0" r="1.45"/><circle cx="462.8" cy="150.0" r="1.45"/><circle cx="553.9" cy="88.3" r="1.45"/><circle cx="659.5" cy="22.0" r="1.45"/><circle cx="609.9" cy="59.8" r="1.45"/><circle cx="525.8" cy="108.6" r="1.45"/><circle cx="453.0" cy="156.7" r="1.45"/><circle cx="632.3" cy="36.9" r="1.45"/><circle cx="646.3" cy="41.5" r="1.45"/><circle cx="612.7" cy="58.3" r="1.45"/><circle cx="487.9" cy="135.3" r="1.45"/><circle cx="513.6" cy="118.9" r="1.45"/><circle cx="564.3" cy="80.8" r="1.45"/><circle cx="652.0" cy="25.4" r="1.45"/><circle cx="475.0" cy="143.0" r="1.45"/><circle cx="521.3" cy="112.3" r="1.45"/><circle cx="427.1" cy="172.7" r="1.45"/><circle cx="412.1" cy="182.8" r="1.45"/><circle cx="475.1" cy="143.5" r="1.45"/><circle cx="623.4" cy="45.8" r="1.45"/><circle cx="588.4" cy="59.0" r="1.45"/><circle cx="536.3" cy="102.3" r="1.45"/><circle cx="518.7" cy="117.2" r="1.45"/><circle cx="480.8" cy="137.5" r="1.45"/><circle cx="612.2" cy="52.7" r="1.45"/><circle cx="539.2" cy="95.6" r="1.45"/><circle cx="429.7" cy="173.4" r="1.45"/><circle cx="575.7" cy="71.6" r="1.45"/><circle cx="671.7" cy="9.2" r="1.45"/><circle cx="430.4" cy="171.3" r="1.45"/><circle cx="672.7" cy="24.1" r="1.45"/><circle cx="437.4" cy="166.2" r="1.45"/><circle cx="492.0" cy="128.6" r="1.45"/><circle cx="667.3" cy="18.5" r="1.45"/><circle cx="666.2" cy="18.2" r="1.45"/><circle cx="459.7" cy="155.3" r="1.45"/><circle cx="600.2" cy="54.1" r="1.45"/><circle cx="571.9" cy="72.5" r="1.45"/><circle cx="515.7" cy="114.9" r="1.45"/><circle cx="616.8" cy="50.3" r="1.45"/><circle cx="577.7" cy="75.7" r="1.45"/><circle cx="470.3" cy="147.7" r="1.45"/><circle cx="539.8" cy="95.1" r="1.45"/><circle cx="597.3" cy="57.9" r="1.45"/><circle cx="574.3" cy="76.1" r="1.45"/><circle cx="553.7" cy="93.2" r="1.45"/><circle cx="604.7" cy="58.4" r="1.45"/><circle cx="446.6" cy="160.4" r="1.45"/><circle cx="422.6" cy="175.5" r="1.45"/><circle cx="419.9" cy="179.9" r="1.45"/><circle cx="574.0" cy="80.2" r="1.45"/><circle cx="525.2" cy="117.1" r="1.45"/><circle cx="630.4" cy="39.1" r="1.45"/><circle cx="666.0" cy="24.8" r="1.45"/><circle cx="440.7" cy="163.2" r="1.45"/><circle cx="510.6" cy="117.6" r="1.45"/><circle cx="521.3" cy="110.1" r="1.45"/><circle cx="554.6" cy="88.2" r="1.45"/><circle cx="649.8" cy="23.4" r="1.45"/><circle cx="568.6" cy="78.5" r="1.45"/><circle cx="491.2" cy="131.8" r="1.45"/><circle cx="585.1" cy="67.6" r="1.45"/><circle cx="497.6" cy="129.3" r="1.45"/><circle cx="556.9" cy="88.0" r="1.45"/><circle cx="437.2" cy="167.3" r="1.45"/><circle cx="559.2" cy="91.7" r="1.45"/><circle cx="536.8" cy="102.6" r="1.45"/><circle cx="580.5" cy="73.0" r="1.45"/><circle cx="559.9" cy="86.2" r="1.45"/><circle cx="561.5" cy="85.4" r="1.45"/><circle cx="604.6" cy="58.9" r="1.45"/><circle cx="446.3" cy="160.0" r="1.45"/><circle cx="608.4" cy="59.0" r="1.45"/><circle cx="574.9" cy="82.0" r="1.45"/><circle cx="591.9" cy="69.4" r="1.45"/><circle cx="516.1" cy="114.1" r="1.45"/><circle cx="433.6" cy="167.3" r="1.45"/><circle cx="653.1" cy="23.4" r="1.45"/><circle cx="628.1" cy="42.1" r="1.45"/><circle cx="667.2" cy="20.3" r="1.45"/><circle cx="532.0" cy="104.3" r="1.45"/><circle cx="643.3" cy="30.2" r="1.45"/><circle cx="639.8" cy="40.9" r="1.45"/><circle cx="555.5" cy="87.0" r="1.45"/><circle cx="647.4" cy="34.0" r="1.45"/><circle cx="624.9" cy="47.5" r="1.45"/><circle cx="438.2" cy="164.6" r="1.45"/><circle cx="446.4" cy="161.6" r="1.45"/><circle cx="518.1" cy="112.6" r="1.45"/><circle cx="551.0" cy="89.1" r="1.45"/><circle cx="582.4" cy="64.2" r="1.45"/><circle cx="559.3" cy="81.3" r="1.45"/><circle cx="641.0" cy="35.0" r="1.45"/><circle cx="621.2" cy="44.0" r="1.45"/><circle cx="438.2" cy="167.0" r="1.45"/><circle cx="500.2" cy="123.4" r="1.45"/><circle cx="644.1" cy="29.6" r="1.45"/><circle cx="609.3" cy="52.3" r="1.45"/><circle cx="415.4" cy="179.6" r="1.45"/><circle cx="575.6" cy="69.6" r="1.45"/><circle cx="444.4" cy="163.2" r="1.45"/><circle cx="543.3" cy="97.8" r="1.45"/><circle cx="672.0" cy="9.2" r="1.45"/><circle cx="431.0" cy="171.2" r="1.45"/><circle cx="627.2" cy="44.9" r="1.45"/><circle cx="538.1" cy="106.3" r="1.45"/><circle cx="667.9" cy="11.8" r="1.45"/><circle cx="636.7" cy="38.7" r="1.45"/><circle cx="428.3" cy="176.1" r="1.45"/><circle cx="580.0" cy="73.1" r="1.45"/><circle cx="636.9" cy="42.5" r="1.45"/><circle cx="484.5" cy="130.9" r="1.45"/><circle cx="596.1" cy="67.9" r="1.45"/><circle cx="478.0" cy="140.7" r="1.45"/><circle cx="465.1" cy="145.7" r="1.45"/><circle cx="498.4" cy="129.0" r="1.45"/><circle cx="488.1" cy="136.2" r="1.45"/><circle cx="663.6" cy="24.4" r="1.45"/><circle cx="472.9" cy="146.2" r="1.45"/><circle cx="522.6" cy="111.0" r="1.45"/><circle cx="538.7" cy="98.1" r="1.45"/><circle cx="592.5" cy="62.6" r="1.45"/><circle cx="665.6" cy="17.3" r="1.45"/><circle cx="572.3" cy="79.4" r="1.45"/><circle cx="637.0" cy="33.5" r="1.45"/><circle cx="445.8" cy="161.7" r="1.45"/><circle cx="584.7" cy="73.0" r="1.45"/><circle cx="456.5" cy="155.1" r="1.45"/><circle cx="639.8" cy="44.5" r="1.45"/><circle cx="567.5" cy="88.8" r="1.45"/><circle cx="447.0" cy="159.0" r="1.45"/><circle cx="634.2" cy="34.9" r="1.45"/><circle cx="549.0" cy="89.3" r="1.45"/><circle cx="538.6" cy="96.9" r="1.45"/><circle cx="432.6" cy="171.1" r="1.45"/><circle cx="649.1" cy="23.3" r="1.45"/><circle cx="546.0" cy="92.2" r="1.45"/><circle cx="638.0" cy="33.8" r="1.45"/><circle cx="431.0" cy="172.5" r="1.45"/><circle cx="589.5" cy="65.1" r="1.45"/><circle cx="509.7" cy="118.7" r="1.45"/><circle cx="552.0" cy="94.5" r="1.45"/><circle cx="575.0" cy="77.9" r="1.45"/><circle cx="627.8" cy="43.6" r="1.45"/><circle cx="653.4" cy="29.7" r="1.45"/><circle cx="455.0" cy="153.9" r="1.45"/><circle cx="636.7" cy="36.9" r="1.45"/><circle cx="441.9" cy="163.2" r="1.45"/><circle cx="414.1" cy="183.8" r="1.45"/><circle cx="490.3" cy="134.4" r="1.45"/><circle cx="485.9" cy="133.2" r="1.45"/><circle cx="613.5" cy="56.6" r="1.45"/><circle cx="558.2" cy="83.4" r="1.45"/><circle cx="513.1" cy="120.5" r="1.45"/><circle cx="618.6" cy="48.4" r="1.45"/><circle cx="656.7" cy="19.0" r="1.45"/><circle cx="579.4" cy="69.0" r="1.45"/><circle cx="582.5" cy="70.0" r="1.45"/><circle cx="637.2" cy="35.4" r="1.45"/><circle cx="488.1" cy="132.5" r="1.45"/><circle cx="672.4" cy="15.8" r="1.45"/><circle cx="457.5" cy="151.7" r="1.45"/><circle cx="423.2" cy="176.5" r="1.45"/><circle cx="627.1" cy="42.0" r="1.45"/><circle cx="457.0" cy="151.2" r="1.45"/><circle cx="499.3" cy="127.3" r="1.45"/><circle cx="545.8" cy="91.6" r="1.45"/><circle cx="440.4" cy="161.3" r="1.45"/><circle cx="522.4" cy="109.5" r="1.45"/><circle cx="504.1" cy="122.8" r="1.45"/><circle cx="433.8" cy="170.9" r="1.45"/><circle cx="569.4" cy="78.1" r="1.45"/><circle cx="529.6" cy="110.8" r="1.45"/><circle cx="453.2" cy="159.1" r="1.45"/><circle cx="617.9" cy="52.8" r="1.45"/><circle cx="518.8" cy="117.2" r="1.45"/><circle cx="418.1" cy="180.4" r="1.45"/><circle cx="641.9" cy="30.0" r="1.45"/><circle cx="518.6" cy="115.5" r="1.45"/><circle cx="435.4" cy="169.9" r="1.45"/><circle cx="487.0" cy="135.2" r="1.45"/><circle cx="478.2" cy="140.1" r="1.45"/><circle cx="422.8" cy="174.6" r="1.45"/><circle cx="498.1" cy="129.0" r="1.45"/><circle cx="455.5" cy="155.8" r="1.45"/><circle cx="467.3" cy="145.3" r="1.45"/><circle cx="588.1" cy="67.8" r="1.45"/><circle cx="452.8" cy="158.2" r="1.45"/><circle cx="416.9" cy="180.5" r="1.45"/><circle cx="458.1" cy="154.9" r="1.45"/><circle cx="488.8" cy="135.2" r="1.45"/><circle cx="454.6" cy="153.5" r="1.45"/><circle cx="567.9" cy="79.8" r="1.45"/><circle cx="641.9" cy="34.8" r="1.45"/><circle cx="629.1" cy="44.9" r="1.45"/><circle cx="534.7" cy="107.3" r="1.45"/><circle cx="617.3" cy="39.7" r="1.45"/><circle cx="618.6" cy="47.2" r="1.45"/><circle cx="577.7" cy="77.0" r="1.45"/><circle cx="621.8" cy="51.0" r="1.45"/><circle cx="510.6" cy="123.5" r="1.45"/><circle cx="607.4" cy="50.7" r="1.45"/><circle cx="548.4" cy="92.7" r="1.45"/><circle cx="605.0" cy="51.8" r="1.45"/><circle cx="605.1" cy="59.6" r="1.45"/><circle cx="428.6" cy="171.1" r="1.45"/><circle cx="629.9" cy="45.7" r="1.45"/><circle cx="420.8" cy="179.4" r="1.45"/><circle cx="523.4" cy="112.0" r="1.45"/><circle cx="566.3" cy="74.3" r="1.45"/><circle cx="627.2" cy="38.8" r="1.45"/><circle cx="426.4" cy="175.5" r="1.45"/><circle cx="587.4" cy="62.3" r="1.45"/><circle cx="501.8" cy="124.4" r="1.45"/><circle cx="422.0" cy="177.1" r="1.45"/><circle cx="498.4" cy="129.2" r="1.45"/><circle cx="579.3" cy="74.3" r="1.45"/><circle cx="433.0" cy="170.4" r="1.45"/><circle cx="633.7" cy="35.7" r="1.45"/><circle cx="422.6" cy="176.9" r="1.45"/><circle cx="474.0" cy="143.0" r="1.45"/><circle cx="497.7" cy="129.3" r="1.45"/><circle cx="428.1" cy="173.0" r="1.45"/><circle cx="654.0" cy="29.7" r="1.45"/><circle cx="664.7" cy="10.0" r="1.45"/><circle cx="648.6" cy="33.9" r="1.45"/><circle cx="463.4" cy="149.8" r="1.45"/><circle cx="629.8" cy="45.5" r="1.45"/><circle cx="499.9" cy="126.4" r="1.45"/><circle cx="487.0" cy="136.6" r="1.45"/><circle cx="592.2" cy="70.6" r="1.45"/><circle cx="433.7" cy="168.8" r="1.45"/><circle cx="412.7" cy="183.5" r="1.45"/><circle cx="655.4" cy="23.1" r="1.45"/><circle cx="504.1" cy="123.9" r="1.45"/><circle cx="619.7" cy="39.4" r="1.45"/><circle cx="522.9" cy="110.4" r="1.45"/><circle cx="435.6" cy="167.9" r="1.45"/><circle cx="535.7" cy="100.0" r="1.45"/><circle cx="456.1" cy="154.5" r="1.45"/><circle cx="432.5" cy="168.1" r="1.45"/><circle cx="416.3" cy="182.9" r="1.45"/><circle cx="516.4" cy="116.4" r="1.45"/><circle cx="479.1" cy="143.8" r="1.45"/><circle cx="499.4" cy="124.4" r="1.45"/><circle cx="663.5" cy="13.3" r="1.45"/><circle cx="628.7" cy="42.3" r="1.45"/><circle cx="596.4" cy="55.0" r="1.45"/><circle cx="475.3" cy="142.9" r="1.45"/><circle cx="607.9" cy="51.3" r="1.45"/><circle cx="594.3" cy="61.9" r="1.45"/><circle cx="549.7" cy="93.8" r="1.45"/><circle cx="473.9" cy="143.4" r="1.45"/><circle cx="465.8" cy="151.9" r="1.45"/><circle cx="521.3" cy="113.7" r="1.45"/><circle cx="483.8" cy="134.1" r="1.45"/><circle cx="643.3" cy="36.2" r="1.45"/><circle cx="533.4" cy="99.9" r="1.45"/><circle cx="589.0" cy="67.1" r="1.45"/><circle cx="646.5" cy="23.7" r="1.45"/><circle cx="574.1" cy="73.7" r="1.45"/><circle cx="453.5" cy="158.7" r="1.45"/><circle cx="495.0" cy="128.1" r="1.45"/><circle cx="653.2" cy="22.3" r="1.45"/><circle cx="423.4" cy="175.6" r="1.45"/><circle cx="469.4" cy="145.6" r="1.45"/><circle cx="573.3" cy="82.5" r="1.45"/><circle cx="635.3" cy="31.3" r="1.45"/><circle cx="626.4" cy="36.8" r="1.45"/><circle cx="602.9" cy="60.0" r="1.45"/><circle cx="595.4" cy="56.0" r="1.45"/><circle cx="509.3" cy="119.0" r="1.45"/><circle cx="427.4" cy="175.3" r="1.45"/><circle cx="578.0" cy="74.1" r="1.45"/><circle cx="430.3" cy="171.1" r="1.45"/><circle cx="620.6" cy="42.9" r="1.45"/><circle cx="445.7" cy="160.2" r="1.45"/><circle cx="417.7" cy="179.3" r="1.45"/><circle cx="673.3" cy="13.2" r="1.45"/><circle cx="455.2" cy="157.5" r="1.45"/><circle cx="563.9" cy="86.9" r="1.45"/><circle cx="427.4" cy="172.9" r="1.45"/><circle cx="668.5" cy="12.1" r="1.45"/><circle cx="415.7" cy="182.4" r="1.45"/><circle cx="591.7" cy="57.7" r="1.45"/><circle cx="632.5" cy="36.4" r="1.45"/><circle cx="489.0" cy="132.7" r="1.45"/><circle cx="413.4" cy="181.5" r="1.45"/><circle cx="421.0" cy="176.6" r="1.45"/><circle cx="427.3" cy="174.3" r="1.45"/><circle cx="609.1" cy="46.3" r="1.45"/><circle cx="549.9" cy="89.9" r="1.45"/><circle cx="646.4" cy="26.6" r="1.45"/><circle cx="577.1" cy="74.9" r="1.45"/><circle cx="567.1" cy="76.5" r="1.45"/><circle cx="464.2" cy="151.5" r="1.45"/><circle cx="469.9" cy="145.3" r="1.45"/><circle cx="667.9" cy="14.7" r="1.45"/><circle cx="661.0" cy="18.5" r="1.45"/><circle cx="526.1" cy="106.8" r="1.45"/><circle cx="619.8" cy="42.2" r="1.45"/><circle cx="600.1" cy="64.0" r="1.45"/><circle cx="484.1" cy="137.0" r="1.45"/><circle cx="463.7" cy="149.7" r="1.45"/><circle cx="607.6" cy="58.7" r="1.45"/><circle cx="663.7" cy="15.1" r="1.45"/><circle cx="669.2" cy="18.0" r="1.45"/><circle cx="505.0" cy="122.8" r="1.45"/><circle cx="428.5" cy="171.7" r="1.45"/><circle cx="495.0" cy="131.1" r="1.45"/><circle cx="429.6" cy="170.1" r="1.45"/><circle cx="670.3" cy="17.4" r="1.45"/><circle cx="491.8" cy="129.4" r="1.45"/><circle cx="633.5" cy="39.6" r="1.45"/><circle cx="475.9" cy="144.7" r="1.45"/><circle cx="663.0" cy="21.6" r="1.45"/><circle cx="539.6" cy="97.8" r="1.45"/><circle cx="629.9" cy="39.9" r="1.45"/><circle cx="568.4" cy="79.1" r="1.45"/><circle cx="612.2" cy="46.3" r="1.45"/><circle cx="430.4" cy="170.1" r="1.45"/><circle cx="434.3" cy="169.2" r="1.45"/><circle cx="505.0" cy="124.0" r="1.45"/><circle cx="641.4" cy="24.4" r="1.45"/><circle cx="649.7" cy="27.0" r="1.45"/><circle cx="597.6" cy="62.9" r="1.45"/><circle cx="568.3" cy="80.8" r="1.45"/><circle cx="424.2" cy="174.4" r="1.45"/><circle cx="654.6" cy="29.1" r="1.45"/><circle cx="584.3" cy="65.1" r="1.45"/><circle cx="572.8" cy="79.8" r="1.45"/><circle cx="632.1" cy="45.9" r="1.45"/><circle cx="473.3" cy="139.7" r="1.45"/><circle cx="573.8" cy="77.6" r="1.45"/><circle cx="590.4" cy="66.9" r="1.45"/><circle cx="609.6" cy="54.0" r="1.45"/><circle cx="436.1" cy="166.8" r="1.45"/><circle cx="602.3" cy="56.4" r="1.45"/><circle cx="648.0" cy="21.9" r="1.45"/><circle cx="576.1" cy="75.7" r="1.45"/><circle cx="455.8" cy="155.8" r="1.45"/><circle cx="652.2" cy="22.6" r="1.45"/><circle cx="438.1" cy="165.2" r="1.45"/><circle cx="471.7" cy="143.7" r="1.45"/><circle cx="635.4" cy="36.3" r="1.45"/><circle cx="565.7" cy="82.4" r="1.45"/><circle cx="499.3" cy="126.2" r="1.45"/><circle cx="622.0" cy="45.3" r="1.45"/><circle cx="581.0" cy="66.9" r="1.45"/><circle cx="442.3" cy="159.7" r="1.45"/><circle cx="472.2" cy="145.5" r="1.45"/><circle cx="623.8" cy="50.3" r="1.45"/><circle cx="624.0" cy="37.3" r="1.45"/><circle cx="430.8" cy="170.5" r="1.45"/><circle cx="548.0" cy="94.9" r="1.45"/><circle cx="598.3" cy="64.2" r="1.45"/><circle cx="496.6" cy="129.7" r="1.45"/><circle cx="427.8" cy="175.2" r="1.45"/><circle cx="520.7" cy="112.1" r="1.45"/><circle cx="656.4" cy="24.9" r="1.45"/><circle cx="602.8" cy="59.1" r="1.45"/><circle cx="467.2" cy="146.7" r="1.45"/><circle cx="632.8" cy="43.6" r="1.45"/><circle cx="586.3" cy="70.7" r="1.45"/><circle cx="487.4" cy="136.4" r="1.45"/><circle cx="481.7" cy="137.3" r="1.45"/><circle cx="457.7" cy="155.4" r="1.45"/><circle cx="517.4" cy="111.5" r="1.45"/><circle cx="505.7" cy="123.1" r="1.45"/><circle cx="486.1" cy="129.6" r="1.45"/><circle cx="640.4" cy="28.5" r="1.45"/><circle cx="610.8" cy="55.4" r="1.45"/><circle cx="540.5" cy="97.6" r="1.45"/><circle cx="663.7" cy="19.1" r="1.45"/><circle cx="587.9" cy="60.9" r="1.45"/><circle cx="660.9" cy="27.4" r="1.45"/><circle cx="627.6" cy="44.1" r="1.45"/><circle cx="577.6" cy="74.0" r="1.45"/><circle cx="593.2" cy="65.4" r="1.45"/><circle cx="614.5" cy="51.3" r="1.45"/><circle cx="609.8" cy="58.9" r="1.45"/><circle cx="640.4" cy="34.2" r="1.45"/><circle cx="500.4" cy="122.1" r="1.45"/><circle cx="506.6" cy="120.9" r="1.45"/><circle cx="476.0" cy="144.3" r="1.45"/><circle cx="653.0" cy="27.8" r="1.45"/><circle cx="648.3" cy="26.2" r="1.45"/><circle cx="527.2" cy="109.6" r="1.45"/><circle cx="516.5" cy="115.3" r="1.45"/><circle cx="446.0" cy="162.3" r="1.45"/><circle cx="667.0" cy="9.2" r="1.45"/><circle cx="587.5" cy="64.1" r="1.45"/><circle cx="663.9" cy="21.3" r="1.45"/><circle cx="577.1" cy="73.7" r="1.45"/><circle cx="546.1" cy="96.4" r="1.45"/><circle cx="607.6" cy="62.6" r="1.45"/><circle cx="643.9" cy="29.5" r="1.45"/><circle cx="632.8" cy="39.1" r="1.45"/><circle cx="502.0" cy="123.2" r="1.45"/><circle cx="544.2" cy="94.5" r="1.45"/><circle cx="659.0" cy="21.0" r="1.45"/><circle cx="544.0" cy="92.0" r="1.45"/><circle cx="621.6" cy="35.7" r="1.45"/><circle cx="548.9" cy="97.7" r="1.45"/><circle cx="629.6" cy="39.6" r="1.45"/><circle cx="429.2" cy="174.0" r="1.45"/><circle cx="411.6" cy="184.2" r="1.45"/><circle cx="435.1" cy="168.8" r="1.45"/><circle cx="525.6" cy="110.8" r="1.45"/><circle cx="507.7" cy="122.7" r="1.45"/><circle cx="662.7" cy="13.3" r="1.45"/><circle cx="672.7" cy="18.3" r="1.45"/><circle cx="446.6" cy="159.5" r="1.45"/><circle cx="630.1" cy="40.7" r="1.45"/><circle cx="544.8" cy="104.1" r="1.45"/><circle cx="631.9" cy="39.0" r="1.45"/><circle cx="508.1" cy="124.8" r="1.45"/><circle cx="613.9" cy="48.7" r="1.45"/><circle cx="412.5" cy="184.3" r="1.45"/><circle cx="534.0" cy="103.5" r="1.45"/><circle cx="498.5" cy="127.9" r="1.45"/><circle cx="477.4" cy="139.2" r="1.45"/><circle cx="490.1" cy="130.5" r="1.45"/><circle cx="521.2" cy="112.8" r="1.45"/><circle cx="541.3" cy="93.6" r="1.45"/><circle cx="548.9" cy="90.6" r="1.45"/><circle cx="603.9" cy="59.3" r="1.45"/><circle cx="628.1" cy="38.3" r="1.45"/><circle cx="663.4" cy="14.4" r="1.45"/><circle cx="586.7" cy="63.8" r="1.45"/><circle cx="478.6" cy="140.4" r="1.45"/><circle cx="563.1" cy="82.6" r="1.45"/><circle cx="526.3" cy="108.9" r="1.45"/><circle cx="472.9" cy="143.5" r="1.45"/><circle cx="498.5" cy="131.3" r="1.45"/><circle cx="471.4" cy="144.0" r="1.45"/><circle cx="552.6" cy="84.5" r="1.45"/><circle cx="428.6" cy="173.0" r="1.45"/><circle cx="553.7" cy="90.1" r="1.45"/><circle cx="519.3" cy="113.5" r="1.45"/><circle cx="413.0" cy="181.1" r="1.45"/><circle cx="483.6" cy="139.2" r="1.45"/><circle cx="665.9" cy="16.8" r="1.45"/><circle cx="563.3" cy="83.6" r="1.45"/><circle cx="428.3" cy="170.8" r="1.45"/><circle cx="562.8" cy="85.7" r="1.45"/><circle cx="595.9" cy="61.6" r="1.45"/><circle cx="446.6" cy="163.0" r="1.45"/><circle cx="516.9" cy="113.6" r="1.45"/><circle cx="467.4" cy="145.2" r="1.45"/><circle cx="553.6" cy="90.7" r="1.45"/><circle cx="626.9" cy="37.7" r="1.45"/><circle cx="474.1" cy="143.8" r="1.45"/><circle cx="447.9" cy="158.4" r="1.45"/><circle cx="447.8" cy="160.0" r="1.45"/><circle cx="572.4" cy="76.8" r="1.45"/><circle cx="429.5" cy="172.2" r="1.45"/><circle cx="549.3" cy="91.4" r="1.45"/><circle cx="623.7" cy="40.3" r="1.45"/><circle cx="612.3" cy="51.0" r="1.45"/><circle cx="587.0" cy="65.6" r="1.45"/><circle cx="414.2" cy="182.6" r="1.45"/><circle cx="524.5" cy="108.9" r="1.45"/><circle cx="475.1" cy="138.1" r="1.45"/><circle cx="546.4" cy="94.8" r="1.45"/><circle cx="451.1" cy="160.2" r="1.45"/><circle cx="446.8" cy="161.3" r="1.45"/><circle cx="660.7" cy="23.0" r="1.45"/><circle cx="642.2" cy="34.1" r="1.45"/><circle cx="436.9" cy="166.7" r="1.45"/><circle cx="628.3" cy="34.9" r="1.45"/><circle cx="428.6" cy="174.0" r="1.45"/><circle cx="500.2" cy="128.3" r="1.45"/><circle cx="671.9" cy="15.8" r="1.45"/><circle cx="657.9" cy="24.0" r="1.45"/><circle cx="533.9" cy="104.6" r="1.45"/><circle cx="595.4" cy="62.1" r="1.45"/><circle cx="511.6" cy="118.9" r="1.45"/><circle cx="633.8" cy="37.4" r="1.45"/><circle cx="494.2" cy="130.5" r="1.45"/><circle cx="465.4" cy="147.1" r="1.45"/><circle cx="449.2" cy="158.3" r="1.45"/><circle cx="576.7" cy="76.8" r="1.45"/><circle cx="557.6" cy="86.4" r="1.45"/><circle cx="648.0" cy="17.2" r="1.45"/><circle cx="449.8" cy="159.0" r="1.45"/><circle cx="622.2" cy="34.6" r="1.45"/><circle cx="658.8" cy="30.3" r="1.45"/><circle cx="607.1" cy="57.6" r="1.45"/><circle cx="441.5" cy="165.4" r="1.45"/><circle cx="451.5" cy="156.7" r="1.45"/><circle cx="434.3" cy="167.4" r="1.45"/><circle cx="498.8" cy="126.2" r="1.45"/><circle cx="610.3" cy="52.6" r="1.45"/><circle cx="449.3" cy="158.0" r="1.45"/><circle cx="529.0" cy="107.1" r="1.45"/><circle cx="422.9" cy="177.5" r="1.45"/><circle cx="589.1" cy="68.7" r="1.45"/><circle cx="437.2" cy="165.7" r="1.45"/><circle cx="619.2" cy="37.2" r="1.45"/><circle cx="571.9" cy="78.0" r="1.45"/><circle cx="461.3" cy="150.3" r="1.45"/><circle cx="594.4" cy="64.7" r="1.45"/><circle cx="502.9" cy="128.0" r="1.45"/><circle cx="548.6" cy="98.7" r="1.45"/><circle cx="557.2" cy="88.7" r="1.45"/><circle cx="482.5" cy="139.8" r="1.45"/><circle cx="520.7" cy="116.7" r="1.45"/><circle cx="617.5" cy="48.1" r="1.45"/><circle cx="638.0" cy="36.0" r="1.45"/><circle cx="633.8" cy="41.2" r="1.45"/><circle cx="560.3" cy="85.6" r="1.45"/><circle cx="640.1" cy="31.2" r="1.45"/><circle cx="448.1" cy="158.8" r="1.45"/><circle cx="669.3" cy="14.9" r="1.45"/><circle cx="423.1" cy="175.7" r="1.45"/><circle cx="647.1" cy="32.6" r="1.45"/><circle cx="618.9" cy="45.6" r="1.45"/><circle cx="513.6" cy="120.7" r="1.45"/><circle cx="618.5" cy="52.6" r="1.45"/><circle cx="662.4" cy="13.6" r="1.45"/><circle cx="454.3" cy="157.6" r="1.45"/><circle cx="581.6" cy="70.1" r="1.45"/><circle cx="412.5" cy="185.2" r="1.45"/><circle cx="585.5" cy="70.8" r="1.45"/><circle cx="427.4" cy="173.6" r="1.45"/><circle cx="586.4" cy="70.9" r="1.45"/><circle cx="418.4" cy="178.9" r="1.45"/><circle cx="517.1" cy="115.5" r="1.45"/><circle cx="638.6" cy="36.1" r="1.45"/><circle cx="491.6" cy="131.2" r="1.45"/><circle cx="665.4" cy="19.1" r="1.45"/><circle cx="534.9" cy="99.9" r="1.45"/><circle cx="459.0" cy="153.8" r="1.45"/><circle cx="656.8" cy="17.3" r="1.45"/><circle cx="452.1" cy="158.4" r="1.45"/><circle cx="567.1" cy="82.9" r="1.45"/><circle cx="658.5" cy="25.0" r="1.45"/><circle cx="657.9" cy="19.6" r="1.45"/><circle cx="557.0" cy="97.9" r="1.45"/><circle cx="466.9" cy="147.4" r="1.45"/><circle cx="542.5" cy="98.2" r="1.45"/><circle cx="487.9" cy="132.5" r="1.45"/><circle cx="493.7" cy="133.3" r="1.45"/><circle cx="494.5" cy="128.6" r="1.45"/><circle cx="464.2" cy="151.2" r="1.45"/><circle cx="421.5" cy="176.4" r="1.45"/><circle cx="608.1" cy="55.3" r="1.45"/><circle cx="414.7" cy="181.6" r="1.45"/><circle cx="561.6" cy="88.1" r="1.45"/><circle cx="507.6" cy="120.3" r="1.45"/><circle cx="581.7" cy="68.4" r="1.45"/><circle cx="563.5" cy="85.2" r="1.45"/><circle cx="536.9" cy="98.0" r="1.45"/><circle cx="615.1" cy="45.5" r="1.45"/><circle cx="561.3" cy="87.8" r="1.45"/><circle cx="646.9" cy="20.8" r="1.45"/><circle cx="564.7" cy="85.5" r="1.45"/><circle cx="641.1" cy="31.1" r="1.45"/><circle cx="637.9" cy="30.9" r="1.45"/><circle cx="596.6" cy="62.6" r="1.45"/><circle cx="497.6" cy="129.1" r="1.45"/><circle cx="538.9" cy="98.5" r="1.45"/><circle cx="432.0" cy="170.4" r="1.45"/><circle cx="601.5" cy="61.6" r="1.45"/><circle cx="580.7" cy="75.0" r="1.45"/><circle cx="625.9" cy="42.5" r="1.45"/><circle cx="433.4" cy="168.7" r="1.45"/><circle cx="445.0" cy="160.7" r="1.45"/><circle cx="580.7" cy="70.1" r="1.45"/><circle cx="603.3" cy="60.0" r="1.45"/><circle cx="430.6" cy="172.4" r="1.45"/><circle cx="419.4" cy="179.4" r="1.45"/><circle cx="496.5" cy="131.5" r="1.45"/><circle cx="500.3" cy="125.2" r="1.45"/><circle cx="425.0" cy="174.8" r="1.45"/><circle cx="436.9" cy="166.9" r="1.45"/><circle cx="464.8" cy="152.5" r="1.45"/><circle cx="415.0" cy="179.3" r="1.45"/><circle cx="450.1" cy="159.2" r="1.45"/><circle cx="418.0" cy="180.5" r="1.45"/><circle cx="508.3" cy="120.7" r="1.45"/><circle cx="607.6" cy="64.1" r="1.45"/><circle cx="584.7" cy="73.9" r="1.45"/><circle cx="569.8" cy="82.3" r="1.45"/><circle cx="534.0" cy="101.0" r="1.45"/><circle cx="460.5" cy="152.8" r="1.45"/><circle cx="424.0" cy="175.5" r="1.45"/><circle cx="459.9" cy="152.5" r="1.45"/><circle cx="659.6" cy="22.2" r="1.45"/><circle cx="624.7" cy="41.5" r="1.45"/><circle cx="560.7" cy="87.8" r="1.45"/><circle cx="572.1" cy="83.7" r="1.45"/><circle cx="606.7" cy="59.4" r="1.45"/><circle cx="626.8" cy="43.2" r="1.45"/><circle cx="474.6" cy="139.3" r="1.45"/><circle cx="621.7" cy="50.3" r="1.45"/><circle cx="581.3" cy="75.9" r="1.45"/><circle cx="484.2" cy="136.2" r="1.45"/><circle cx="486.7" cy="133.9" r="1.45"/><circle cx="456.2" cy="155.8" r="1.45"/><circle cx="554.8" cy="87.1" r="1.45"/><circle cx="665.3" cy="21.3" r="1.45"/><circle cx="618.4" cy="43.0" r="1.45"/><circle cx="454.9" cy="154.2" r="1.45"/><circle cx="442.7" cy="163.7" r="1.45"/><circle cx="485.2" cy="133.0" r="1.45"/><circle cx="454.4" cy="156.0" r="1.45"/><circle cx="448.6" cy="160.6" r="1.45"/><circle cx="603.2" cy="52.2" r="1.45"/><circle cx="493.8" cy="132.3" r="1.45"/><circle cx="559.6" cy="84.7" r="1.45"/><circle cx="494.0" cy="131.4" r="1.45"/><circle cx="669.5" cy="16.1" r="1.45"/><circle cx="566.6" cy="80.3" r="1.45"/><circle cx="447.9" cy="159.5" r="1.45"/><circle cx="615.1" cy="42.6" r="1.45"/><circle cx="487.3" cy="133.2" r="1.45"/><circle cx="530.6" cy="103.7" r="1.45"/><circle cx="486.6" cy="138.4" r="1.45"/><circle cx="539.7" cy="102.8" r="1.45"/><circle cx="491.9" cy="128.6" r="1.45"/><circle cx="495.4" cy="131.0" r="1.45"/><circle cx="452.6" cy="157.5" r="1.45"/><circle cx="663.0" cy="17.5" r="1.45"/><circle cx="465.7" cy="149.5" r="1.45"/><circle cx="485.4" cy="137.4" r="1.45"/><circle cx="518.9" cy="112.2" r="1.45"/><circle cx="442.2" cy="163.6" r="1.45"/><circle cx="471.4" cy="145.3" r="1.45"/><circle cx="518.1" cy="111.6" r="1.45"/><circle cx="564.4" cy="83.9" r="1.45"/><circle cx="551.9" cy="91.4" r="1.45"/><circle cx="508.0" cy="119.2" r="1.45"/><circle cx="588.7" cy="64.0" r="1.45"/><circle cx="606.8" cy="56.4" r="1.45"/><circle cx="480.8" cy="140.6" r="1.45"/><circle cx="474.1" cy="143.8" r="1.45"/><circle cx="575.3" cy="73.1" r="1.45"/><circle cx="519.2" cy="115.4" r="1.45"/><circle cx="629.0" cy="41.7" r="1.45"/><circle cx="413.9" cy="183.4" r="1.45"/><circle cx="553.3" cy="94.4" r="1.45"/><circle cx="502.7" cy="122.3" r="1.45"/><circle cx="467.0" cy="147.6" r="1.45"/><circle cx="638.9" cy="32.0" r="1.45"/><circle cx="468.2" cy="145.6" r="1.45"/><circle cx="618.1" cy="56.5" r="1.45"/><circle cx="635.2" cy="41.0" r="1.45"/><circle cx="665.0" cy="10.1" r="1.45"/><circle cx="441.8" cy="164.9" r="1.45"/><circle cx="452.2" cy="156.6" r="1.45"/><circle cx="433.3" cy="171.5" r="1.45"/><circle cx="495.3" cy="129.5" r="1.45"/><circle cx="649.0" cy="27.3" r="1.45"/><circle cx="580.1" cy="73.4" r="1.45"/><circle cx="451.9" cy="158.2" r="1.45"/><circle cx="439.0" cy="166.2" r="1.45"/><circle cx="607.8" cy="53.6" r="1.45"/><circle cx="574.7" cy="76.0" r="1.45"/><circle cx="411.9" cy="184.6" r="1.45"/><circle cx="565.3" cy="79.0" r="1.45"/><circle cx="461.1" cy="151.7" r="1.45"/><circle cx="488.3" cy="133.7" r="1.45"/><circle cx="437.8" cy="166.3" r="1.45"/><circle cx="671.2" cy="17.3" r="1.45"/><circle cx="531.1" cy="102.0" r="1.45"/><circle cx="573.1" cy="76.3" r="1.45"/><circle cx="464.8" cy="147.8" r="1.45"/><circle cx="509.6" cy="121.1" r="1.45"/><circle cx="580.9" cy="70.6" r="1.45"/><circle cx="607.1" cy="55.2" r="1.45"/><circle cx="649.1" cy="29.8" r="1.45"/><circle cx="476.2" cy="138.9" r="1.45"/><circle cx="474.2" cy="144.0" r="1.45"/><circle cx="517.0" cy="113.0" r="1.45"/><circle cx="492.1" cy="130.8" r="1.45"/><circle cx="626.2" cy="42.3" r="1.45"/><circle cx="508.7" cy="122.4" r="1.45"/><circle cx="509.2" cy="121.8" r="1.45"/><circle cx="543.1" cy="102.8" r="1.45"/><circle cx="559.2" cy="87.4" r="1.45"/><circle cx="503.9" cy="122.5" r="1.45"/><circle cx="413.6" cy="182.3" r="1.45"/><circle cx="604.1" cy="59.5" r="1.45"/><circle cx="441.4" cy="166.9" r="1.45"/><circle cx="635.3" cy="38.4" r="1.45"/><circle cx="476.0" cy="140.9" r="1.45"/><circle cx="478.3" cy="141.0" r="1.45"/><circle cx="551.7" cy="92.6" r="1.45"/><circle cx="649.2" cy="28.2" r="1.45"/><circle cx="511.1" cy="117.0" r="1.45"/><circle cx="537.3" cy="94.1" r="1.45"/><circle cx="520.0" cy="111.5" r="1.45"/><circle cx="440.7" cy="166.5" r="1.45"/><circle cx="486.9" cy="135.3" r="1.45"/><circle cx="651.7" cy="16.6" r="1.45"/><circle cx="657.6" cy="22.7" r="1.45"/><circle cx="478.2" cy="137.1" r="1.45"/><circle cx="652.6" cy="34.7" r="1.45"/><circle cx="415.4" cy="181.9" r="1.45"/><circle cx="599.7" cy="55.0" r="1.45"/><circle cx="418.0" cy="181.0" r="1.45"/><circle cx="523.0" cy="108.8" r="1.45"/><circle cx="519.5" cy="114.7" r="1.45"/><circle cx="525.3" cy="109.4" r="1.45"/><circle cx="658.1" cy="17.1" r="1.45"/><circle cx="503.7" cy="125.3" r="1.45"/><circle cx="416.0" cy="179.6" r="1.45"/><circle cx="440.2" cy="167.2" r="1.45"/><circle cx="607.8" cy="54.8" r="1.45"/><circle cx="445.0" cy="160.7" r="1.45"/><circle cx="426.7" cy="171.8" r="1.45"/><circle cx="462.5" cy="153.4" r="1.45"/><circle cx="667.7" cy="22.8" r="1.45"/><circle cx="527.9" cy="104.3" r="1.45"/><circle cx="450.1" cy="161.3" r="1.45"/><circle cx="584.0" cy="70.9" r="1.45"/><circle cx="510.3" cy="118.8" r="1.45"/><circle cx="556.2" cy="88.5" r="1.45"/><circle cx="672.4" cy="12.0" r="1.45"/><circle cx="594.6" cy="68.6" r="1.45"/><circle cx="551.5" cy="92.4" r="1.45"/><circle cx="673.1" cy="9.2" r="1.45"/><circle cx="543.9" cy="103.3" r="1.45"/><circle cx="530.0" cy="108.7" r="1.45"/><circle cx="634.3" cy="32.8" r="1.45"/><circle cx="662.5" cy="18.0" r="1.45"/><circle cx="599.9" cy="56.0" r="1.45"/><circle cx="507.1" cy="121.6" r="1.45"/><circle cx="516.9" cy="116.0" r="1.45"/><circle cx="413.6" cy="183.2" r="1.45"/><circle cx="474.2" cy="142.1" r="1.45"/><circle cx="615.0" cy="46.6" r="1.45"/><circle cx="539.5" cy="102.4" r="1.45"/><circle cx="635.9" cy="36.1" r="1.45"/><circle cx="587.0" cy="76.5" r="1.45"/><circle cx="559.7" cy="83.8" r="1.45"/><circle cx="622.6" cy="48.4" r="1.45"/><circle cx="541.8" cy="98.5" r="1.45"/><circle cx="586.2" cy="66.0" r="1.45"/><circle cx="539.7" cy="103.8" r="1.45"/><circle cx="503.7" cy="124.0" r="1.45"/><circle cx="611.9" cy="48.2" r="1.45"/><circle cx="430.0" cy="171.7" r="1.45"/><circle cx="667.5" cy="20.9" r="1.45"/><circle cx="663.2" cy="13.6" r="1.45"/><circle cx="629.0" cy="46.9" r="1.45"/><circle cx="533.9" cy="105.6" r="1.45"/><circle cx="529.3" cy="106.0" r="1.45"/><circle cx="516.8" cy="118.5" r="1.45"/><circle cx="531.7" cy="110.0" r="1.45"/><circle cx="469.4" cy="147.3" r="1.45"/><circle cx="620.8" cy="46.9" r="1.45"/><circle cx="642.3" cy="40.5" r="1.45"/><circle cx="542.6" cy="102.3" r="1.45"/><circle cx="635.0" cy="33.1" r="1.45"/><circle cx="487.8" cy="133.9" r="1.45"/><circle cx="636.7" cy="35.1" r="1.45"/><circle cx="666.5" cy="15.2" r="1.45"/><circle cx="587.1" cy="62.7" r="1.45"/><circle cx="663.8" cy="22.8" r="1.45"/><circle cx="601.7" cy="58.8" r="1.45"/><circle cx="593.1" cy="64.5" r="1.45"/><circle cx="535.3" cy="106.8" r="1.45"/><circle cx="427.0" cy="173.3" r="1.45"/><circle cx="444.1" cy="162.7" r="1.45"/><circle cx="628.3" cy="42.5" r="1.45"/><circle cx="458.9" cy="152.4" r="1.45"/><circle cx="591.3" cy="65.0" r="1.45"/><circle cx="453.3" cy="157.9" r="1.45"/><circle cx="609.3" cy="53.5" r="1.45"/><circle cx="661.9" cy="26.0" r="1.45"/><circle cx="573.4" cy="74.7" r="1.45"/><circle cx="421.5" cy="177.9" r="1.45"/><circle cx="604.5" cy="50.9" r="1.45"/><circle cx="536.1" cy="101.9" r="1.45"/><circle cx="638.3" cy="31.9" r="1.45"/><circle cx="450.4" cy="160.7" r="1.45"/><circle cx="484.9" cy="137.7" r="1.45"/><circle cx="652.3" cy="28.3" r="1.45"/><circle cx="630.8" cy="47.8" r="1.45"/><circle cx="649.7" cy="34.2" r="1.45"/><circle cx="547.8" cy="96.6" r="1.45"/><circle cx="588.1" cy="64.9" r="1.45"/><circle cx="655.9" cy="17.3" r="1.45"/><circle cx="584.3" cy="69.9" r="1.45"/><circle cx="434.2" cy="168.8" r="1.45"/><circle cx="451.9" cy="156.6" r="1.45"/><circle cx="412.0" cy="183.6" r="1.45"/><circle cx="440.5" cy="162.7" r="1.45"/><circle cx="418.4" cy="181.6" r="1.45"/><circle cx="512.2" cy="115.2" r="1.45"/><circle cx="573.0" cy="75.3" r="1.45"/><circle cx="637.1" cy="38.3" r="1.45"/><circle cx="518.5" cy="109.7" r="1.45"/><circle cx="453.5" cy="158.1" r="1.45"/><circle cx="649.6" cy="32.0" r="1.45"/><circle cx="651.7" cy="25.0" r="1.45"/><circle cx="667.6" cy="11.5" r="1.45"/><circle cx="417.5" cy="179.7" r="1.45"/><circle cx="566.2" cy="75.9" r="1.45"/><circle cx="576.6" cy="80.1" r="1.45"/><circle cx="551.4" cy="92.2" r="1.45"/><circle cx="460.6" cy="150.8" r="1.45"/><circle cx="652.7" cy="21.7" r="1.45"/><circle cx="552.0" cy="93.4" r="1.45"/><circle cx="421.0" cy="179.9" r="1.45"/><circle cx="502.1" cy="121.8" r="1.45"/><circle cx="602.0" cy="56.0" r="1.45"/><circle cx="464.5" cy="146.5" r="1.45"/><circle cx="614.9" cy="52.9" r="1.45"/><circle cx="466.4" cy="148.5" r="1.45"/><circle cx="524.8" cy="115.9" r="1.45"/><circle cx="488.0" cy="133.9" r="1.45"/><circle cx="444.8" cy="161.7" r="1.45"/><circle cx="643.0" cy="28.8" r="1.45"/><circle cx="500.6" cy="127.8" r="1.45"/><circle cx="608.3" cy="47.5" r="1.45"/><circle cx="645.0" cy="34.1" r="1.45"/><circle cx="485.5" cy="136.3" r="1.45"/><circle cx="412.8" cy="182.8" r="1.45"/><circle cx="549.0" cy="90.8" r="1.45"/><circle cx="473.0" cy="145.9" r="1.45"/><circle cx="640.4" cy="41.9" r="1.45"/><circle cx="454.5" cy="155.3" r="1.45"/><circle cx="600.4" cy="61.4" r="1.45"/><circle cx="418.0" cy="182.2" r="1.45"/><circle cx="482.4" cy="136.6" r="1.45"/><circle cx="462.9" cy="150.1" r="1.45"/><circle cx="634.7" cy="31.9" r="1.45"/><circle cx="568.4" cy="80.2" r="1.45"/><circle cx="584.3" cy="69.8" r="1.45"/><circle cx="432.9" cy="169.6" r="1.45"/><circle cx="492.2" cy="129.7" r="1.45"/><circle cx="645.3" cy="23.4" r="1.45"/><circle cx="572.1" cy="73.5" r="1.45"/><circle cx="610.0" cy="49.1" r="1.45"/><circle cx="542.9" cy="99.6" r="1.45"/><circle cx="465.1" cy="148.2" r="1.45"/><circle cx="650.9" cy="23.1" r="1.45"/><circle cx="480.5" cy="140.4" r="1.45"/><circle cx="455.9" cy="156.0" r="1.45"/><circle cx="581.4" cy="69.2" r="1.45"/><circle cx="433.9" cy="168.6" r="1.45"/><circle cx="611.8" cy="54.8" r="1.45"/><circle cx="598.0" cy="62.3" r="1.45"/><circle cx="511.8" cy="116.3" r="1.45"/><circle cx="546.4" cy="96.1" r="1.45"/><circle cx="539.0" cy="100.2" r="1.45"/><circle cx="430.9" cy="173.0" r="1.45"/><circle cx="432.2" cy="169.4" r="1.45"/><circle cx="503.7" cy="125.8" r="1.45"/><circle cx="413.0" cy="183.8" r="1.45"/><circle cx="459.9" cy="150.8" r="1.45"/><circle cx="507.2" cy="124.0" r="1.45"/><circle cx="575.8" cy="79.0" r="1.45"/><circle cx="546.5" cy="91.2" r="1.45"/><circle cx="456.8" cy="157.6" r="1.45"/><circle cx="610.4" cy="48.1" r="1.45"/><circle cx="619.6" cy="43.0" r="1.45"/><circle cx="585.1" cy="68.3" r="1.45"/><circle cx="591.7" cy="68.1" r="1.45"/><circle cx="477.8" cy="142.0" r="1.45"/><circle cx="631.1" cy="39.2" r="1.45"/><circle cx="564.7" cy="87.7" r="1.45"/><circle cx="457.8" cy="154.4" r="1.45"/><circle cx="590.7" cy="71.1" r="1.45"/><circle cx="575.8" cy="85.8" r="1.45"/><circle cx="560.4" cy="86.6" r="1.45"/><circle cx="534.8" cy="95.6" r="1.45"/><circle cx="612.4" cy="49.7" r="1.45"/><circle cx="602.7" cy="53.4" r="1.45"/><circle cx="565.8" cy="82.7" r="1.45"/><circle cx="428.9" cy="172.9" r="1.45"/><circle cx="472.1" cy="142.3" r="1.45"/><circle cx="668.0" cy="10.8" r="1.45"/><circle cx="516.8" cy="114.3" r="1.45"/><circle cx="577.3" cy="74.0" r="1.45"/><circle cx="445.8" cy="157.7" r="1.45"/><circle cx="561.1" cy="88.8" r="1.45"/><circle cx="570.9" cy="79.1" r="1.45"/><circle cx="611.1" cy="52.4" r="1.45"/><circle cx="665.4" cy="19.1" r="1.45"/><circle cx="530.9" cy="102.8" r="1.45"/><circle cx="493.3" cy="130.5" r="1.45"/><circle cx="453.2" cy="158.5" r="1.45"/><circle cx="498.9" cy="129.4" r="1.45"/><circle cx="527.6" cy="109.2" r="1.45"/><circle cx="664.1" cy="17.3" r="1.45"/><circle cx="545.3" cy="93.5" r="1.45"/><circle cx="588.3" cy="72.4" r="1.45"/><circle cx="603.6" cy="59.4" r="1.45"/><circle cx="414.9" cy="181.5" r="1.45"/><circle cx="472.4" cy="140.3" r="1.45"/><circle cx="553.0" cy="88.1" r="1.45"/><circle cx="426.3" cy="171.8" r="1.45"/><circle cx="450.8" cy="160.3" r="1.45"/><circle cx="608.6" cy="54.8" r="1.45"/><circle cx="588.0" cy="64.7" r="1.45"/><circle cx="447.6" cy="160.0" r="1.45"/><circle cx="442.2" cy="167.9" r="1.45"/><circle cx="632.4" cy="44.3" r="1.45"/><circle cx="535.2" cy="98.8" r="1.45"/><circle cx="494.2" cy="129.7" r="1.45"/><circle cx="599.9" cy="54.6" r="1.45"/><circle cx="586.7" cy="61.8" r="1.45"/><circle cx="672.0" cy="14.4" r="1.45"/><circle cx="438.4" cy="170.1" r="1.45"/><circle cx="612.8" cy="58.1" r="1.45"/><circle cx="531.9" cy="105.1" r="1.45"/><circle cx="476.4" cy="141.1" r="1.45"/><circle cx="542.0" cy="98.9" r="1.45"/><circle cx="416.7" cy="182.2" r="1.45"/><circle cx="444.0" cy="160.6" r="1.45"/><circle cx="439.8" cy="162.8" r="1.45"/><circle cx="592.8" cy="71.8" r="1.45"/><circle cx="597.0" cy="62.7" r="1.45"/><circle cx="475.2" cy="145.7" r="1.45"/><circle cx="491.8" cy="132.1" r="1.45"/><circle cx="613.9" cy="57.1" r="1.45"/><circle cx="512.9" cy="116.0" r="1.45"/><circle cx="502.7" cy="125.6" r="1.45"/><circle cx="659.2" cy="29.0" r="1.45"/><circle cx="554.0" cy="93.6" r="1.45"/><circle cx="552.4" cy="89.8" r="1.45"/><circle cx="571.4" cy="81.9" r="1.45"/><circle cx="422.1" cy="176.4" r="1.45"/><circle cx="515.9" cy="111.8" r="1.45"/><circle cx="618.1" cy="50.3" r="1.45"/><circle cx="582.1" cy="76.8" r="1.45"/><circle cx="644.7" cy="34.9" r="1.45"/><circle cx="492.7" cy="128.2" r="1.45"/><circle cx="536.0" cy="104.9" r="1.45"/><circle cx="472.8" cy="145.4" r="1.45"/><circle cx="459.9" cy="151.7" r="1.45"/><circle cx="435.2" cy="165.0" r="1.45"/><circle cx="463.4" cy="151.9" r="1.45"/><circle cx="454.3" cy="157.6" r="1.45"/><circle cx="526.4" cy="110.1" r="1.45"/><circle cx="519.1" cy="108.8" r="1.45"/><circle cx="611.6" cy="45.5" r="1.45"/><circle cx="615.3" cy="54.2" r="1.45"/><circle cx="553.1" cy="93.5" r="1.45"/><circle cx="583.5" cy="72.5" r="1.45"/><circle cx="534.1" cy="102.8" r="1.45"/><circle cx="492.7" cy="131.9" r="1.45"/><circle cx="543.3" cy="95.7" r="1.45"/><circle cx="576.7" cy="73.9" r="1.45"/><circle cx="661.7" cy="16.0" r="1.45"/><circle cx="625.4" cy="44.4" r="1.45"/><circle cx="428.8" cy="172.3" r="1.45"/><circle cx="579.1" cy="77.1" r="1.45"/><circle cx="435.1" cy="169.8" r="1.45"/><circle cx="574.4" cy="73.6" r="1.45"/><circle cx="634.0" cy="46.3" r="1.45"/><circle cx="594.6" cy="58.6" r="1.45"/><circle cx="442.6" cy="164.4" r="1.45"/><circle cx="522.4" cy="114.4" r="1.45"/><circle cx="462.5" cy="153.0" r="1.45"/><circle cx="584.5" cy="61.3" r="1.45"/><circle cx="597.6" cy="65.3" r="1.45"/><circle cx="604.5" cy="61.9" r="1.45"/><circle cx="504.7" cy="126.6" r="1.45"/><circle cx="568.1" cy="72.9" r="1.45"/><circle cx="465.9" cy="147.4" r="1.45"/><circle cx="655.1" cy="23.8" r="1.45"/><circle cx="657.3" cy="20.7" r="1.45"/><circle cx="419.3" cy="181.0" r="1.45"/><circle cx="559.1" cy="84.5" r="1.45"/><circle cx="599.6" cy="65.0" r="1.45"/><circle cx="471.9" cy="145.8" r="1.45"/><circle cx="420.0" cy="176.7" r="1.45"/><circle cx="411.9" cy="182.7" r="1.45"/><circle cx="596.6" cy="59.9" r="1.45"/><circle cx="414.5" cy="182.4" r="1.45"/><circle cx="512.6" cy="120.5" r="1.45"/><circle cx="620.7" cy="45.5" r="1.45"/><circle cx="425.1" cy="176.6" r="1.45"/><circle cx="596.6" cy="55.3" r="1.45"/><circle cx="524.3" cy="101.3" r="1.45"/><circle cx="513.4" cy="116.4" r="1.45"/><circle cx="538.2" cy="102.2" r="1.45"/><circle cx="503.6" cy="122.9" r="1.45"/><circle cx="637.3" cy="30.9" r="1.45"/><circle cx="587.0" cy="69.9" r="1.45"/><circle cx="512.9" cy="122.8" r="1.45"/><circle cx="442.8" cy="163.4" r="1.45"/><circle cx="543.5" cy="94.9" r="1.45"/><circle cx="673.2" cy="9.2" r="1.45"/><circle cx="645.1" cy="39.9" r="1.45"/><circle cx="429.1" cy="172.6" r="1.45"/><circle cx="504.7" cy="124.6" r="1.45"/><circle cx="534.4" cy="107.0" r="1.45"/><circle cx="517.6" cy="117.5" r="1.45"/><circle cx="440.7" cy="163.6" r="1.45"/><circle cx="460.1" cy="153.9" r="1.45"/><circle cx="551.6" cy="94.7" r="1.45"/><circle cx="600.3" cy="61.4" r="1.45"/><circle cx="599.1" cy="64.4" r="1.45"/><circle cx="587.5" cy="65.7" r="1.45"/><circle cx="588.0" cy="67.3" r="1.45"/><circle cx="413.5" cy="182.2" r="1.45"/><circle cx="468.5" cy="148.3" r="1.45"/><circle cx="499.6" cy="124.9" r="1.45"/><circle cx="478.5" cy="141.2" r="1.45"/><circle cx="513.1" cy="114.6" r="1.45"/><circle cx="516.0" cy="115.2" r="1.45"/><circle cx="500.4" cy="125.0" r="1.45"/><circle cx="414.0" cy="182.5" r="1.45"/><circle cx="638.1" cy="35.7" r="1.45"/><circle cx="662.2" cy="18.9" r="1.45"/><circle cx="572.7" cy="77.0" r="1.45"/><circle cx="482.8" cy="133.2" r="1.45"/><circle cx="529.4" cy="110.0" r="1.45"/><circle cx="650.5" cy="24.3" r="1.45"/><circle cx="568.5" cy="79.7" r="1.45"/><circle cx="594.0" cy="60.2" r="1.45"/><circle cx="594.8" cy="67.1" r="1.45"/><circle cx="668.5" cy="11.4" r="1.45"/><circle cx="583.1" cy="72.8" r="1.45"/><circle cx="439.7" cy="167.5" r="1.45"/><circle cx="543.8" cy="102.3" r="1.45"/><circle cx="653.1" cy="31.2" r="1.45"/><circle cx="445.3" cy="163.0" r="1.45"/><circle cx="424.7" cy="173.9" r="1.45"/><circle cx="424.5" cy="177.5" r="1.45"/><circle cx="429.6" cy="174.0" r="1.45"/><circle cx="454.2" cy="157.5" r="1.45"/><circle cx="613.4" cy="54.5" r="1.45"/><circle cx="568.5" cy="80.9" r="1.45"/><circle cx="603.2" cy="55.4" r="1.45"/><circle cx="557.2" cy="91.8" r="1.45"/><circle cx="504.1" cy="126.7" r="1.45"/><circle cx="617.5" cy="43.6" r="1.45"/><circle cx="455.8" cy="156.6" r="1.45"/><circle cx="505.7" cy="123.1" r="1.45"/><circle cx="520.2" cy="115.3" r="1.45"/><circle cx="589.7" cy="67.6" r="1.45"/><circle cx="610.8" cy="57.5" r="1.45"/><circle cx="559.9" cy="89.9" r="1.45"/><circle cx="570.7" cy="82.4" r="1.45"/><circle cx="485.0" cy="133.2" r="1.45"/><circle cx="566.8" cy="84.7" r="1.45"/><circle cx="632.4" cy="39.0" r="1.45"/><circle cx="526.5" cy="105.4" r="1.45"/><circle cx="608.4" cy="57.3" r="1.45"/><circle cx="544.5" cy="92.3" r="1.45"/><circle cx="545.8" cy="98.7" r="1.45"/><circle cx="570.7" cy="85.3" r="1.45"/><circle cx="448.0" cy="159.4" r="1.45"/><circle cx="467.7" cy="149.1" r="1.45"/><circle cx="457.3" cy="154.9" r="1.45"/><circle cx="551.6" cy="94.1" r="1.45"/><circle cx="586.8" cy="63.2" r="1.45"/><circle cx="596.8" cy="64.3" r="1.45"/><circle cx="465.9" cy="148.8" r="1.45"/><circle cx="498.8" cy="128.8" r="1.45"/><circle cx="449.5" cy="159.2" r="1.45"/><circle cx="582.8" cy="75.3" r="1.45"/><circle cx="521.6" cy="112.7" r="1.45"/><circle cx="482.8" cy="139.0" r="1.45"/><circle cx="470.3" cy="148.3" r="1.45"/><circle cx="660.1" cy="22.1" r="1.45"/><circle cx="537.6" cy="104.3" r="1.45"/><circle cx="671.2" cy="15.3" r="1.45"/><circle cx="495.5" cy="130.4" r="1.45"/><circle cx="467.8" cy="146.4" r="1.45"/><circle cx="599.0" cy="63.5" r="1.45"/><circle cx="650.5" cy="33.1" r="1.45"/><circle cx="454.3" cy="156.0" r="1.45"/><circle cx="637.3" cy="39.4" r="1.45"/><circle cx="565.3" cy="84.3" r="1.45"/><circle cx="648.4" cy="23.5" r="1.45"/><circle cx="659.4" cy="23.4" r="1.45"/><circle cx="523.2" cy="114.6" r="1.45"/><circle cx="658.1" cy="20.2" r="1.45"/><circle cx="458.6" cy="150.4" r="1.45"/><circle cx="527.7" cy="108.5" r="1.45"/><circle cx="527.5" cy="106.2" r="1.45"/><circle cx="475.6" cy="146.1" r="1.45"/><circle cx="538.2" cy="100.8" r="1.45"/><circle cx="608.6" cy="54.1" r="1.45"/><circle cx="439.7" cy="164.8" r="1.45"/><circle cx="537.4" cy="102.2" r="1.45"/><circle cx="549.1" cy="91.8" r="1.45"/><circle cx="462.8" cy="149.1" r="1.45"/><circle cx="579.7" cy="73.0" r="1.45"/><circle cx="477.6" cy="139.5" r="1.45"/><circle cx="561.0" cy="90.2" r="1.45"/><circle cx="561.2" cy="81.6" r="1.45"/><circle cx="607.6" cy="54.5" r="1.45"/><circle cx="656.4" cy="20.4" r="1.45"/><circle cx="654.1" cy="18.6" r="1.45"/><circle cx="542.9" cy="103.0" r="1.45"/><circle cx="480.2" cy="135.1" r="1.45"/><circle cx="474.8" cy="145.7" r="1.45"/><circle cx="617.5" cy="42.2" r="1.45"/><circle cx="610.6" cy="53.3" r="1.45"/><circle cx="619.5" cy="57.4" r="1.45"/><circle cx="629.8" cy="30.8" r="1.45"/><circle cx="559.4" cy="82.1" r="1.45"/><circle cx="646.6" cy="35.9" r="1.45"/><circle cx="583.6" cy="71.3" r="1.45"/><circle cx="576.8" cy="73.1" r="1.45"/><circle cx="630.8" cy="39.8" r="1.45"/><circle cx="582.3" cy="67.9" r="1.45"/><circle cx="612.6" cy="52.1" r="1.45"/><circle cx="655.1" cy="31.4" r="1.45"/><circle cx="515.0" cy="115.3" r="1.45"/><circle cx="608.2" cy="55.0" r="1.45"/><circle cx="489.6" cy="135.8" r="1.45"/><circle cx="538.9" cy="106.6" r="1.45"/><circle cx="640.3" cy="31.1" r="1.45"/><circle cx="666.6" cy="18.6" r="1.45"/><circle cx="659.8" cy="18.8" r="1.45"/><circle cx="610.0" cy="50.5" r="1.45"/><circle cx="633.7" cy="36.2" r="1.45"/><circle cx="643.2" cy="29.1" r="1.45"/><circle cx="571.2" cy="72.7" r="1.45"/><circle cx="475.2" cy="138.8" r="1.45"/><circle cx="415.9" cy="180.4" r="1.45"/><circle cx="610.9" cy="53.3" r="1.45"/><circle cx="610.7" cy="58.1" r="1.45"/><circle cx="603.0" cy="55.6" r="1.45"/><circle cx="563.4" cy="83.5" r="1.45"/><circle cx="583.8" cy="73.0" r="1.45"/><circle cx="599.7" cy="63.0" r="1.45"/><circle cx="550.7" cy="92.2" r="1.45"/><circle cx="584.0" cy="70.2" r="1.45"/><circle cx="470.1" cy="149.4" r="1.45"/><circle cx="551.4" cy="91.1" r="1.45"/><circle cx="576.1" cy="73.8" r="1.45"/><circle cx="560.4" cy="80.6" r="1.45"/><circle cx="478.7" cy="141.2" r="1.45"/><circle cx="444.5" cy="162.1" r="1.45"/><circle cx="582.9" cy="78.3" r="1.45"/><circle cx="440.8" cy="164.5" r="1.45"/><circle cx="619.5" cy="50.8" r="1.45"/><circle cx="459.0" cy="154.6" r="1.45"/><circle cx="613.7" cy="58.1" r="1.45"/><circle cx="504.6" cy="120.0" r="1.45"/><circle cx="647.6" cy="36.5" r="1.45"/><circle cx="470.5" cy="145.7" r="1.45"/><circle cx="452.6" cy="157.1" r="1.45"/><circle cx="588.3" cy="66.3" r="1.45"/><circle cx="614.2" cy="48.9" r="1.45"/><circle cx="502.9" cy="123.5" r="1.45"/><circle cx="535.1" cy="96.1" r="1.45"/><circle cx="584.8" cy="71.8" r="1.45"/><circle cx="488.7" cy="133.9" r="1.45"/><circle cx="513.3" cy="115.0" r="1.45"/><circle cx="559.7" cy="86.4" r="1.45"/><circle cx="490.7" cy="137.5" r="1.45"/><circle cx="449.6" cy="159.8" r="1.45"/><circle cx="649.5" cy="26.2" r="1.45"/><circle cx="443.5" cy="165.9" r="1.45"/><circle cx="670.1" cy="11.2" r="1.45"/><circle cx="632.7" cy="38.0" r="1.45"/><circle cx="528.5" cy="105.8" r="1.45"/><circle cx="637.0" cy="34.9" r="1.45"/><circle cx="428.2" cy="174.4" r="1.45"/><circle cx="558.8" cy="89.1" r="1.45"/><circle cx="504.0" cy="121.8" r="1.45"/><circle cx="490.2" cy="132.5" r="1.45"/><circle cx="645.9" cy="30.7" r="1.45"/><circle cx="421.3" cy="177.3" r="1.45"/><circle cx="637.3" cy="35.6" r="1.45"/><circle cx="431.9" cy="169.8" r="1.45"/><circle cx="588.9" cy="64.2" r="1.45"/><circle cx="486.2" cy="135.5" r="1.45"/><circle cx="549.5" cy="90.1" r="1.45"/><circle cx="653.9" cy="27.1" r="1.45"/><circle cx="620.4" cy="45.8" r="1.45"/><circle cx="437.3" cy="165.9" r="1.45"/><circle cx="491.3" cy="130.6" r="1.45"/><circle cx="539.3" cy="98.8" r="1.45"/><circle cx="599.3" cy="59.5" r="1.45"/><circle cx="412.8" cy="183.6" r="1.45"/><circle cx="637.8" cy="34.5" r="1.45"/><circle cx="632.0" cy="35.2" r="1.45"/><circle cx="662.0" cy="26.7" r="1.45"/><circle cx="464.4" cy="151.2" r="1.45"/><circle cx="467.2" cy="148.0" r="1.45"/><circle cx="629.7" cy="44.9" r="1.45"/><circle cx="546.3" cy="96.6" r="1.45"/><circle cx="475.6" cy="141.8" r="1.45"/><circle cx="415.8" cy="181.6" r="1.45"/><circle cx="468.1" cy="152.0" r="1.45"/><circle cx="588.3" cy="71.3" r="1.45"/><circle cx="603.4" cy="61.8" r="1.45"/><circle cx="504.2" cy="122.5" r="1.45"/><circle cx="651.9" cy="29.2" r="1.45"/><circle cx="544.9" cy="103.5" r="1.45"/><circle cx="547.0" cy="96.4" r="1.45"/><circle cx="514.8" cy="119.3" r="1.45"/><circle cx="517.1" cy="118.3" r="1.45"/><circle cx="505.4" cy="124.2" r="1.45"/><circle cx="627.5" cy="49.1" r="1.45"/><circle cx="526.7" cy="109.2" r="1.45"/><circle cx="472.0" cy="145.6" r="1.45"/><circle cx="525.4" cy="107.6" r="1.45"/><circle cx="654.0" cy="37.3" r="1.45"/><circle cx="578.8" cy="74.9" r="1.45"/><circle cx="438.8" cy="166.4" r="1.45"/><circle cx="521.2" cy="116.0" r="1.45"/><circle cx="533.7" cy="102.5" r="1.45"/><circle cx="414.9" cy="182.0" r="1.45"/><circle cx="663.4" cy="15.5" r="1.45"/><circle cx="651.5" cy="26.8" r="1.45"/><circle cx="437.9" cy="166.3" r="1.45"/><circle cx="556.1" cy="90.8" r="1.45"/><circle cx="493.2" cy="130.4" r="1.45"/><circle cx="466.8" cy="147.0" r="1.45"/><circle cx="483.2" cy="136.8" r="1.45"/><circle cx="425.3" cy="175.0" r="1.45"/><circle cx="591.7" cy="63.2" r="1.45"/><circle cx="507.4" cy="123.7" r="1.45"/><circle cx="594.8" cy="65.8" r="1.45"/><circle cx="625.1" cy="44.2" r="1.45"/><circle cx="561.5" cy="81.4" r="1.45"/><circle cx="501.4" cy="126.5" r="1.45"/><circle cx="448.0" cy="158.2" r="1.45"/><circle cx="582.1" cy="72.3" r="1.45"/><circle cx="588.2" cy="67.7" r="1.45"/><circle cx="616.1" cy="46.7" r="1.45"/><circle cx="447.4" cy="159.3" r="1.45"/><circle cx="423.4" cy="175.5" r="1.45"/><circle cx="641.8" cy="42.2" r="1.45"/><circle cx="570.3" cy="78.6" r="1.45"/><circle cx="436.0" cy="167.9" r="1.45"/><circle cx="597.2" cy="65.4" r="1.45"/><circle cx="426.1" cy="175.3" r="1.45"/><circle cx="577.0" cy="78.8" r="1.45"/><circle cx="556.8" cy="84.5" r="1.45"/><circle cx="598.8" cy="56.1" r="1.45"/><circle cx="436.0" cy="173.0" r="1.45"/><circle cx="649.5" cy="27.7" r="1.45"/><circle cx="657.9" cy="21.3" r="1.45"/><circle cx="669.5" cy="16.0" r="1.45"/><circle cx="612.1" cy="56.1" r="1.45"/><circle cx="493.0" cy="128.2" r="1.45"/><circle cx="667.9" cy="17.6" r="1.45"/><circle cx="572.4" cy="78.0" r="1.45"/><circle cx="599.7" cy="62.6" r="1.45"/><circle cx="584.7" cy="70.5" r="1.45"/><circle cx="465.5" cy="148.0" r="1.45"/><circle cx="635.0" cy="33.3" r="1.45"/><circle cx="580.9" cy="63.4" r="1.45"/><circle cx="469.2" cy="148.2" r="1.45"/><circle cx="510.4" cy="115.6" r="1.45"/><circle cx="448.9" cy="159.0" r="1.45"/><circle cx="524.8" cy="114.4" r="1.45"/><circle cx="670.8" cy="12.5" r="1.45"/><circle cx="511.9" cy="119.9" r="1.45"/><circle cx="515.0" cy="115.8" r="1.45"/><circle cx="621.9" cy="48.7" r="1.45"/><circle cx="433.0" cy="170.2" r="1.45"/><circle cx="442.7" cy="163.0" r="1.45"/><circle cx="606.8" cy="60.9" r="1.45"/><circle cx="445.5" cy="161.5" r="1.45"/><circle cx="571.6" cy="73.9" r="1.45"/><circle cx="625.5" cy="41.9" r="1.45"/><circle cx="558.9" cy="88.9" r="1.45"/><circle cx="432.3" cy="169.0" r="1.45"/><circle cx="465.4" cy="150.3" r="1.45"/><circle cx="553.0" cy="93.5" r="1.45"/><circle cx="661.5" cy="30.2" r="1.45"/><circle cx="582.7" cy="68.8" r="1.45"/><circle cx="594.0" cy="66.3" r="1.45"/><circle cx="567.4" cy="75.6" r="1.45"/><circle cx="496.8" cy="127.4" r="1.45"/><circle cx="570.6" cy="79.6" r="1.45"/><circle cx="413.8" cy="183.3" r="1.45"/><circle cx="519.9" cy="112.9" r="1.45"/><circle cx="624.2" cy="43.8" r="1.45"/><circle cx="464.9" cy="148.2" r="1.45"/><circle cx="581.3" cy="70.5" r="1.45"/><circle cx="600.2" cy="60.8" r="1.45"/><circle cx="452.3" cy="158.3" r="1.45"/><circle cx="636.2" cy="39.3" r="1.45"/><circle cx="475.2" cy="144.5" r="1.45"/><circle cx="663.7" cy="24.4" r="1.45"/><circle cx="501.6" cy="120.9" r="1.45"/><circle cx="571.7" cy="76.7" r="1.45"/><circle cx="660.0" cy="20.5" r="1.45"/><circle cx="626.3" cy="39.9" r="1.45"/><circle cx="538.7" cy="103.7" r="1.45"/><circle cx="462.3" cy="152.2" r="1.45"/><circle cx="572.5" cy="77.6" r="1.45"/><circle cx="565.4" cy="83.1" r="1.45"/><circle cx="428.1" cy="175.1" r="1.45"/><circle cx="511.6" cy="117.7" r="1.45"/><circle cx="652.7" cy="24.5" r="1.45"/><circle cx="549.2" cy="96.4" r="1.45"/><circle cx="458.8" cy="154.0" r="1.45"/><circle cx="580.1" cy="78.1" r="1.45"/><circle cx="530.3" cy="107.2" r="1.45"/><circle cx="650.9" cy="30.5" r="1.45"/><circle cx="539.8" cy="98.2" r="1.45"/><circle cx="418.2" cy="178.7" r="1.45"/><circle cx="453.6" cy="156.6" r="1.45"/><circle cx="457.3" cy="149.9" r="1.45"/><circle cx="660.7" cy="22.7" r="1.45"/><circle cx="505.5" cy="124.9" r="1.45"/><circle cx="502.8" cy="124.6" r="1.45"/><circle cx="667.2" cy="15.7" r="1.45"/><circle cx="465.4" cy="150.8" r="1.45"/><circle cx="574.4" cy="76.6" r="1.45"/><circle cx="659.8" cy="25.9" r="1.45"/><circle cx="649.9" cy="37.7" r="1.45"/><circle cx="453.3" cy="157.9" r="1.45"/><circle cx="534.8" cy="105.9" r="1.45"/><circle cx="477.4" cy="142.1" r="1.45"/><circle cx="594.8" cy="64.1" r="1.45"/><circle cx="475.8" cy="142.7" r="1.45"/><circle cx="457.7" cy="154.0" r="1.45"/><circle cx="482.6" cy="140.0" r="1.45"/><circle cx="445.6" cy="159.4" r="1.45"/><circle cx="599.1" cy="59.2" r="1.45"/><circle cx="484.6" cy="137.8" r="1.45"/><circle cx="516.2" cy="113.3" r="1.45"/><circle cx="483.5" cy="137.0" r="1.45"/><circle cx="511.0" cy="117.2" r="1.45"/><circle cx="491.3" cy="132.9" r="1.45"/><circle cx="504.0" cy="125.7" r="1.45"/><circle cx="597.2" cy="67.3" r="1.45"/><circle cx="456.9" cy="155.3" r="1.45"/><circle cx="591.3" cy="62.7" r="1.45"/><circle cx="502.4" cy="125.3" r="1.45"/><circle cx="435.8" cy="169.1" r="1.45"/><circle cx="442.7" cy="165.8" r="1.45"/><circle cx="647.4" cy="19.6" r="1.45"/><circle cx="422.3" cy="177.7" r="1.45"/><circle cx="483.7" cy="133.3" r="1.45"/><circle cx="637.7" cy="38.7" r="1.45"/><circle cx="432.1" cy="171.3" r="1.45"/><circle cx="466.6" cy="149.0" r="1.45"/><circle cx="481.8" cy="140.1" r="1.45"/><circle cx="630.4" cy="41.8" r="1.45"/><circle cx="441.7" cy="163.5" r="1.45"/><circle cx="659.2" cy="23.4" r="1.45"/><circle cx="442.7" cy="165.5" r="1.45"/><circle cx="559.6" cy="86.3" r="1.45"/><circle cx="614.0" cy="50.8" r="1.45"/><circle cx="557.8" cy="83.9" r="1.45"/><circle cx="544.4" cy="100.3" r="1.45"/><circle cx="526.0" cy="107.6" r="1.45"/><circle cx="477.6" cy="139.6" r="1.45"/><circle cx="671.6" cy="11.9" r="1.45"/><circle cx="517.2" cy="112.6" r="1.45"/><circle cx="579.0" cy="72.8" r="1.45"/><circle cx="564.0" cy="88.0" r="1.45"/><circle cx="663.5" cy="22.7" r="1.45"/><circle cx="475.3" cy="145.2" r="1.45"/><circle cx="451.9" cy="160.0" r="1.45"/><circle cx="647.1" cy="25.5" r="1.45"/><circle cx="544.8" cy="98.0" r="1.45"/><circle cx="579.4" cy="78.8" r="1.45"/><circle cx="575.2" cy="84.4" r="1.45"/><circle cx="616.4" cy="43.0" r="1.45"/><circle cx="631.0" cy="33.5" r="1.45"/><circle cx="595.2" cy="64.7" r="1.45"/><circle cx="412.6" cy="183.2" r="1.45"/><circle cx="630.8" cy="35.5" r="1.45"/><circle cx="422.4" cy="177.6" r="1.45"/><circle cx="636.2" cy="32.9" r="1.45"/><circle cx="411.6" cy="181.4" r="1.45"/><circle cx="614.4" cy="50.4" r="1.45"/><circle cx="578.8" cy="74.3" r="1.45"/><circle cx="418.1" cy="180.8" r="1.45"/><circle cx="608.9" cy="57.9" r="1.45"/><circle cx="563.3" cy="84.8" r="1.45"/><circle cx="443.0" cy="163.2" r="1.45"/><circle cx="641.2" cy="30.2" r="1.45"/><circle cx="566.3" cy="76.5" r="1.45"/><circle cx="532.6" cy="103.4" r="1.45"/><circle cx="659.2" cy="26.4" r="1.45"/><circle cx="464.6" cy="150.6" r="1.45"/><circle cx="457.5" cy="157.3" r="1.45"/><circle cx="645.3" cy="29.9" r="1.45"/><circle cx="453.4" cy="153.9" r="1.45"/><circle cx="625.7" cy="46.8" r="1.45"/><circle cx="466.3" cy="150.1" r="1.45"/><circle cx="624.7" cy="38.6" r="1.45"/><circle cx="518.3" cy="109.8" r="1.45"/><circle cx="573.2" cy="78.1" r="1.45"/><circle cx="570.5" cy="81.8" r="1.45"/><circle cx="514.8" cy="113.5" r="1.45"/><circle cx="547.2" cy="93.8" r="1.45"/><circle cx="581.6" cy="69.1" r="1.45"/><circle cx="447.1" cy="159.0" r="1.45"/><circle cx="651.4" cy="20.7" r="1.45"/><circle cx="627.2" cy="42.8" r="1.45"/><circle cx="465.9" cy="148.0" r="1.45"/><circle cx="470.4" cy="144.5" r="1.45"/><circle cx="514.8" cy="109.7" r="1.45"/><circle cx="613.6" cy="58.4" r="1.45"/><circle cx="546.8" cy="92.2" r="1.45"/><circle cx="493.9" cy="130.0" r="1.45"/><circle cx="612.8" cy="46.6" r="1.45"/><circle cx="462.6" cy="151.4" r="1.45"/><circle cx="597.1" cy="55.6" r="1.45"/><circle cx="608.9" cy="54.3" r="1.45"/><circle cx="438.0" cy="166.5" r="1.45"/><circle cx="560.8" cy="88.9" r="1.45"/><circle cx="567.0" cy="77.9" r="1.45"/><circle cx="666.0" cy="14.5" r="1.45"/><circle cx="489.7" cy="132.6" r="1.45"/><circle cx="531.9" cy="111.1" r="1.45"/><circle cx="656.7" cy="16.6" r="1.45"/><circle cx="445.5" cy="162.3" r="1.45"/><circle cx="646.5" cy="26.8" r="1.45"/><circle cx="507.1" cy="122.2" r="1.45"/><circle cx="501.4" cy="126.8" r="1.45"/><circle cx="672.2" cy="14.1" r="1.45"/><circle cx="513.7" cy="117.8" r="1.45"/><circle cx="476.1" cy="142.5" r="1.45"/><circle cx="465.7" cy="147.7" r="1.45"/><circle cx="593.7" cy="63.0" r="1.45"/><circle cx="578.0" cy="68.3" r="1.45"/><circle cx="474.0" cy="142.7" r="1.45"/><circle cx="541.1" cy="96.6" r="1.45"/><circle cx="486.4" cy="134.7" r="1.45"/><circle cx="630.8" cy="43.1" r="1.45"/><circle cx="505.1" cy="123.7" r="1.45"/><circle cx="572.7" cy="79.5" r="1.45"/><circle cx="650.8" cy="32.0" r="1.45"/><circle cx="473.9" cy="138.9" r="1.45"/><circle cx="661.0" cy="22.6" r="1.45"/><circle cx="538.6" cy="100.5" r="1.45"/><circle cx="579.2" cy="73.1" r="1.45"/><circle cx="482.6" cy="135.1" r="1.45"/><circle cx="593.4" cy="66.1" r="1.45"/><circle cx="601.1" cy="63.5" r="1.45"/><circle cx="566.6" cy="85.4" r="1.45"/><circle cx="637.5" cy="35.2" r="1.45"/><circle cx="535.0" cy="104.9" r="1.45"/><circle cx="415.2" cy="183.0" r="1.45"/><circle cx="650.8" cy="35.3" r="1.45"/><circle cx="560.2" cy="90.2" r="1.45"/><circle cx="572.6" cy="78.4" r="1.45"/><circle cx="568.2" cy="81.1" r="1.45"/><circle cx="422.1" cy="177.5" r="1.45"/><circle cx="486.7" cy="135.5" r="1.45"/><circle cx="434.9" cy="168.2" r="1.45"/><circle cx="581.7" cy="74.6" r="1.45"/><circle cx="635.4" cy="33.8" r="1.45"/><circle cx="584.5" cy="67.0" r="1.45"/><circle cx="624.6" cy="45.3" r="1.45"/><circle cx="498.5" cy="125.9" r="1.45"/><circle cx="419.6" cy="178.6" r="1.45"/><circle cx="518.7" cy="108.3" r="1.45"/><circle cx="455.6" cy="156.5" r="1.45"/><circle cx="491.3" cy="131.9" r="1.45"/><circle cx="473.9" cy="143.1" r="1.45"/><circle cx="458.7" cy="154.0" r="1.45"/><circle cx="591.6" cy="66.0" r="1.45"/><circle cx="552.2" cy="99.5" r="1.45"/><circle cx="565.2" cy="78.5" r="1.45"/><circle cx="556.3" cy="91.5" r="1.45"/><circle cx="563.8" cy="81.2" r="1.45"/><circle cx="589.7" cy="65.5" r="1.45"/><circle cx="662.0" cy="17.5" r="1.45"/><circle cx="432.9" cy="168.3" r="1.45"/><circle cx="472.7" cy="139.0" r="1.45"/><circle cx="412.8" cy="177.1" r="1.45"/><circle cx="428.8" cy="173.4" r="1.45"/><circle cx="464.2" cy="153.7" r="1.45"/><circle cx="647.8" cy="20.2" r="1.45"/><circle cx="493.9" cy="132.4" r="1.45"/><circle cx="568.9" cy="77.3" r="1.45"/><circle cx="493.3" cy="131.8" r="1.45"/><circle cx="670.3" cy="9.2" r="1.45"/><circle cx="461.8" cy="150.4" r="1.45"/><circle cx="514.8" cy="115.7" r="1.45"/><circle cx="508.3" cy="108.7" r="1.45"/><circle cx="467.3" cy="148.3" r="1.45"/><circle cx="430.7" cy="171.2" r="1.45"/><circle cx="513.8" cy="103.9" r="1.45"/><circle cx="464.2" cy="151.8" r="1.45"/><circle cx="417.5" cy="180.2" r="1.45"/><circle cx="643.5" cy="33.4" r="1.45"/><circle cx="501.3" cy="126.9" r="1.45"/><circle cx="414.3" cy="181.3" r="1.45"/><circle cx="572.9" cy="69.3" r="1.45"/><circle cx="536.7" cy="99.0" r="1.45"/><circle cx="592.1" cy="61.0" r="1.45"/><circle cx="505.7" cy="133.2" r="1.45"/><circle cx="448.1" cy="165.8" r="1.45"/><circle cx="579.0" cy="69.6" r="1.45"/><circle cx="515.8" cy="113.4" r="1.45"/><circle cx="641.2" cy="36.0" r="1.45"/><circle cx="496.9" cy="130.7" r="1.45"/><circle cx="469.6" cy="143.5" r="1.45"/><circle cx="460.1" cy="149.0" r="1.45"/><circle cx="478.5" cy="147.9" r="1.45"/><circle cx="473.8" cy="147.3" r="1.45"/><circle cx="548.1" cy="83.7" r="1.45"/><circle cx="508.9" cy="111.2" r="1.45"/><circle cx="665.5" cy="9.7" r="1.45"/><circle cx="464.8" cy="150.0" r="1.45"/><circle cx="657.8" cy="27.5" r="1.45"/><circle cx="499.3" cy="124.9" r="1.45"/><circle cx="538.0" cy="90.7" r="1.45"/><circle cx="662.8" cy="21.2" r="1.45"/><circle cx="616.0" cy="54.7" r="1.45"/><circle cx="659.5" cy="21.2" r="1.45"/><circle cx="552.6" cy="87.6" r="1.45"/><circle cx="494.6" cy="132.2" r="1.45"/><circle cx="588.3" cy="66.6" r="1.45"/><circle cx="590.9" cy="55.8" r="1.45"/><circle cx="422.2" cy="177.4" r="1.45"/><circle cx="439.4" cy="161.9" r="1.45"/><circle cx="659.4" cy="30.4" r="1.45"/><circle cx="600.3" cy="63.3" r="1.45"/><circle cx="627.1" cy="32.3" r="1.45"/><circle cx="460.6" cy="152.6" r="1.45"/><circle cx="666.8" cy="28.3" r="1.45"/><circle cx="490.2" cy="123.1" r="1.45"/><circle cx="448.0" cy="159.6" r="1.45"/><circle cx="505.5" cy="130.5" r="1.45"/><circle cx="503.5" cy="116.2" r="1.45"/><circle cx="426.6" cy="173.8" r="1.45"/><circle cx="633.3" cy="24.3" r="1.45"/><circle cx="639.5" cy="33.3" r="1.45"/><circle cx="463.1" cy="142.1" r="1.45"/><circle cx="555.7" cy="77.6" r="1.45"/><circle cx="639.6" cy="28.7" r="1.45"/><circle cx="510.4" cy="119.8" r="1.45"/><circle cx="544.8" cy="98.7" r="1.45"/><circle cx="475.3" cy="144.0" r="1.45"/><circle cx="534.0" cy="110.5" r="1.45"/><circle cx="493.2" cy="133.7" r="1.45"/><circle cx="627.4" cy="48.8" r="1.45"/><circle cx="453.0" cy="153.7" r="1.45"/><circle cx="419.9" cy="178.2" r="1.45"/><circle cx="647.5" cy="59.3" r="1.45"/><circle cx="456.4" cy="162.0" r="1.45"/><circle cx="555.3" cy="95.0" r="1.45"/><circle cx="597.2" cy="67.7" r="1.45"/><circle cx="497.0" cy="132.6" r="1.45"/><circle cx="654.9" cy="20.2" r="1.45"/><circle cx="499.9" cy="135.4" r="1.45"/><circle cx="463.0" cy="149.1" r="1.45"/><circle cx="428.4" cy="172.8" r="1.45"/><circle cx="647.2" cy="49.9" r="1.45"/><circle cx="467.9" cy="139.6" r="1.45"/><circle cx="646.6" cy="32.9" r="1.45"/><circle cx="531.0" cy="95.1" r="1.45"/><circle cx="655.9" cy="17.2" r="1.45"/><circle cx="434.1" cy="169.0" r="1.45"/><circle cx="635.5" cy="33.0" r="1.45"/><circle cx="668.1" cy="17.4" r="1.45"/><circle cx="597.7" cy="54.0" r="1.45"/><circle cx="446.3" cy="160.9" r="1.45"/><circle cx="672.9" cy="9.2" r="1.45"/><circle cx="621.4" cy="41.8" r="1.45"/><circle cx="466.4" cy="143.2" r="1.45"/><circle cx="665.8" cy="23.5" r="1.45"/><circle cx="433.9" cy="165.6" r="1.45"/><circle cx="445.3" cy="164.0" r="1.45"/><circle cx="415.2" cy="180.6" r="1.45"/><circle cx="566.6" cy="79.3" r="1.45"/><circle cx="517.2" cy="121.1" r="1.45"/><circle cx="433.8" cy="169.8" r="1.45"/><circle cx="540.6" cy="86.8" r="1.45"/><circle cx="642.3" cy="37.0" r="1.45"/><circle cx="435.5" cy="159.8" r="1.45"/><circle cx="578.8" cy="75.6" r="1.45"/><circle cx="455.5" cy="153.9" r="1.45"/><circle cx="545.2" cy="86.6" r="1.45"/><circle cx="501.2" cy="125.6" r="1.45"/><circle cx="483.6" cy="135.6" r="1.45"/><circle cx="414.5" cy="187.5" r="1.45"/><circle cx="563.0" cy="80.8" r="1.45"/><circle cx="527.6" cy="119.3" r="1.45"/><circle cx="592.6" cy="76.4" r="1.45"/><circle cx="459.7" cy="150.4" r="1.45"/><circle cx="669.2" cy="9.2" r="1.45"/><circle cx="416.5" cy="184.4" r="1.45"/><circle cx="462.7" cy="150.1" r="1.45"/><circle cx="579.5" cy="74.3" r="1.45"/><circle cx="446.4" cy="160.3" r="1.45"/><circle cx="479.6" cy="134.6" r="1.45"/><circle cx="542.9" cy="95.1" r="1.45"/><circle cx="609.6" cy="44.0" r="1.45"/><circle cx="638.0" cy="20.0" r="1.45"/><circle cx="479.3" cy="142.3" r="1.45"/><circle cx="501.9" cy="128.2" r="1.45"/><circle cx="492.2" cy="134.7" r="1.45"/><circle cx="515.7" cy="122.0" r="1.45"/><circle cx="516.1" cy="120.1" r="1.45"/><circle cx="537.2" cy="105.0" r="1.45"/><circle cx="532.2" cy="108.6" r="1.45"/><circle cx="470.2" cy="150.3" r="1.45"/><circle cx="478.9" cy="143.7" r="1.45"/><circle cx="468.6" cy="148.8" r="1.45"/><circle cx="521.8" cy="113.2" r="1.45"/><circle cx="492.7" cy="132.3" r="1.45"/><circle cx="543.0" cy="99.8" r="1.45"/><circle cx="482.1" cy="139.3" r="1.45"/><circle cx="541.5" cy="101.4" r="1.45"/><circle cx="525.5" cy="116.2" r="1.45"/><circle cx="526.0" cy="113.0" r="1.45"/><circle cx="513.6" cy="120.4" r="1.45"/><circle cx="535.8" cy="106.8" r="1.45"/><circle cx="483.7" cy="139.9" r="1.45"/><circle cx="534.5" cy="105.8" r="1.45"/><circle cx="535.5" cy="104.0" r="1.45"/><circle cx="513.5" cy="125.0" r="1.45"/><circle cx="517.9" cy="119.8" r="1.45"/><circle cx="483.3" cy="140.7" r="1.45"/><circle cx="504.3" cy="130.1" r="1.45"/><circle cx="512.0" cy="122.6" r="1.45"/><circle cx="490.3" cy="135.2" r="1.45"/><circle cx="468.4" cy="152.4" r="1.45"/><circle cx="541.0" cy="102.0" r="1.45"/><circle cx="529.5" cy="108.9" r="1.45"/><circle cx="494.2" cy="138.6" r="1.45"/><circle cx="507.6" cy="132.4" r="1.45"/><circle cx="512.3" cy="121.5" r="1.45"/><circle cx="541.6" cy="99.8" r="1.45"/><circle cx="452.8" cy="105.1" r="1.45"/><circle cx="417.1" cy="167.1" r="1.45"/><circle cx="414.7" cy="195.6" r="1.45"/><circle cx="418.7" cy="187.0" r="1.45"/><circle cx="458.8" cy="143.5" r="1.45"/><circle cx="457.6" cy="163.2" r="1.45"/><circle cx="450.6" cy="149.7" r="1.45"/><circle cx="505.6" cy="113.9" r="1.45"/><circle cx="494.0" cy="122.0" r="1.45"/><circle cx="470.4" cy="137.5" r="1.45"/><circle cx="459.3" cy="142.9" r="1.45"/><circle cx="481.3" cy="155.1" r="1.45"/><circle cx="476.0" cy="156.1" r="1.45"/><circle cx="491.7" cy="142.9" r="1.45"/><circle cx="502.8" cy="134.7" r="1.45"/><circle cx="505.6" cy="132.9" r="1.45"/><circle cx="515.8" cy="75.8" r="1.45"/><circle cx="549.1" cy="66.5" r="1.45"/><circle cx="532.4" cy="82.7" r="1.45"/><circle cx="544.0" cy="84.3" r="1.45"/><circle cx="537.1" cy="90.8" r="1.45"/><circle cx="559.1" cy="108.2" r="1.45"/><circle cx="554.4" cy="101.7" r="1.45"/><circle cx="542.9" cy="108.6" r="1.45"/><circle cx="548.6" cy="103.5" r="1.45"/><circle cx="513.9" cy="105.2" r="1.45"/><circle cx="505.8" cy="114.4" r="1.45"/><circle cx="552.3" cy="56.6" r="1.45"/><circle cx="561.1" cy="61.3" r="1.45"/><circle cx="568.1" cy="64.3" r="1.45"/><circle cx="580.1" cy="60.1" r="1.45"/><circle cx="584.7" cy="55.0" r="1.45"/><circle cx="589.8" cy="53.2" r="1.45"/><circle cx="592.9" cy="45.1" r="1.45"/><circle cx="604.4" cy="46.2" r="1.45"/><circle cx="606.8" cy="38.1" r="1.45"/><circle cx="605.6" cy="71.7" r="1.45"/><circle cx="590.5" cy="79.8" r="1.45"/><circle cx="594.0" cy="81.0" r="1.45"/><circle cx="581.3" cy="87.9" r="1.45"/><circle cx="565.1" cy="74.5" r="1.45"/><circle cx="577.3" cy="64.7" r="1.45"/><circle cx="602.3" cy="29.0" r="1.45"/><circle cx="605.1" cy="29.4" r="1.45"/><circle cx="622.0" cy="22.5" r="1.45"/><circle cx="623.6" cy="22.5" r="1.45"/><circle cx="632.4" cy="22.0" r="1.45"/><circle cx="611.6" cy="33.6" r="1.45"/><circle cx="608.1" cy="37.1" r="1.45"/><circle cx="642.9" cy="48.6" r="1.45"/><circle cx="648.6" cy="45.2" r="1.45"/><circle cx="654.4" cy="49.1" r="1.45"/><circle cx="633.6" cy="55.1" r="1.45"/><circle cx="660.2" cy="42.9" r="1.45"/><circle cx="662.5" cy="41.8" r="1.45"/><circle cx="664.8" cy="41.8" r="1.45"/><circle cx="669.5" cy="44.1" r="1.45"/><circle cx="671.8" cy="29.0" r="1.45"/><circle cx="664.8" cy="48.7" r="1.45"/><circle cx="659.7" cy="49.9" r="1.45"/><circle cx="657.8" cy="49.2" r="1.45"/><circle cx="647.4" cy="45.9" r="1.45"/><circle cx="641.1" cy="48.7" r="1.45"/><circle cx="637.0" cy="47.6" r="1.45"/><circle cx="633.5" cy="55.7" r="1.45"/><circle cx="631.9" cy="49.9" r="1.45"/><circle cx="648.6" cy="205.0" r="1.45"/><circle cx="616.5" cy="66.8" r="1.45"/><circle cx="622.7" cy="64.1" r="1.45"/><circle cx="605.7" cy="71.1" r="1.45"/><circle cx="622.7" cy="73.8" r="1.45"/><circle cx="625.9" cy="75.1" r="1.45"/><circle cx="626.5" cy="79.2" r="1.45"/><circle cx="633.5" cy="73.0" r="1.45"/><circle cx="643.5" cy="74.3" r="1.45"/><circle cx="649.7" cy="72.2" r="1.45"/><circle cx="655.1" cy="67.6" r="1.45"/><circle cx="648.1" cy="80.3" r="1.45"/><circle cx="653.5" cy="93.8" r="1.45"/><circle cx="632.7" cy="55.4" r="1.45"/><circle cx="590.8" cy="80.3" r="1.45"/><circle cx="594.1" cy="81.1" r="1.45"/><circle cx="581.4" cy="87.8" r="1.45"/><circle cx="606.2" cy="101.9" r="1.45"/><circle cx="623.2" cy="101.4" r="1.45"/><circle cx="584.1" cy="106.8" r="1.45"/><circle cx="591.4" cy="116.2" r="1.45"/><circle cx="657.8" cy="51.4" r="1.45"/></g>
<line x1="411.29" y1="184.29" x2="673.51" y2="10.26" stroke="#ff0000" stroke-width="2.00"/>
<g fill="#1a1a1a"><rect x="400.10" y="2.80" width="1.60" height="217.05"/><rect x="683.60" y="2.80" width="1.40" height="217.05"/><rect x="400.10" y="2.80" width="284.90" height="1.20"/><rect x="400.10" y="218.55" width="284.90" height="1.30"/></g>
<path d="M411.29 219.10v-3.50M411.29 3.30v3.50M463.73 219.10v-3.50M463.73 3.30v3.50M516.18 219.10v-3.50M516.18 3.30v3.50M568.62 219.10v-3.50M568.62 3.30v3.50M621.07 219.10v-3.50M621.07 3.30v3.50M673.51 219.10v-3.50M673.51 3.30v3.50M400.80 219.10h3.50M684.00 219.10h-3.50M400.80 184.29h3.50M684.00 184.29h-3.50M400.80 149.49h3.50M684.00 149.49h-3.50M400.80 114.68h3.50M684.00 114.68h-3.50M400.80 79.87h3.50M684.00 79.87h-3.50M400.80 45.07h3.50M684.00 45.07h-3.50M400.80 10.26h3.50M684.00 10.26h-3.50" stroke="#1a1a1a" stroke-width="1.2" fill="none"/>
<text x="411.29" y="235.50" text-anchor="middle" class="tk">0.1</text>
<text x="463.73" y="235.50" text-anchor="middle" class="tk">0.2</text>
<text x="516.18" y="235.50" text-anchor="middle" class="tk">0.3</text>
<text x="568.62" y="235.50" text-anchor="middle" class="tk">0.4</text>
<text x="621.07" y="235.50" text-anchor="middle" class="tk">0.5</text>
<text x="673.51" y="235.50" text-anchor="middle" class="tk">0.6</text>
<text x="396.20" y="223.40" text-anchor="end" class="tk">0</text>
<text x="396.20" y="188.59" text-anchor="end" class="tk">0.1</text>
<text x="396.20" y="153.78" text-anchor="end" class="tk">0.2</text>
<text x="396.20" y="118.98" text-anchor="end" class="tk">0.3</text>
<text x="396.20" y="84.17" text-anchor="end" class="tk">0.4</text>
<text x="396.20" y="49.36" text-anchor="end" class="tk">0.5</text>
<text x="396.20" y="14.56" text-anchor="end" class="tk">0.6</text>
<text x="544.60" y="255.60" text-anchor="middle" class="lb">True A (<tspan font-family="Liberation Serif" font-style="italic" font-size="15.5px">&#956;</tspan>m)</text>
<text transform="translate(368.00 110.40) rotate(-90)" text-anchor="middle" class="lb">Predicted A (<tspan font-family="Liberation Serif" font-style="italic" font-size="15.5px">&#956;</tspan>m)</text>
<rect x="408.00" y="10.50" width="83.60" height="33.90" fill="#ffffff"/>
<g fill="#1a1a1a"><rect x="407.45" y="9.95" width="1.10" height="35.00"/><rect x="491.05" y="9.95" width="1.10" height="35.00"/><rect x="407.45" y="9.95" width="84.70" height="1.10"/><rect x="407.45" y="43.85" width="84.70" height="1.10"/></g>
<circle cx="423.70" cy="19.60" r="1.45" fill="#0000ff"/>
<line x1="410.70" y1="35.30" x2="436.80" y2="35.30" stroke="#ff0000" stroke-width="2.00"/>
<text x="438.90" y="24.50" class="lg">predicted</text>
<text x="438.90" y="39.70" class="lg">true</text>
<text x="352.50" y="10.40" class="pn">(b)</text>
</svg></body></html>
